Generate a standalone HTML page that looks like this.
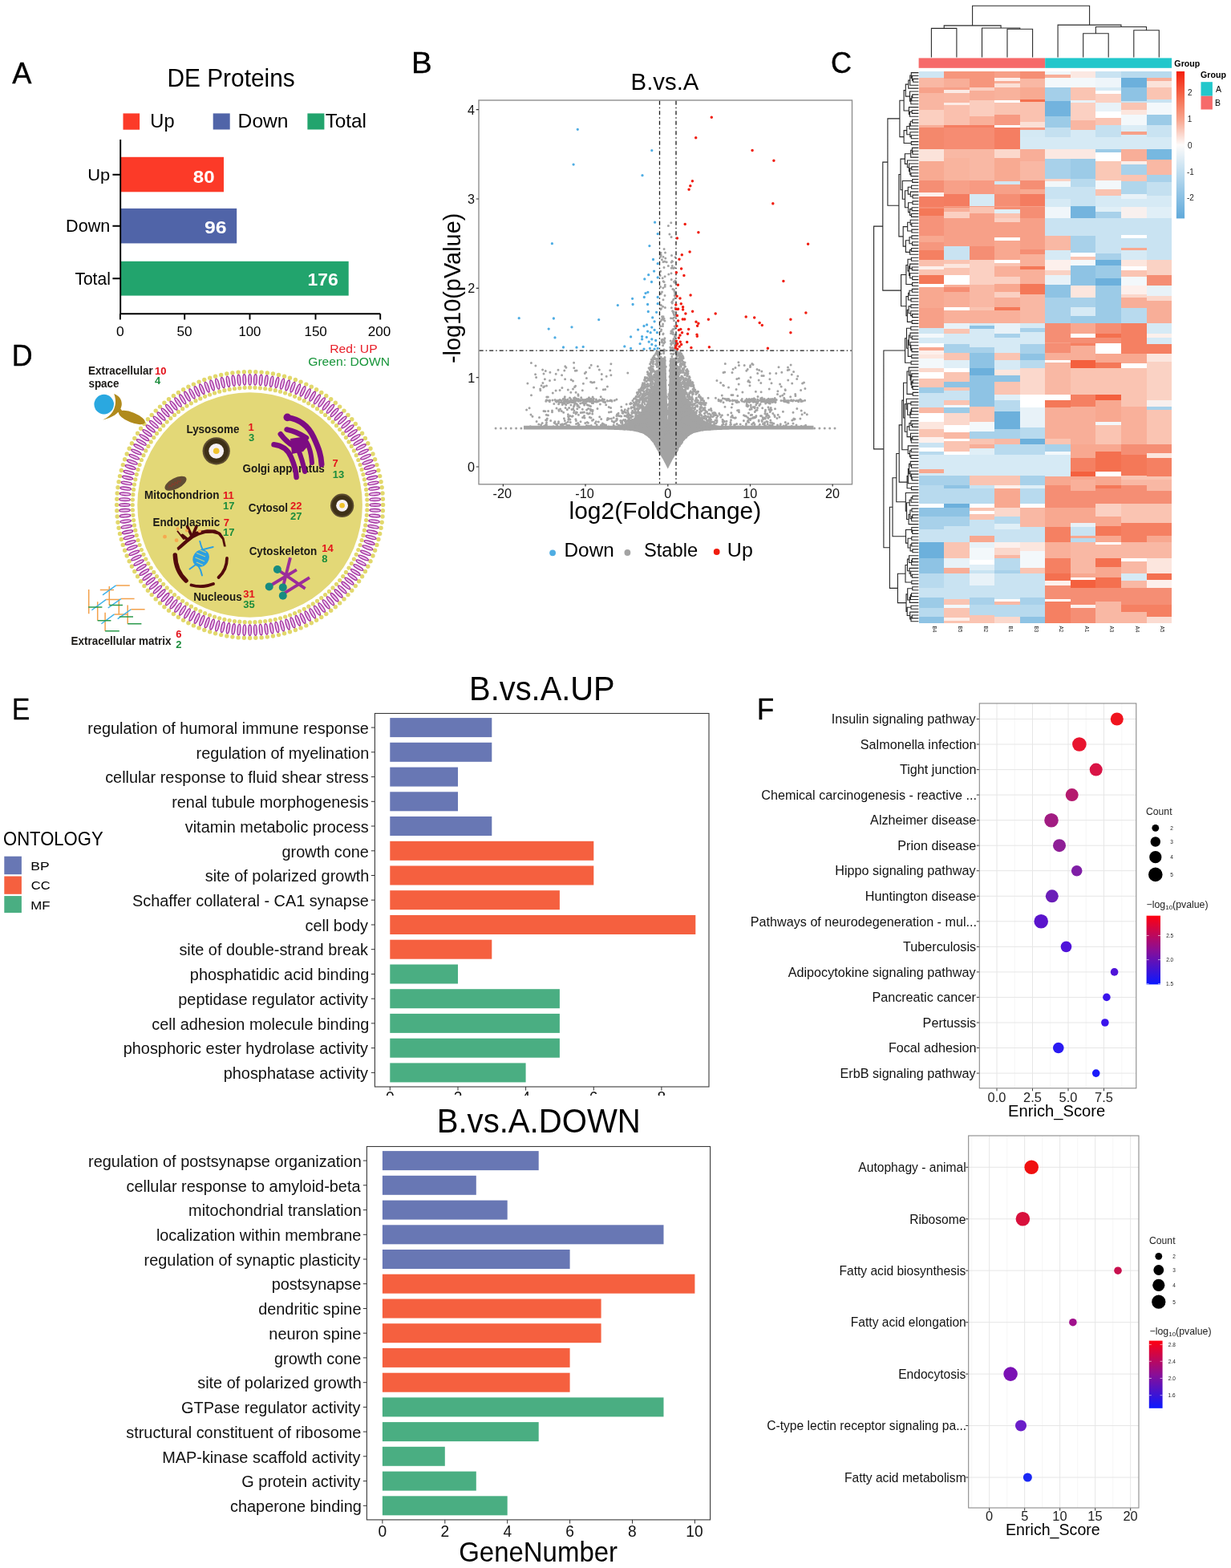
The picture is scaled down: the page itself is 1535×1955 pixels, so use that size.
<!DOCTYPE html>
<html><head><meta charset="utf-8"><title>Figure</title>
<style>html,body{margin:0;padding:0;background:#fff;}svg{display:block;}
text{font-family:"Liberation Sans",Arial,Helvetica,sans-serif;}</style></head>
<body><svg width="1535" height="1955" viewBox="0 0 1535 1955">
<rect width="1535" height="1955" fill="#fff"/>
<text x="15.20" y="103.8" font-size="37.2" textLength="24.17" lengthAdjust="spacingAndGlyphs" stroke="#000" stroke-width="0.4">A</text>
<text x="208.41" y="108.1" font-size="31.5" textLength="159.35" lengthAdjust="spacingAndGlyphs">DE Proteins</text>
<rect x="153.5" y="141.4" width="20.6" height="20.3" fill="#FC3A28"/>
<text x="187.33" y="158.7" font-size="24.4" textLength="30.20" lengthAdjust="spacingAndGlyphs">Up</text>
<rect x="265.7" y="141.4" width="21" height="20.1" fill="#5064A8"/>
<text x="296.63" y="158.7" font-size="24.4" textLength="62.91" lengthAdjust="spacingAndGlyphs">Down</text>
<rect x="383.4" y="141.4" width="21" height="20.1" fill="#22A46D"/>
<text x="405.71" y="158.7" font-size="24.4" textLength="51.32" lengthAdjust="spacingAndGlyphs">Total</text>
<rect x="150" y="195.8" width="129" height="43.5" fill="#FC3A28"/>
<rect x="150" y="259.9" width="145.2" height="43.5" fill="#5064A8"/>
<rect x="150" y="325.8" width="284.7" height="42.8" fill="#22A46D"/>
<text x="240.88" y="227.7" font-size="22.5" textLength="26.74" lengthAdjust="spacingAndGlyphs" font-weight="bold" fill="#fff">80</text>
<text x="254.93" y="290.6" font-size="22.5" textLength="27.59" lengthAdjust="spacingAndGlyphs" font-weight="bold" fill="#fff">96</text>
<text x="383.62" y="355.5" font-size="22.5" textLength="38.26" lengthAdjust="spacingAndGlyphs" font-weight="bold" fill="#fff">176</text>
<path d="M150.2 174V391.3H474.2" fill="none" stroke="#000" stroke-width="1.9"/>
<path d="M149.9 391.3V398.6M230.2 391.3V398.6M311.5 391.3V398.6M393.5 391.3V398.6M474.2 391.3V398.6M140.4 217.7H150M140.4 281.7H150M140.4 347.2H150" stroke="#000" stroke-width="1.9"/>
<text x="145.00" y="418.6" font-size="16.6" textLength="9.73" lengthAdjust="spacingAndGlyphs">0</text>
<text x="220.41" y="418.6" font-size="16.6" textLength="19.13" lengthAdjust="spacingAndGlyphs">50</text>
<text x="297.45" y="418.6" font-size="16.6" textLength="27.90" lengthAdjust="spacingAndGlyphs">100</text>
<text x="379.42" y="418.6" font-size="16.6" textLength="28.43" lengthAdjust="spacingAndGlyphs">150</text>
<text x="458.85" y="418.6" font-size="16.6" textLength="28.51" lengthAdjust="spacingAndGlyphs">200</text>
<text x="109.16" y="224.7" font-size="21.1" textLength="27.99" lengthAdjust="spacingAndGlyphs">Up</text>
<text x="82.07" y="289.2" font-size="21.8" textLength="55.27" lengthAdjust="spacingAndGlyphs">Down</text>
<text x="93.38" y="354.6" font-size="21.5" textLength="44.44" lengthAdjust="spacingAndGlyphs">Total</text>
<text x="411.24" y="440.3" font-size="15.0" textLength="59.41" lengthAdjust="spacingAndGlyphs" fill="#E8202A">Red: UP</text>
<text x="384.22" y="455.7" font-size="15.3" textLength="101.85" lengthAdjust="spacingAndGlyphs" fill="#17953A">Green: DOWN</text>
<text x="513.12" y="90.8" font-size="37.2" textLength="25.68" lengthAdjust="spacingAndGlyphs" stroke="#000" stroke-width="0.4">B</text>
<text x="786.55" y="111.8" font-size="30.2" textLength="84.84" lengthAdjust="spacingAndGlyphs">B.vs.A</text>
<rect x="597" y="125" width="465.5" height="478.8" fill="none" stroke="#8F8F8F" stroke-width="1.4"/>
<path d="M653.0 535.5 L655.2 535.5 L657.3 535.5 L659.5 535.5 L661.6 535.5 L663.8 535.5 L665.9 535.5 L668.0 535.5 L670.2 535.5 L672.3 535.5 L674.5 535.5 L676.6 535.5 L678.8 535.5 L680.9 535.5 L683.1 535.5 L685.2 535.5 L687.3 535.5 L689.5 535.5 L691.6 535.5 L693.8 535.5 L695.9 535.5 L698.1 535.5 L700.2 535.5 L702.4 535.5 L704.5 535.5 L706.6 535.5 L708.8 535.5 L710.9 535.5 L713.1 535.5 L715.2 535.5 L717.4 535.5 L719.5 535.5 L721.7 535.5 L723.8 535.5 L726.0 535.5 L728.1 535.5 L730.2 535.5 L732.4 535.5 L734.5 535.5 L736.7 535.5 L738.8 535.5 L741.0 535.5 L743.1 535.6 L745.3 535.6 L747.4 535.6 L749.5 535.6 L751.7 535.6 L753.8 535.6 L756.0 535.6 L758.1 535.7 L760.3 535.7 L762.4 535.7 L764.6 535.8 L766.7 535.9 L768.9 536.0 L771.0 536.1 L773.1 536.2 L775.3 536.3 L777.4 536.4 L779.6 536.5 L781.7 536.6 L783.9 536.8 L786.0 537.1 L788.2 537.3 L790.3 537.5 L792.5 537.9 L794.6 538.5 L796.7 539.1 L798.9 539.6 L801.0 540.2 L803.2 541.3 L805.3 542.7 L807.5 544.2 L809.6 546.3 L811.8 548.4 L813.9 551.2 L816.0 554.2 L818.2 557.6 L820.3 561.6 L822.5 565.5 L823.0 566.4 L823.5 567.3 L824.0 568.2 L824.5 569.1 L825.0 570.0 L825.6 570.9 L826.1 571.8 L826.6 572.6 L827.1 573.5 L827.6 574.4 L828.1 575.4 L828.6 576.4 L829.2 577.4 L829.7 578.4 L830.2 579.4 L830.7 580.4 L831.2 581.4 L831.7 582.4 L832.2 583.4 L832.8 584.4 L833.3 583.4 L833.8 582.4 L834.3 581.4 L834.8 580.4 L835.3 579.4 L835.8 578.4 L836.3 577.4 L836.9 576.4 L837.4 575.4 L837.9 574.4 L838.4 573.5 L838.9 572.6 L839.4 571.8 L839.9 570.9 L840.5 570.0 L841.0 569.1 L841.5 568.2 L842.0 567.3 L842.5 566.4 L843.0 565.5 L845.2 561.5 L847.4 557.5 L849.5 554.1 L851.7 551.1 L853.9 548.2 L856.0 546.1 L858.2 544.0 L860.4 542.5 L862.6 541.1 L864.7 540.1 L866.9 539.6 L869.1 539.0 L871.2 538.4 L873.4 537.8 L875.6 537.5 L877.8 537.3 L879.9 537.0 L882.1 536.8 L884.3 536.6 L886.4 536.5 L888.6 536.4 L890.8 536.3 L893.0 536.2 L895.1 536.1 L897.3 536.0 L899.5 535.9 L901.6 535.8 L903.8 535.7 L906.0 535.7 L908.1 535.7 L910.3 535.6 L912.5 535.6 L914.7 535.6 L916.8 535.6 L919.0 535.6 L921.2 535.6 L923.3 535.5 L925.5 535.5 L927.7 535.5 L929.9 535.5 L932.0 535.5 L934.2 535.5 L936.4 535.5 L938.5 535.5 L940.7 535.5 L942.9 535.5 L945.1 535.5 L947.2 535.5 L949.4 535.5 L951.6 535.5 L953.7 535.5 L955.9 535.5 L958.1 535.5 L960.3 535.5 L962.4 535.5 L964.6 535.5 L966.8 535.5 L968.9 535.5 L971.1 535.5 L973.3 535.5 L975.5 535.5 L977.6 535.5 L979.8 535.5 L982.0 535.5 L984.1 535.5 L986.3 535.5 L988.5 535.5 L990.6 535.5 L992.8 535.5 L995.0 535.5 L997.2 535.5 L999.3 535.5 L1001.5 535.5 L1003.7 535.5 L1005.8 535.5 L1008.0 535.5 L1010.2 535.5 L1012.4 535.5 L1014.5 535.5 L1014.5 530.8 L1012.4 530.8 L1010.2 530.8 L1008.0 530.8 L1005.8 530.8 L1003.7 530.8 L1001.5 530.8 L999.3 530.8 L997.2 530.8 L995.0 530.8 L992.8 530.8 L990.6 530.8 L988.5 530.8 L986.3 530.8 L984.1 530.8 L982.0 530.8 L979.8 530.8 L977.6 530.8 L975.5 530.8 L973.3 530.8 L971.1 530.8 L968.9 530.8 L966.8 530.8 L964.6 530.8 L962.4 530.8 L960.3 530.8 L958.1 530.8 L955.9 530.8 L953.7 530.8 L951.6 530.8 L949.4 530.8 L947.2 530.8 L945.1 530.8 L942.9 530.8 L940.7 530.8 L938.5 530.8 L936.4 530.8 L934.2 530.8 L932.0 530.8 L929.9 530.8 L927.7 530.8 L925.5 530.8 L923.3 530.8 L921.2 530.8 L919.0 530.8 L916.8 530.8 L914.7 530.8 L912.5 530.8 L910.3 530.8 L908.1 530.8 L906.0 530.8 L903.8 530.8 L901.6 530.8 L899.5 530.8 L897.3 530.8 L895.1 530.6 L893.0 530.1 L890.8 529.5 L888.6 528.9 L886.4 528.2 L884.3 527.3 L882.1 526.4 L879.9 525.3 L877.8 524.0 L875.6 522.6 L873.4 521.0 L871.2 519.1 L869.1 517.0 L866.9 514.6 L864.7 511.8 L862.6 508.6 L860.4 505.0 L858.2 500.9 L856.0 496.2 L853.9 490.9 L851.7 484.8 L849.5 477.8 L847.4 469.9 L845.2 460.8 L843.0 450.4 L842.5 446.2 L842.0 446.2 L841.5 446.2 L841.0 446.2 L840.5 446.2 L839.9 446.2 L839.4 446.2 L838.9 446.2 L838.4 446.2 L837.9 446.2 L837.4 446.2 L836.9 446.2 L836.3 446.2 L835.8 446.2 L835.3 446.2 L834.8 461.7 L834.3 477.9 L833.8 494.0 L833.3 510.2 L832.8 526.3 L832.2 510.2 L831.7 494.0 L831.2 477.9 L830.7 461.7 L830.2 446.2 L829.7 446.2 L829.2 446.2 L828.6 446.2 L828.1 446.2 L827.6 446.2 L827.1 446.2 L826.6 446.2 L826.1 446.2 L825.6 446.2 L825.0 446.2 L824.5 446.2 L824.0 446.2 L823.5 446.2 L823.0 446.2 L822.5 450.4 L820.3 460.7 L818.2 469.7 L816.0 477.6 L813.9 484.5 L811.8 490.6 L809.6 495.9 L807.5 500.6 L805.3 504.7 L803.2 508.3 L801.0 511.4 L798.9 514.2 L796.7 516.6 L794.6 518.8 L792.5 520.7 L790.3 522.3 L788.2 523.8 L786.0 525.0 L783.9 526.1 L781.7 527.1 L779.6 528.0 L777.4 528.7 L775.3 529.4 L773.1 530.0 L771.0 530.5 L768.9 530.8 L766.7 530.8 L764.6 530.8 L762.4 530.8 L760.3 530.8 L758.1 530.8 L756.0 530.8 L753.8 530.8 L751.7 530.8 L749.5 530.8 L747.4 530.8 L745.3 530.8 L743.1 530.8 L741.0 530.8 L738.8 530.8 L736.7 530.8 L734.5 530.8 L732.4 530.8 L730.2 530.8 L728.1 530.8 L726.0 530.8 L723.8 530.8 L721.7 530.8 L719.5 530.8 L717.4 530.8 L715.2 530.8 L713.1 530.8 L710.9 530.8 L708.8 530.8 L706.6 530.8 L704.5 530.8 L702.4 530.8 L700.2 530.8 L698.1 530.8 L695.9 530.8 L693.8 530.8 L691.6 530.8 L689.5 530.8 L687.3 530.8 L685.2 530.8 L683.1 530.8 L680.9 530.8 L678.8 530.8 L676.6 530.8 L674.5 530.8 L672.3 530.8 L670.2 530.8 L668.0 530.8 L665.9 530.8 L663.8 530.8 L661.6 530.8 L659.5 530.8 L657.3 530.8 L655.2 530.8 L653.0 530.8Z" fill="#A3A3A3"/>
<path d="M806.3 481.9h0M818.7 533.2h0M857.6 504.0h0M843.1 440.1h0M827.8 479.2h0M798.2 537.9h0M811.2 519.2h0M809.1 527.8h0M867.7 514.6h0M877.9 534.8h0M817.4 464.4h0M850.6 491.7h0M822.3 518.8h0M827.5 524.9h0M847.4 485.8h0M866.3 487.5h0M827.1 487.7h0M820.9 559.2h0M847.9 526.9h0M819.6 557.3h0M887.1 525.8h0M782.0 519.6h0M843.9 473.7h0M844.5 561.3h0M808.9 515.3h0M837.1 492.0h0M807.2 520.1h0M879.4 518.2h0M834.2 497.3h0M845.0 520.2h0M803.9 509.7h0M811.2 461.5h0M847.0 511.2h0M836.6 536.1h0M818.5 556.0h0M801.3 508.2h0M795.8 506.3h0M847.2 502.0h0M843.0 548.2h0M843.9 444.5h0M806.9 523.5h0M826.9 451.3h0M873.2 512.7h0M846.3 464.1h0M847.6 457.5h0M815.1 485.8h0M869.9 522.5h0M871.5 534.3h0M834.9 514.6h0M814.3 531.4h0M818.6 473.8h0M811.5 478.3h0M827.9 480.3h0M866.7 521.6h0M871.7 502.7h0M859.6 536.0h0M847.6 477.8h0M854.5 477.7h0M827.0 465.1h0M820.2 518.9h0M875.5 523.8h0M807.7 478.4h0M827.6 439.1h0M855.6 464.2h0M869.4 534.0h0M816.7 473.2h0M820.4 472.5h0M804.8 524.0h0M798.6 536.7h0M816.9 552.5h0M799.3 490.4h0M846.2 535.4h0M834.6 533.9h0M877.8 501.3h0M809.9 506.8h0M822.8 534.9h0M836.7 470.6h0M856.8 525.0h0M829.2 482.8h0M811.5 504.9h0M879.0 508.6h0M842.8 491.8h0M811.7 485.8h0M863.2 530.2h0M826.1 546.9h0M818.1 478.0h0M810.5 500.9h0M809.2 512.2h0M820.6 497.0h0M867.2 530.8h0M844.5 465.6h0M816.6 509.2h0M831.6 526.0h0M818.0 478.9h0M849.5 494.4h0M813.5 526.7h0M806.8 519.5h0M805.7 516.2h0M811.0 478.6h0M908.0 532.5h0M861.5 538.5h0M801.4 537.0h0M875.5 524.2h0M861.9 525.6h0M809.2 537.3h0M827.9 476.2h0M796.9 533.2h0M842.7 563.4h0M821.3 469.6h0M788.3 523.2h0M841.4 474.9h0M838.3 525.0h0M900.4 517.8h0M847.1 498.1h0M793.3 516.9h0M866.4 518.9h0M813.2 511.0h0M819.6 469.6h0M845.0 461.3h0M831.7 532.2h0M810.9 545.2h0M809.1 485.8h0M850.3 510.3h0M819.6 540.7h0M803.5 513.8h0M851.5 528.8h0M853.4 544.0h0M883.3 535.3h0M867.4 536.0h0M820.7 515.3h0M817.7 519.1h0M849.3 445.0h0M849.5 498.6h0M790.1 531.9h0M811.2 502.1h0M847.9 548.0h0M820.0 538.2h0M849.8 550.1h0M823.6 540.9h0M848.9 473.8h0M826.0 465.8h0M808.9 481.1h0M779.3 524.8h0M816.4 544.4h0M885.6 529.4h0M871.3 528.4h0M830.3 457.3h0M771.9 533.0h0M851.7 540.2h0M826.7 471.9h0M818.9 551.4h0M818.6 450.4h0M868.3 517.7h0M844.9 438.8h0M792.8 503.5h0M796.9 518.1h0M812.0 456.5h0M780.0 526.6h0M829.9 486.4h0M847.5 534.8h0M901.4 532.9h0M850.5 536.2h0M858.9 525.8h0M865.4 537.5h0M872.8 525.2h0M801.5 536.7h0M801.8 530.3h0M829.2 449.6h0M888.7 519.5h0M792.4 528.3h0M849.6 487.2h0M856.2 479.8h0M804.2 483.0h0M885.0 526.0h0M860.9 480.8h0M817.6 447.2h0M821.7 439.8h0M848.5 505.0h0M845.0 551.5h0M818.3 464.6h0M798.0 516.5h0M857.9 465.8h0M848.5 529.6h0M810.9 474.6h0M805.3 496.6h0M854.4 474.2h0M808.4 473.1h0M821.5 507.7h0M832.3 514.1h0M805.3 515.7h0M822.8 481.1h0M822.5 510.7h0M824.3 546.9h0M794.5 518.3h0M810.9 474.1h0M801.8 509.5h0M845.6 522.1h0M854.7 479.3h0M833.7 526.0h0M856.1 523.9h0M848.3 445.9h0M862.6 537.2h0M852.8 535.9h0M864.1 489.8h0M849.6 552.5h0M793.5 498.0h0M807.1 487.1h0M850.7 548.0h0M780.6 514.4h0M853.7 474.9h0M844.5 492.6h0M840.8 476.4h0M803.8 481.3h0M821.7 525.1h0M858.6 522.0h0M886.4 517.4h0M797.0 487.1h0M832.6 532.9h0M779.9 523.4h0M836.0 460.3h0M810.8 454.0h0M819.3 449.2h0M802.0 497.2h0M838.6 520.4h0M834.9 543.2h0M837.9 453.5h0M806.2 490.4h0M820.8 438.4h0M793.4 533.3h0M810.4 466.5h0M879.5 511.8h0M799.8 528.8h0M867.1 536.8h0M817.5 500.1h0M859.5 521.5h0M850.4 550.8h0M865.4 520.1h0M808.7 519.8h0M820.6 549.4h0M845.7 460.9h0M865.7 522.1h0M850.6 445.3h0M853.3 473.2h0M768.9 522.2h0M817.2 485.1h0M798.5 529.5h0M865.2 521.7h0M848.4 449.6h0M853.2 486.5h0M812.1 494.5h0M816.1 504.9h0M800.8 505.0h0M813.6 528.4h0M802.5 490.5h0M809.2 526.1h0M803.6 525.4h0M861.4 481.3h0M869.7 529.8h0M872.7 526.6h0M862.5 499.0h0M806.4 488.5h0M816.1 534.3h0M842.1 477.2h0M874.9 507.5h0M811.1 488.8h0M806.5 534.5h0M757.2 523.6h0M865.9 529.8h0M805.6 471.4h0M789.1 519.3h0M811.9 450.8h0M849.7 513.0h0M799.8 522.7h0M851.9 445.2h0M816.5 539.2h0M821.0 560.9h0M854.1 452.1h0M815.2 444.2h0M856.1 523.9h0M793.1 521.2h0M805.7 511.7h0M807.6 485.8h0M847.5 524.4h0M831.8 516.5h0M812.3 473.0h0M815.9 487.6h0M795.6 489.3h0M872.5 534.7h0M800.1 530.6h0M812.3 470.4h0M856.5 504.9h0M806.0 541.0h0M845.4 459.5h0M765.2 520.8h0M798.8 532.3h0M844.9 447.2h0M861.8 526.8h0M802.1 496.2h0M875.1 502.3h0M804.2 481.0h0M782.6 525.3h0M815.1 523.2h0M786.8 531.1h0M824.0 465.7h0M848.3 477.3h0M809.3 528.5h0M818.1 533.4h0M851.8 521.7h0M852.0 545.6h0M813.3 512.4h0M807.7 463.8h0M809.1 515.3h0M843.7 471.3h0M817.9 537.1h0M800.0 516.7h0M812.9 514.3h0M813.9 544.4h0M798.3 497.1h0M793.6 519.5h0M819.5 542.1h0M806.6 519.4h0M846.1 460.1h0M808.2 529.6h0M821.8 488.5h0M860.9 536.7h0M835.1 469.8h0M815.4 548.4h0M769.3 517.6h0M874.4 504.5h0M857.5 497.9h0M851.6 521.4h0M878.8 530.0h0M857.8 521.7h0M828.3 524.5h0M771.9 530.2h0M873.4 501.6h0M869.5 505.2h0M797.4 523.4h0M856.0 462.6h0M804.3 492.6h0M839.7 440.9h0M822.9 559.2h0M861.2 540.2h0M791.1 502.8h0M800.9 515.4h0M858.1 483.6h0M824.3 478.1h0M862.9 538.5h0M828.8 500.9h0M842.5 562.1h0M860.5 526.9h0M801.9 518.2h0M862.8 513.9h0M848.9 453.0h0M878.7 510.9h0M855.4 473.9h0M817.0 470.7h0M820.5 510.7h0M854.4 465.9h0M831.6 530.4h0M802.7 493.1h0M825.5 448.0h0M806.0 534.0h0M808.1 490.7h0M864.3 503.7h0M848.2 530.5h0M867.0 514.2h0M843.9 561.8h0M814.1 449.5h0M839.3 463.3h0M859.0 536.5h0M791.4 496.7h0M847.2 481.8h0M803.8 531.0h0M857.7 493.0h0M783.9 534.2h0M798.5 497.9h0M804.4 518.0h0M836.5 487.0h0M795.9 525.1h0M862.6 499.1h0M785.9 523.7h0M832.8 534.6h0M802.1 526.7h0M769.4 523.2h0M785.0 530.9h0M856.2 543.0h0M822.6 479.9h0M820.8 493.2h0M790.8 535.9h0M825.0 472.4h0M871.9 517.2h0M859.7 489.8h0M867.9 513.4h0M809.2 510.7h0M809.0 540.2h0M847.2 474.0h0M776.8 514.0h0M819.3 536.3h0M844.5 538.7h0M853.4 480.3h0M807.3 463.8h0M843.4 505.0h0M820.2 539.2h0M829.3 510.5h0M846.6 471.1h0M847.3 530.4h0M811.7 466.6h0M854.0 502.6h0M858.7 473.3h0M817.8 541.5h0M809.9 530.0h0M867.0 537.7h0M782.9 528.6h0M866.0 532.1h0M816.7 507.6h0M852.9 532.4h0M813.4 530.2h0M834.8 513.4h0M852.5 482.0h0M864.6 487.4h0M811.3 458.1h0M827.5 537.0h0M825.3 541.3h0M843.9 557.1h0M893.6 521.1h0M835.4 469.0h0M810.9 478.3h0M782.4 511.8h0M800.7 493.9h0M794.9 491.7h0M791.2 507.4h0M853.3 545.4h0M875.4 530.0h0M815.4 447.5h0M839.1 519.6h0M804.4 540.2h0M817.7 440.9h0M861.8 509.0h0M845.7 493.3h0M837.7 543.8h0M821.8 474.5h0M839.3 499.1h0M836.3 540.9h0M828.2 450.3h0M815.1 520.8h0M799.6 495.8h0M779.6 518.8h0M795.0 527.3h0M839.2 531.7h0M856.8 510.7h0M848.6 457.1h0M819.3 457.4h0M819.5 533.4h0M861.2 520.4h0M844.5 547.5h0M838.9 535.3h0M856.7 535.5h0M858.0 481.1h0M852.5 486.6h0M839.6 459.6h0M820.5 474.0h0M818.3 533.5h0M822.7 509.7h0M795.8 498.8h0M829.0 445.5h0M850.3 491.2h0M801.1 529.4h0M787.0 525.1h0M817.2 554.1h0M875.0 504.2h0M851.4 529.9h0M809.1 458.7h0M845.3 451.5h0M820.2 486.5h0M822.4 563.9h0M805.6 538.6h0M835.9 454.4h0M880.2 529.2h0M820.4 542.0h0M883.5 528.2h0M889.9 518.5h0M806.3 500.6h0M816.7 464.1h0M840.6 494.4h0M846.1 522.8h0M820.1 553.5h0M833.1 516.2h0M819.3 453.8h0M869.1 536.4h0M840.5 495.7h0M851.2 505.6h0M861.0 512.7h0M868.2 524.3h0M863.8 505.6h0M816.5 552.8h0M804.5 479.5h0M864.8 480.2h0M857.1 537.6h0M822.5 555.1h0M854.3 542.7h0M841.5 469.2h0M860.3 538.1h0M793.4 515.9h0M851.1 485.6h0M842.8 489.9h0M864.0 477.5h0M835.7 455.7h0M846.1 555.0h0M812.0 469.0h0M804.3 530.4h0M838.3 537.9h0M817.6 534.9h0M853.6 492.4h0M807.4 471.2h0M851.9 498.1h0M817.1 476.6h0M864.8 519.6h0M861.5 536.4h0M824.2 495.4h0M821.4 495.4h0M820.4 492.9h0M874.5 498.4h0M822.3 552.1h0M806.3 508.4h0M818.0 533.0h0M890.3 526.2h0M835.4 507.1h0M869.5 488.3h0M834.1 512.0h0M850.7 449.9h0M857.2 538.7h0M802.7 537.2h0M859.2 523.5h0M860.3 539.5h0M791.0 528.9h0M809.9 501.8h0M816.9 527.6h0M818.3 541.1h0M810.2 469.8h0M849.4 528.2h0M802.5 511.6h0M858.4 540.6h0M870.1 534.7h0M824.4 504.7h0M786.9 520.5h0M855.9 490.7h0M847.2 511.1h0M814.6 519.2h0M826.7 544.0h0M846.3 518.6h0M846.3 555.7h0M818.8 475.9h0M848.3 439.6h0M794.4 530.6h0M911.5 529.0h0M811.1 473.2h0M862.5 539.7h0M863.8 536.0h0M850.3 485.2h0M858.5 541.0h0M855.6 519.4h0M848.2 479.6h0M865.8 530.5h0M863.6 481.3h0M822.4 486.6h0M852.3 545.1h0M816.3 519.2h0M832.3 532.8h0M804.6 533.2h0M799.5 514.3h0M800.7 493.9h0M893.9 534.4h0M839.6 501.2h0M839.9 481.7h0M787.7 530.0h0M807.5 490.0h0M819.0 451.6h0M870.2 532.1h0M795.6 503.7h0M833.4 528.2h0M850.4 551.4h0M850.5 517.6h0M797.3 501.5h0M812.8 548.2h0M828.9 508.7h0M775.1 511.5h0M844.4 548.2h0M851.2 548.1h0M816.1 547.8h0M823.2 508.0h0M904.9 529.4h0M768.9 518.4h0M825.0 513.2h0M848.4 536.3h0M813.8 513.6h0M826.6 507.4h0M852.1 470.9h0M824.3 476.7h0M840.5 459.9h0M831.4 494.8h0M812.3 493.1h0M813.2 499.3h0M860.1 470.8h0M838.7 516.3h0M813.8 508.0h0M825.9 453.8h0M808.9 468.2h0M799.4 486.9h0M793.0 510.0h0M786.5 529.5h0M865.5 533.9h0M859.1 523.4h0M815.3 462.3h0M829.7 487.7h0M793.9 534.4h0M820.6 547.6h0M845.7 552.8h0M853.9 477.1h0M816.4 473.9h0M793.4 524.3h0M867.9 497.4h0M862.6 477.2h0M795.1 500.2h0M800.7 503.0h0M821.7 481.1h0M858.0 497.5h0M824.0 507.9h0M848.5 461.9h0M873.0 523.4h0M847.4 554.9h0M859.6 476.5h0M837.4 528.6h0M837.1 532.6h0M872.5 536.7h0M856.9 532.5h0M804.1 538.2h0M835.5 461.5h0M850.3 448.1h0M830.3 507.1h0M859.8 494.1h0M854.8 484.6h0M843.4 447.2h0M848.0 450.9h0M803.5 532.4h0M849.0 471.1h0M857.8 503.8h0M860.0 505.7h0M795.7 533.2h0M792.1 526.6h0M857.9 536.9h0M849.3 547.5h0M808.4 543.2h0M779.3 510.7h0M818.2 474.8h0M868.4 534.8h0M782.7 532.8h0M871.1 534.6h0M841.0 519.5h0M821.9 561.8h0M814.4 550.1h0M808.2 481.9h0M784.8 528.9h0M793.3 521.2h0M811.3 471.3h0M824.0 514.1h0M857.2 466.5h0M812.1 451.8h0M871.5 532.4h0M808.6 532.9h0M858.6 500.3h0M780.7 528.7h0M859.3 533.6h0M854.8 534.9h0M848.6 464.7h0M838.8 485.8h0M837.1 531.8h0M802.2 527.4h0M843.1 453.7h0M844.9 466.3h0M850.2 545.1h0M825.8 476.4h0M858.1 462.9h0M765.2 530.0h0M855.4 505.7h0M788.9 499.4h0M803.3 501.2h0M820.0 531.2h0M807.3 510.2h0M847.1 515.4h0M847.6 481.3h0M794.0 519.4h0M852.7 508.1h0M791.1 508.6h0M790.6 530.6h0M793.8 502.8h0M843.6 446.1h0M882.6 525.1h0M834.4 479.9h0M847.1 479.5h0M802.8 498.5h0M838.2 542.0h0M857.3 515.0h0M869.9 521.3h0M855.5 481.4h0M806.3 525.5h0M803.5 513.3h0M821.0 530.9h0M820.0 545.0h0M803.2 498.9h0M813.0 533.1h0M847.8 498.1h0M842.7 543.2h0M811.8 538.4h0M793.8 515.0h0M842.6 563.6h0M861.9 521.0h0M815.1 499.0h0M812.9 501.2h0M870.6 536.4h0M842.7 560.5h0M801.2 506.5h0M820.7 555.1h0M822.2 499.8h0M874.7 526.5h0M860.9 512.4h0M814.2 469.7h0M820.2 559.7h0M787.0 518.5h0M800.8 538.8h0M859.0 531.9h0M801.7 538.8h0M806.6 496.3h0M853.7 456.9h0M804.1 493.4h0M839.6 477.4h0M819.7 453.9h0M842.6 546.5h0M791.3 523.9h0M788.7 525.8h0M838.4 531.0h0M810.6 503.9h0M819.4 465.5h0M843.6 531.9h0M814.3 481.8h0M797.4 532.9h0M797.4 534.5h0M880.3 502.5h0M807.1 485.0h0M826.2 484.2h0M886.1 519.8h0M820.5 463.5h0M795.9 532.3h0M811.6 486.4h0M852.1 446.8h0M820.1 507.6h0M802.9 497.1h0M850.8 529.7h0M861.3 536.2h0M805.4 519.7h0M855.5 544.3h0M788.8 519.2h0M832.2 541.8h0M837.7 543.5h0M845.9 492.0h0M837.7 475.3h0M857.7 498.8h0M807.2 470.9h0M856.9 533.9h0M805.8 539.3h0M810.1 543.5h0M844.6 483.7h0M778.9 518.6h0M801.4 530.5h0M890.8 532.3h0M796.8 514.1h0M814.2 462.9h0M812.2 468.1h0M861.2 487.7h0M790.8 514.7h0M855.1 483.4h0M822.4 525.6h0M785.6 503.4h0M814.8 527.8h0M866.3 520.6h0M822.4 559.9h0M822.1 514.2h0M852.1 506.4h0M783.3 524.1h0M866.5 514.9h0M812.4 448.3h0M851.1 531.5h0M812.3 540.0h0M867.0 537.6h0M821.7 486.8h0M818.6 508.4h0M837.3 511.5h0M856.2 490.3h0M829.0 523.3h0M885.3 524.1h0M876.1 496.7h0M852.4 464.3h0M857.9 539.2h0M807.3 515.4h0M813.8 471.7h0M857.7 462.5h0M862.3 479.8h0M833.4 535.3h0M830.5 541.5h0M880.9 532.4h0M856.6 476.9h0M817.7 531.9h0M831.1 545.1h0M836.5 506.3h0M813.4 473.4h0M845.0 484.5h0M804.5 527.0h0M820.9 512.2h0M817.2 549.6h0M871.2 518.7h0M819.1 488.6h0M854.2 521.1h0M869.3 512.1h0M849.0 480.9h0M801.7 527.0h0M776.8 515.3h0M885.8 534.5h0M807.2 505.7h0M818.3 537.4h0M836.5 512.4h0M804.9 538.5h0M845.1 491.7h0M832.4 525.2h0M820.7 531.9h0M845.2 537.7h0M847.0 488.2h0M793.6 528.1h0M853.2 531.0h0M852.5 460.7h0M870.6 531.7h0M886.0 524.8h0M810.1 460.8h0M861.2 496.6h0M856.2 518.8h0M890.6 528.6h0M821.2 443.1h0M885.6 521.9h0M834.6 516.2h0M828.8 490.0h0M860.8 476.5h0M811.3 546.0h0M850.8 516.7h0M861.9 480.0h0M809.2 504.6h0M854.3 465.7h0M864.4 521.5h0M797.5 507.4h0M848.3 474.0h0M823.0 466.6h0M783.0 512.6h0M893.2 517.4h0M870.4 499.4h0M902.0 524.4h0M809.4 529.3h0M820.2 546.7h0M784.3 523.8h0M787.2 533.1h0M815.8 495.9h0M849.6 490.5h0M820.4 547.2h0M807.5 536.0h0M818.9 532.7h0M817.3 530.6h0M887.9 530.8h0M849.2 462.5h0M820.4 495.1h0M823.6 519.1h0M847.9 503.4h0M820.2 442.8h0M783.8 516.7h0M822.1 529.9h0M799.5 524.2h0M804.6 535.0h0M821.4 447.1h0M792.9 514.5h0M865.1 485.1h0M817.3 529.0h0M836.0 463.2h0M815.2 511.2h0M871.3 494.4h0M866.6 529.1h0M846.7 539.2h0M841.7 531.8h0M798.5 505.5h0M793.3 525.0h0M806.2 516.6h0M770.3 517.2h0M855.7 519.4h0M864.1 515.4h0M816.2 443.1h0M840.4 481.3h0M817.3 463.3h0M803.1 500.4h0M812.7 479.2h0M821.8 549.0h0M821.3 471.2h0M797.8 492.7h0M810.8 461.4h0M845.5 501.6h0M818.7 556.9h0M855.8 508.0h0M806.3 486.5h0M783.4 515.0h0M812.7 528.7h0M782.7 535.1h0M797.4 532.5h0M822.7 535.0h0M879.5 534.4h0M861.9 529.5h0M857.2 521.9h0M814.0 546.2h0M777.7 523.5h0M848.2 443.1h0M890.1 529.5h0M852.1 473.5h0M849.5 471.9h0M850.5 453.7h0M813.2 496.1h0M792.4 535.2h0M858.1 493.5h0M826.4 494.8h0M803.9 472.8h0M843.1 495.9h0M842.9 544.8h0M853.5 501.5h0M838.2 536.2h0M838.9 482.5h0M821.2 502.7h0M809.0 494.4h0M853.6 539.3h0M872.5 522.3h0M842.0 497.8h0M856.5 468.6h0M822.9 523.7h0M840.4 460.3h0M867.5 499.2h0M853.8 507.9h0M808.8 494.9h0M820.7 444.1h0M809.9 488.6h0M886.5 533.0h0M849.6 492.8h0M880.6 521.9h0M842.6 459.4h0M801.7 509.9h0M858.9 533.9h0M811.1 525.3h0M854.2 490.7h0M813.6 522.5h0M796.4 523.5h0M803.0 533.0h0M821.3 456.7h0M821.3 539.6h0M789.7 530.3h0M840.5 457.0h0M844.5 491.7h0M806.9 479.6h0M858.8 480.9h0M818.9 555.4h0M827.1 543.9h0M793.0 495.5h0M830.1 513.1h0M804.8 540.9h0M873.5 521.4h0M807.2 539.1h0M848.5 534.3h0M854.2 530.7h0M818.8 455.2h0M858.3 498.6h0M894.8 518.7h0M818.6 553.5h0M857.4 536.9h0M795.7 511.7h0M801.2 499.9h0M802.2 538.2h0M835.2 485.7h0M801.5 477.7h0M851.2 478.3h0M857.9 465.4h0M810.2 523.7h0M814.2 462.3h0M793.0 500.5h0M833.3 524.1h0M851.2 491.2h0M859.9 475.7h0M848.4 547.7h0M885.8 528.0h0M811.8 503.9h0M806.2 516.2h0M802.0 487.3h0M822.4 549.6h0M803.3 482.7h0M859.0 494.7h0M849.2 480.5h0M852.9 459.1h0M823.8 474.5h0M833.9 496.8h0M860.8 473.9h0M851.5 464.6h0M819.2 508.3h0M873.4 494.8h0M796.4 513.7h0M819.8 559.0h0M887.2 534.2h0M811.2 516.1h0M847.9 535.6h0M852.9 486.9h0M812.6 504.0h0M834.2 541.9h0M794.3 489.6h0M867.1 521.3h0M808.5 536.4h0M852.5 539.2h0M860.4 536.3h0M801.2 494.8h0M788.6 512.2h0M857.4 533.0h0M863.3 508.2h0M844.8 458.8h0M860.5 534.9h0M843.9 469.8h0M844.4 548.7h0M826.0 514.8h0M797.1 488.7h0M855.5 461.8h0M858.5 525.4h0M793.7 536.1h0M820.5 471.3h0M838.6 453.3h0M808.9 540.6h0M816.9 551.2h0M812.9 539.1h0M879.4 514.8h0M791.5 535.4h0M865.0 508.7h0M856.8 494.4h0M822.1 504.6h0M821.6 553.8h0M817.9 476.3h0M796.8 486.1h0M809.0 524.6h0M842.8 546.9h0M814.2 533.1h0M848.6 520.9h0M815.9 533.5h0M844.9 560.4h0M823.0 458.9h0M845.9 443.2h0M814.2 494.7h0M810.8 453.7h0M804.5 519.9h0M900.6 531.6h0M818.4 464.4h0M879.8 518.8h0M773.7 524.5h0M839.2 520.5h0M820.3 447.2h0M824.2 534.4h0M850.7 510.8h0M819.0 500.9h0M870.6 488.3h0M851.1 447.2h0M792.9 536.6h0M823.0 474.7h0M822.8 488.5h0M872.5 535.0h0M858.8 512.0h0M834.2 528.7h0M854.6 456.9h0M802.7 537.7h0M811.6 486.6h0M777.8 513.2h0M841.8 448.4h0M846.9 486.5h0M819.5 551.0h0M836.0 503.5h0M845.8 441.8h0M873.0 516.2h0M844.8 558.9h0M812.5 474.8h0M809.3 538.0h0M887.1 512.0h0M863.5 505.4h0M806.2 475.5h0M810.6 542.0h0M828.7 461.0h0M823.6 484.1h0M846.0 499.3h0M892.9 527.8h0M813.3 524.7h0M800.9 480.0h0M856.0 544.4h0M812.4 538.4h0M818.0 547.7h0M811.5 483.1h0M815.2 470.4h0M786.4 535.5h0M876.8 510.9h0M847.5 501.7h0M816.4 467.9h0M805.5 531.6h0M814.2 472.9h0M844.2 514.1h0M833.3 515.4h0M798.0 519.2h0M845.0 477.1h0M769.4 516.8h0M842.7 481.2h0M818.4 480.0h0M816.2 506.8h0M881.8 525.6h0M833.2 546.0h0M802.1 535.1h0M842.8 481.4h0M835.1 489.0h0M844.0 496.9h0M872.5 510.0h0M818.5 544.6h0M859.8 505.5h0M822.4 529.1h0M854.5 500.0h0M842.1 500.2h0M801.0 510.6h0M819.9 528.7h0M819.1 439.7h0M861.9 479.0h0M877.7 502.9h0M845.9 544.6h0M805.7 511.3h0M800.9 511.3h0M856.1 464.9h0M825.1 464.8h0M865.8 487.1h0M816.9 473.2h0M877.7 499.7h0M834.1 509.1h0M839.0 468.0h0M874.5 512.7h0M805.7 487.2h0M822.0 514.4h0M818.4 498.6h0M823.7 541.5h0M759.5 522.1h0M791.1 510.3h0M838.7 537.7h0M868.8 537.6h0M862.6 530.7h0M856.2 529.5h0M862.9 494.9h0M849.3 502.8h0M826.0 500.1h0M865.6 504.7h0M821.4 561.6h0M818.4 553.7h0M864.4 490.9h0M798.6 505.2h0M821.6 559.9h0M807.3 490.5h0M836.1 538.2h0M852.7 475.5h0M843.0 481.0h0M846.4 488.5h0M827.3 539.5h0M768.4 524.4h0M809.8 532.7h0M874.1 509.2h0M850.2 551.5h0M821.3 490.1h0M886.5 509.6h0M792.0 512.7h0M824.8 490.6h0M826.2 494.6h0M813.5 450.8h0M850.6 540.0h0M827.4 517.8h0M822.3 535.3h0M810.0 488.9h0M823.5 544.0h0M804.6 530.6h0M795.8 490.2h0M856.2 502.4h0M804.3 470.4h0M838.3 521.7h0M849.3 479.5h0M803.0 484.5h0M802.8 483.4h0M853.2 534.0h0M824.4 525.5h0M813.0 532.7h0M845.0 531.7h0M842.9 475.9h0M847.3 442.6h0M848.9 544.6h0M810.6 453.8h0M812.9 483.6h0M796.1 526.8h0M868.0 489.5h0M787.7 514.6h0M850.4 493.1h0M802.9 480.2h0M869.4 536.6h0M858.7 477.9h0M819.5 538.6h0M874.9 503.8h0M870.1 501.6h0M859.4 541.0h0M849.6 496.6h0M821.5 533.8h0M805.9 470.7h0M790.3 504.9h0M848.2 521.4h0M844.0 552.2h0M840.0 507.1h0M868.4 523.2h0M798.5 517.4h0M840.1 512.1h0M848.1 491.6h0M814.3 453.6h0M864.2 538.7h0M873.5 517.3h0M882.6 530.7h0M848.1 550.0h0M848.3 531.2h0M832.6 532.2h0M812.8 499.3h0M878.4 528.9h0M842.2 447.0h0M856.6 506.2h0M820.0 501.2h0M813.9 482.5h0M765.3 526.2h0M843.9 510.0h0M840.7 449.3h0M843.0 450.4h0M817.0 521.4h0M849.1 448.1h0M799.4 508.3h0M813.5 448.3h0M804.8 537.2h0M843.6 501.6h0M858.9 527.4h0M794.6 506.1h0M843.2 477.6h0M847.5 525.6h0M811.1 526.6h0M862.3 530.8h0M857.2 468.9h0M862.2 537.1h0M841.5 541.5h0M856.2 472.6h0M809.3 508.4h0M801.2 492.1h0M823.5 503.7h0M811.7 490.7h0M818.5 469.5h0M852.2 463.3h0M821.8 499.0h0M859.0 472.0h0M882.7 524.6h0M822.3 449.6h0M827.7 457.3h0M842.7 490.9h0M827.5 476.9h0M863.3 496.7h0M844.0 536.5h0M808.4 465.4h0M803.7 494.0h0M818.2 513.6h0M838.2 464.9h0M832.5 545.1h0M765.6 526.7h0M805.3 499.2h0M858.0 494.6h0M849.3 535.5h0M833.0 524.6h0M818.7 549.1h0M838.5 516.0h0M793.6 529.0h0M843.1 500.7h0M868.4 496.1h0M872.7 510.4h0M822.4 530.0h0M813.2 460.7h0M881.6 513.6h0M841.6 502.9h0M788.9 532.7h0M798.8 532.5h0M811.9 463.0h0M850.8 469.8h0M808.9 540.5h0M817.6 543.0h0M814.4 521.0h0M894.0 525.9h0M857.5 476.6h0M862.2 520.1h0M803.2 531.1h0M816.3 550.8h0M837.1 480.8h0M852.1 453.2h0M878.2 533.9h0M782.7 520.2h0M803.4 525.0h0M776.0 527.9h0M814.0 538.7h0M848.9 528.0h0M826.4 542.9h0M796.7 536.6h0M790.0 514.0h0M863.1 534.6h0M842.8 508.4h0M791.7 505.3h0M833.6 504.0h0M794.3 514.1h0M821.8 536.6h0M820.8 538.5h0M808.9 492.3h0M859.5 512.1h0M810.5 474.8h0M866.2 535.9h0M851.1 524.6h0M855.1 488.8h0M850.9 476.4h0M856.5 537.9h0M816.5 496.8h0M851.1 498.3h0M856.1 491.0h0M795.1 509.7h0M856.6 538.4h0M823.1 512.3h0M868.0 526.8h0M865.3 483.6h0M851.5 516.7h0M797.6 537.5h0M848.9 480.5h0M819.0 449.3h0M822.0 495.4h0M805.3 498.5h0M853.7 482.7h0M894.0 524.1h0M792.8 517.2h0M844.4 495.0h0M853.1 528.9h0M865.2 508.9h0M852.8 537.8h0M818.8 474.0h0M844.8 441.3h0M807.9 510.7h0M871.8 492.6h0M862.8 517.2h0M791.1 522.6h0M791.6 524.8h0M854.1 535.0h0M812.4 464.6h0M795.1 505.0h0M790.5 497.3h0M863.4 535.3h0M814.0 445.9h0M801.9 528.4h0M819.2 462.6h0M815.7 485.1h0M822.9 449.8h0M804.6 514.7h0M828.9 523.7h0M852.2 451.7h0M832.1 527.9h0M807.6 520.2h0M855.7 463.7h0M809.1 534.9h0M819.0 489.1h0M874.8 517.7h0M848.9 449.8h0M856.1 520.2h0M817.5 511.2h0M858.5 473.4h0M848.6 482.8h0M845.2 472.3h0M838.3 472.3h0M803.8 477.6h0M845.8 471.4h0M789.2 507.7h0M783.9 519.3h0M787.9 527.0h0M867.7 500.0h0M804.1 503.8h0M850.7 482.4h0M864.8 481.7h0M823.7 472.5h0M807.5 517.6h0M853.4 499.6h0M874.3 520.7h0M860.2 532.4h0M811.2 464.6h0M805.5 534.4h0M813.5 484.6h0M819.7 535.5h0M843.8 562.5h0M800.0 538.5h0M881.2 534.6h0M856.8 523.4h0M792.9 527.6h0M829.6 466.1h0M822.8 483.0h0M869.6 536.1h0M872.4 513.9h0M847.2 505.8h0M813.3 537.0h0M847.2 514.4h0M845.7 517.5h0M803.7 474.2h0M863.6 517.6h0M832.4 530.3h0M824.3 475.2h0M850.0 479.2h0M890.4 514.4h0M832.2 527.9h0M803.9 537.8h0M896.8 515.6h0M821.4 529.5h0M855.2 484.2h0M818.6 528.8h0M794.1 534.1h0M835.3 518.3h0M800.2 528.7h0M810.4 522.1h0M825.5 463.9h0M809.1 490.5h0M837.2 490.1h0M851.1 501.1h0M879.5 504.0h0M859.5 509.4h0M783.6 515.2h0M799.2 520.1h0M799.1 533.1h0M814.6 547.5h0M804.0 474.3h0M865.6 533.4h0M816.4 485.8h0M844.5 503.7h0M908.1 533.3h0M862.0 521.7h0M839.0 489.0h0M791.3 528.1h0M848.8 503.3h0M811.5 486.8h0M838.3 457.2h0M880.0 529.0h0M833.4 539.8h0M822.8 494.4h0M819.9 496.2h0M836.8 441.0h0M843.4 557.9h0M856.1 483.4h0M818.3 534.4h0M819.3 447.6h0M798.1 492.5h0M818.3 472.2h0M817.0 467.3h0M855.4 543.9h0M790.4 502.1h0M820.9 538.5h0M814.1 549.5h0M814.4 470.2h0M820.2 527.9h0M847.1 503.8h0M851.3 509.7h0M882.4 528.0h0M849.3 504.8h0M818.7 479.2h0M807.1 480.1h0M864.1 485.3h0M793.9 526.2h0M838.7 460.4h0M888.9 515.7h0M851.7 540.5h0M849.8 441.3h0M847.7 440.6h0M809.6 518.2h0M870.2 527.2h0M797.5 499.8h0M823.6 506.9h0M851.6 461.5h0M847.6 463.6h0M879.0 511.2h0M863.5 492.0h0M849.6 441.0h0M809.1 472.3h0M786.1 535.7h0M852.1 451.3h0M847.2 528.7h0M784.5 528.3h0M851.0 452.9h0M843.6 467.5h0M844.0 514.7h0M841.7 508.7h0M816.5 479.5h0M844.8 486.8h0M842.0 493.0h0M814.1 494.7h0M810.1 459.3h0M857.4 479.5h0M817.9 525.9h0M868.3 514.7h0M821.2 538.4h0M859.3 497.4h0M776.2 530.6h0M809.3 543.2h0M861.6 497.9h0M855.3 530.4h0M852.1 493.5h0M862.3 524.2h0M822.9 465.9h0M874.1 498.7h0M792.0 521.5h0M815.3 537.4h0M813.8 538.1h0M822.5 465.8h0M819.6 526.8h0M850.7 542.1h0M844.9 543.3h0M881.5 524.5h0M803.9 512.6h0M865.1 518.4h0M842.8 559.4h0M820.1 441.9h0M868.3 537.5h0M811.9 512.8h0M855.6 545.2h0M849.9 550.0h0M816.1 540.5h0M856.9 500.8h0M859.6 478.6h0M859.6 469.6h0M846.4 477.8h0M808.2 492.3h0M802.9 488.1h0M810.5 520.7h0M796.7 487.1h0M857.6 525.5h0M816.1 549.4h0M807.7 466.6h0M846.0 555.2h0M851.1 544.7h0M862.9 498.0h0M819.1 549.1h0M817.1 447.7h0M878.6 521.9h0M883.7 530.1h0M836.3 478.1h0M877.6 519.3h0M819.3 504.5h0M876.0 536.0h0M821.8 557.5h0M842.8 466.3h0M781.9 525.4h0M795.5 523.1h0M782.0 517.6h0M833.5 512.0h0M852.6 545.7h0M815.8 483.3h0M817.3 447.1h0M794.7 509.1h0M855.2 526.5h0M883.0 534.6h0M818.0 517.4h0M845.8 534.5h0M863.9 485.3h0M818.0 555.6h0M807.8 518.2h0M820.8 548.2h0M847.2 440.4h0M856.4 524.1h0M807.4 528.5h0M837.9 482.1h0M869.9 535.0h0M846.7 477.8h0M820.4 489.2h0M812.4 533.9h0M868.4 506.3h0M801.6 538.0h0M846.1 449.9h0M808.8 499.2h0M849.6 482.6h0M775.9 525.9h0M776.0 514.7h0M792.2 496.2h0M794.9 526.9h0M848.0 443.6h0M878.7 534.3h0M809.5 466.7h0M859.3 535.9h0M807.1 480.6h0M850.7 494.5h0M869.8 506.9h0M799.8 534.7h0M822.1 511.9h0M852.2 491.1h0M854.8 521.5h0M877.6 525.5h0M798.4 531.1h0M870.9 521.7h0M822.6 526.4h0M812.6 499.0h0M886.5 522.9h0M840.2 510.2h0M845.0 539.5h0M832.4 530.1h0M806.4 514.4h0M879.4 505.0h0M836.5 529.4h0M815.6 467.3h0M885.5 535.2h0M842.8 506.5h0M793.2 536.7h0M859.6 523.8h0M852.6 535.4h0M763.5 533.8h0M810.5 466.8h0M807.8 496.3h0M775.8 512.4h0M873.2 504.1h0M813.3 452.0h0M804.5 471.7h0M850.4 536.8h0M805.6 540.5h0M839.0 512.6h0M812.0 544.0h0M876.9 521.5h0M848.1 441.4h0M836.8 525.4h0M803.2 539.6h0M817.0 506.3h0M848.2 542.1h0M809.6 544.6h0M849.6 538.9h0M835.2 462.2h0M817.6 454.1h0M836.8 461.7h0M771.1 530.7h0M816.5 541.7h0M842.3 517.4h0M785.8 529.0h0M820.9 513.2h0M855.3 523.0h0M844.7 500.4h0M798.4 487.9h0M868.3 506.0h0M850.1 548.1h0M763.2 524.9h0M857.8 476.1h0M829.8 509.0h0M822.7 484.6h0M859.8 514.2h0M867.6 489.1h0M858.3 499.8h0M755.6 530.0h0M831.7 543.3h0M863.0 479.0h0M823.7 528.8h0M874.8 512.4h0M802.9 532.3h0M803.5 473.9h0M853.5 477.3h0M831.9 505.3h0M799.0 484.6h0M862.3 505.0h0M840.3 537.5h0M847.4 449.7h0M829.2 462.1h0M820.7 447.3h0M853.1 547.0h0M783.1 534.3h0M809.2 513.1h0M824.3 445.3h0M854.7 473.4h0M784.9 521.6h0M848.8 552.2h0M810.7 529.4h0M830.1 542.9h0M857.0 520.7h0M850.1 514.0h0M760.3 532.7h0M900.7 529.8h0M849.5 538.4h0M782.2 525.1h0M817.5 552.1h0M844.6 458.2h0M793.0 494.7h0M766.2 532.7h0M827.4 532.3h0M860.9 503.3h0M846.2 552.7h0M843.0 438.7h0M807.1 542.2h0M822.6 539.8h0M840.8 465.7h0M793.3 521.6h0M824.3 469.8h0M847.8 505.4h0M836.7 458.6h0M792.2 522.8h0M856.3 489.9h0M858.5 500.7h0M819.1 451.5h0M795.2 534.5h0M866.8 486.0h0M867.0 535.4h0M866.4 503.2h0M800.2 484.7h0M843.6 555.2h0M838.9 527.3h0M839.7 441.6h0M826.3 514.0h0M815.9 509.9h0M845.1 450.4h0M865.4 518.0h0M846.7 543.2h0M842.5 461.9h0M814.3 504.6h0M850.5 547.1h0M806.7 516.9h0M827.0 496.0h0M865.2 520.1h0M811.1 539.8h0M868.5 499.8h0M823.9 521.6h0M851.6 489.1h0M796.3 531.4h0M853.7 500.0h0M819.6 471.9h0M863.2 489.2h0M837.1 458.2h0M843.8 456.0h0M825.2 530.3h0M871.5 524.6h0M849.8 469.5h0M835.9 513.9h0M772.9 531.7h0M797.4 525.7h0M795.8 514.0h0M853.5 489.1h0M827.3 457.0h0M787.5 503.1h0M796.2 526.1h0M813.0 548.4h0M854.4 512.4h0M910.9 526.5h0M803.3 489.5h0M799.5 507.7h0M822.7 519.4h0M821.9 446.4h0M862.1 531.6h0M836.4 456.2h0M826.0 528.2h0M808.7 536.8h0M830.2 536.5h0M845.4 542.7h0M807.1 516.0h0M853.8 467.5h0M846.3 473.7h0M822.3 563.2h0M808.3 530.3h0M887.5 526.2h0M810.0 480.5h0M856.6 533.3h0M856.8 460.6h0M812.9 516.3h0M822.2 471.8h0M841.0 547.8h0M853.5 454.4h0M807.5 518.1h0M827.2 533.7h0M869.0 498.5h0M780.1 528.8h0M859.4 478.4h0M820.9 559.0h0M808.8 508.9h0M829.9 502.0h0M803.2 519.0h0M854.3 498.2h0M812.6 482.6h0M812.7 521.1h0M855.4 530.6h0M864.0 520.9h0M828.8 484.6h0M800.1 483.0h0M884.3 522.3h0M818.6 542.1h0M810.7 527.6h0M814.6 478.2h0M847.6 450.8h0M849.3 446.1h0M910.3 532.8h0M898.9 519.9h0M829.8 531.9h0M844.3 494.4h0M831.6 534.6h0M850.9 547.9h0M784.4 525.4h0M839.1 441.4h0M788.4 530.5h0M872.4 535.5h0M862.6 527.7h0M802.3 525.6h0M840.6 448.0h0M822.7 530.6h0M863.4 476.4h0M778.6 513.7h0M905.5 528.6h0M871.9 520.0h0M875.6 534.1h0M848.1 525.4h0M807.7 474.3h0M811.1 497.4h0M883.3 519.4h0M858.1 542.5h0M865.0 535.3h0M814.0 460.0h0M869.6 534.8h0M870.8 531.5h0M844.0 493.1h0M787.9 532.6h0M857.6 484.4h0M867.2 528.9h0M792.6 519.1h0M817.1 533.0h0M818.6 439.3h0M856.5 530.6h0M811.8 509.6h0M820.8 477.9h0M774.7 519.0h0M848.0 456.7h0M838.9 524.5h0M842.7 559.3h0M861.8 527.9h0M813.9 540.7h0M884.8 516.1h0M883.0 530.1h0M848.9 496.2h0M817.4 547.2h0M821.1 554.7h0M800.9 537.2h0M880.5 534.7h0M828.4 479.2h0M841.8 501.7h0M812.9 450.6h0M793.3 494.2h0M838.2 472.0h0M837.5 473.3h0M829.8 495.0h0M849.5 449.9h0M807.2 507.7h0M847.1 520.8h0M858.1 494.2h0M867.9 491.4h0M766.2 525.7h0M817.7 520.1h0M800.5 506.4h0M794.8 534.1h0M801.1 502.1h0M844.0 442.3h0M809.7 539.1h0M805.8 491.6h0M820.1 529.7h0M859.6 539.4h0M843.4 500.3h0M801.9 508.3h0M847.8 515.9h0M814.2 451.0h0M868.6 488.9h0M815.0 546.0h0M855.3 543.5h0M871.9 525.3h0M856.0 497.8h0M881.0 523.6h0M786.2 531.0h0M816.5 552.6h0M849.4 457.3h0M796.9 494.6h0M786.1 503.8h0M810.4 534.0h0M804.3 537.1h0M821.4 483.6h0M837.9 444.5h0M863.8 498.0h0M844.9 459.6h0M859.2 491.9h0M806.7 538.9h0M848.5 518.4h0M854.3 490.1h0M848.2 494.2h0M805.8 492.3h0M806.8 524.4h0M803.2 539.7h0M865.2 511.8h0M817.5 541.2h0M828.4 456.4h0M809.3 491.6h0M770.1 533.5h0M836.4 485.1h0M849.7 489.8h0M846.3 550.4h0M886.8 511.5h0M843.8 546.0h0M858.9 521.1h0M876.2 499.0h0M863.2 533.2h0M846.0 482.8h0M795.9 526.6h0M851.3 545.7h0M855.0 485.9h0M826.3 462.5h0M840.5 448.9h0M809.2 512.8h0M809.4 497.6h0M799.6 520.0h0M819.1 522.2h0M851.1 460.1h0M822.5 563.6h0M878.3 504.7h0M856.5 527.3h0M817.1 549.4h0M833.1 543.5h0M809.2 519.7h0M811.0 526.0h0M792.1 503.2h0M783.6 509.4h0M865.7 504.1h0M859.9 526.8h0M856.9 474.1h0M875.1 504.3h0M851.3 523.7h0M827.3 539.2h0M859.0 517.9h0M832.6 529.1h0M806.9 533.4h0M804.0 521.0h0M845.1 545.4h0M818.0 490.7h0M836.8 524.2h0M826.3 486.6h0M892.2 515.6h0M817.3 466.0h0M863.0 501.1h0M776.4 514.9h0M839.0 467.3h0M826.6 497.6h0M824.1 463.4h0M846.8 449.7h0M849.7 455.1h0M859.9 524.3h0M802.1 522.6h0M831.0 511.2h0M804.5 483.3h0M802.2 479.7h0M769.4 528.6h0M867.8 514.4h0M858.6 539.8h0M849.4 531.7h0M814.3 457.0h0M882.1 531.6h0M847.9 552.7h0M811.9 480.0h0M789.3 532.4h0M824.4 526.1h0M869.1 522.4h0M864.4 517.3h0M820.4 524.0h0M892.2 533.4h0M826.3 447.3h0M821.3 481.3h0M862.9 530.4h0M816.6 553.2h0M778.3 533.2h0M846.1 466.8h0M857.9 466.6h0M832.9 537.0h0M819.6 507.7h0M846.4 498.1h0M824.1 440.9h0M851.6 539.4h0M822.5 532.9h0M820.6 554.9h0M864.4 480.4h0M848.5 509.6h0M814.1 545.1h0M786.5 535.7h0M876.9 529.4h0M878.4 515.5h0M796.0 521.9h0M825.9 540.3h0M849.1 553.2h0M820.5 487.8h0M866.7 499.7h0M815.5 487.4h0M820.5 451.9h0M842.6 440.1h0M831.3 510.3h0M847.3 544.8h0M786.9 508.9h0M864.8 485.9h0M869.6 489.8h0M780.7 524.7h0M827.4 472.8h0M779.1 513.4h0M891.7 514.7h0M797.1 493.9h0M859.9 537.9h0M795.5 495.1h0M844.8 478.3h0M804.1 539.7h0M873.3 527.7h0M849.2 486.6h0M866.4 514.4h0M809.9 492.9h0M819.7 549.2h0M819.2 551.5h0M869.4 529.9h0M844.8 524.9h0M813.8 476.2h0M828.9 508.9h0M816.9 538.1h0M868.0 489.1h0M834.1 493.3h0M822.7 525.7h0M855.2 481.6h0M872.2 535.5h0M791.4 505.3h0M796.9 498.8h0M818.8 481.8h0M834.8 504.9h0M850.8 486.8h0M853.8 530.9h0M848.1 495.5h0M804.0 533.7h0M901.1 525.8h0M813.4 540.1h0M827.9 447.0h0M785.9 534.9h0M762.3 522.0h0M822.5 557.0h0M800.2 525.6h0M805.8 524.9h0M827.6 440.6h0M783.9 522.5h0M865.1 519.5h0M864.0 530.1h0M786.6 502.6h0M860.4 501.4h0M804.4 479.4h0M806.4 496.9h0M835.9 450.3h0M856.9 514.4h0M824.4 544.0h0M790.4 534.5h0M846.3 538.4h0M859.5 478.3h0M815.7 532.2h0M847.6 523.1h0M873.1 515.0h0M866.6 515.9h0M901.5 526.5h0M882.8 516.1h0M814.7 461.5h0M861.8 479.8h0M866.6 509.9h0M803.3 520.3h0M860.3 495.6h0M842.9 474.7h0M793.4 535.8h0M862.0 504.0h0M859.5 491.2h0M774.4 527.0h0M852.3 454.8h0M797.0 509.5h0M860.9 475.5h0M837.2 502.8h0M821.1 471.5h0M873.2 496.1h0M863.1 530.7h0M847.4 477.7h0M807.6 496.1h0M880.3 535.4h0M838.9 527.8h0M821.8 538.9h0M843.2 464.8h0M790.5 525.8h0M815.6 539.0h0M847.9 448.6h0M854.1 538.9h0M885.1 520.5h0M804.9 509.8h0M849.9 548.0h0M792.6 524.0h0M847.8 486.6h0M888.6 515.1h0M787.2 507.7h0M844.8 504.9h0M812.0 528.2h0M815.7 510.5h0M805.9 532.5h0M804.6 474.2h0M839.1 489.3h0M818.8 516.3h0M867.4 533.9h0M843.3 482.7h0M844.8 505.8h0M836.8 474.7h0M810.9 523.3h0M816.2 519.9h0M789.3 531.1h0M815.0 527.7h0M800.4 482.2h0M828.3 539.1h0M852.4 534.7h0M849.7 469.3h0M815.1 503.5h0M802.8 482.7h0M805.9 514.9h0M814.4 487.0h0M832.0 546.2h0M881.7 519.8h0M858.7 520.4h0M864.2 538.2h0M890.0 517.8h0M873.7 504.3h0M845.3 457.4h0M855.1 471.8h0M845.8 543.3h0M873.2 507.4h0M862.1 509.9h0M838.6 535.6h0M824.7 514.6h0M805.0 540.9h0M795.7 518.3h0M849.2 508.5h0M884.0 510.9h0M805.4 492.4h0M836.5 486.6h0M808.9 521.4h0M809.1 491.3h0M819.3 479.2h0M866.7 519.5h0M839.7 514.5h0M801.5 511.1h0M844.7 553.5h0M822.8 558.7h0M851.1 509.1h0M820.7 442.3h0M866.2 537.1h0M847.0 447.4h0M859.9 532.0h0M815.1 450.9h0M802.3 506.7h0M820.5 495.6h0M841.7 524.1h0M859.6 470.1h0M787.1 518.6h0M870.7 524.1h0M845.5 491.3h0M813.9 488.1h0M852.5 516.1h0M792.0 511.9h0M775.6 524.7h0M860.7 517.4h0M817.2 506.9h0M822.2 444.4h0M812.5 522.9h0M858.5 519.8h0M799.7 498.0h0M820.9 485.0h0M858.1 474.3h0M866.7 507.9h0M814.4 454.1h0M852.9 521.4h0M846.0 554.5h0M846.2 536.2h0M817.1 505.8h0M843.9 468.5h0M877.2 509.1h0M857.0 491.8h0M821.9 534.2h0M859.0 528.0h0M865.3 521.5h0M812.3 459.4h0M871.8 530.0h0M822.8 471.7h0M859.2 523.1h0M846.1 555.8h0M818.9 515.8h0M823.4 531.1h0M773.5 518.7h0M803.1 508.6h0M864.5 518.6h0M833.4 514.6h0M833.9 491.6h0M814.8 544.3h0M878.6 520.6h0M818.8 536.6h0M822.0 545.1h0M802.0 523.1h0M820.3 485.5h0M845.6 525.5h0M827.0 508.2h0M864.0 488.4h0M795.8 514.9h0M856.2 542.3h0M783.1 532.2h0M806.7 495.4h0M839.8 533.3h0M881.2 531.4h0M853.4 479.1h0M808.9 533.5h0M852.2 547.9h0M805.1 526.1h0M848.7 494.1h0M868.0 502.0h0M807.8 525.1h0M857.0 479.2h0M844.2 561.1h0M826.8 465.1h0M872.4 528.4h0M845.8 471.4h0M830.9 512.7h0M866.5 510.1h0M807.7 540.3h0M825.7 541.2h0M863.7 532.3h0M862.8 515.8h0M838.7 501.3h0M821.9 551.6h0M851.9 536.1h0M844.5 484.0h0M819.3 470.4h0M863.5 535.9h0M830.2 474.0h0M848.0 454.3h0M822.6 563.3h0M872.4 513.8h0M824.0 491.2h0M859.0 474.5h0M826.9 540.3h0M810.9 537.9h0M793.1 532.3h0M823.1 509.4h0M820.7 490.9h0M788.0 515.4h0M843.6 543.6h0M816.3 542.1h0M844.6 531.7h0M816.0 532.0h0M836.3 518.5h0M846.7 467.0h0M859.4 503.8h0M806.7 542.1h0M829.5 505.8h0M811.7 475.7h0M850.1 468.9h0M812.0 509.3h0M868.0 501.5h0M860.0 526.0h0M816.4 535.6h0M822.9 534.2h0M845.8 523.6h0M814.2 498.3h0M851.1 443.4h0M876.0 520.5h0M798.8 520.3h0M841.1 533.0h0M820.1 557.0h0M810.4 465.6h0M868.2 489.5h0M796.7 504.4h0M820.7 504.2h0M844.3 474.3h0M820.3 555.0h0M817.8 542.2h0M860.8 508.6h0M837.8 531.2h0M842.5 553.9h0M822.1 561.8h0M856.6 506.6h0M814.8 532.7h0M864.2 513.4h0M799.8 532.7h0M854.6 497.3h0M845.0 490.4h0M893.5 532.2h0M850.0 544.3h0M771.1 515.2h0M858.0 541.8h0M857.1 478.7h0M892.0 524.1h0M806.2 471.0h0M821.0 472.9h0M844.0 462.6h0M847.6 460.1h0M875.2 521.4h0M827.7 470.4h0M870.2 520.3h0M851.0 504.8h0M852.4 503.8h0M855.0 471.7h0M827.5 475.9h0M854.8 532.9h0M866.1 536.8h0M840.0 539.7h0M836.9 544.7h0M856.4 538.7h0M891.3 516.6h0M801.4 486.7h0M853.8 474.9h0M820.8 559.6h0M811.4 452.5h0M808.7 512.2h0M818.8 466.7h0M805.1 490.4h0M795.2 513.4h0M816.2 545.3h0M802.3 495.3h0M819.6 494.9h0M809.9 506.3h0M797.0 516.5h0M821.5 451.2h0M891.4 517.4h0M874.5 496.5h0M785.4 517.4h0M806.9 487.5h0M833.7 526.6h0M848.4 491.7h0M818.9 491.2h0M796.7 536.9h0M867.0 520.4h0M778.8 534.9h0M815.8 446.0h0M847.1 446.1h0M822.3 489.8h0M833.7 508.2h0M862.1 489.4h0M802.9 538.7h0M796.5 522.0h0M864.4 505.1h0M806.8 479.2h0M807.9 489.2h0M831.8 512.8h0M833.9 504.5h0M821.4 551.2h0M800.8 521.1h0M847.3 556.1h0M819.3 508.0h0M829.5 315.1h0M836.8 356.8h0M829.2 357.3h0M825.9 426.2h0M841.6 371.7h0M827.8 428.1h0M836.6 428.6h0M841.2 368.5h0M838.8 413.8h0M824.7 410.9h0M841.4 430.9h0M825.3 424.7h0M837.0 340.7h0M838.3 376.0h0M839.0 397.0h0M836.6 396.7h0M841.8 418.6h0M836.9 413.1h0M835.9 436.9h0M842.5 394.7h0M826.6 430.8h0M840.3 427.8h0M837.2 334.3h0M827.0 373.7h0M825.6 423.6h0M828.9 421.8h0M825.6 394.7h0M824.0 437.1h0M842.4 419.0h0M829.3 355.3h0M824.9 398.7h0M823.8 400.4h0M837.5 318.5h0M837.2 348.4h0M839.0 416.4h0M836.4 356.5h0M823.8 338.3h0M828.3 424.0h0M840.9 436.7h0M841.3 352.2h0M823.7 320.0h0M837.2 327.0h0M839.8 434.9h0M842.3 365.4h0M838.0 325.4h0M828.1 351.5h0M840.5 351.3h0M829.0 426.4h0M838.5 433.6h0M823.6 357.5h0M837.1 429.8h0M839.8 334.4h0M842.0 421.3h0M840.5 399.7h0M825.1 423.7h0M837.6 412.4h0M841.6 417.2h0M829.4 383.5h0M839.5 424.6h0M841.9 384.0h0M838.9 360.5h0M840.3 396.0h0M841.1 333.7h0M829.1 437.1h0M823.8 385.8h0M827.0 320.2h0M826.8 416.8h0M839.4 389.5h0M841.7 424.5h0M841.5 436.0h0M838.6 436.1h0M827.4 437.1h0M825.2 426.4h0M839.3 414.8h0M837.8 428.1h0M841.0 363.2h0M836.3 436.8h0M842.0 320.8h0M826.4 406.6h0M827.8 436.0h0M842.2 409.0h0M828.3 436.1h0M841.4 427.0h0M840.9 437.1h0M840.1 435.5h0M826.6 404.0h0M824.2 366.3h0M824.4 380.5h0M840.5 392.5h0M825.5 363.9h0M823.6 406.7h0M827.6 398.5h0M840.5 435.5h0M837.7 377.1h0M826.1 396.8h0M835.8 433.1h0M828.1 397.3h0M840.4 389.1h0M840.1 422.4h0M839.7 373.4h0M842.3 385.5h0M823.2 343.4h0M829.1 344.7h0M828.0 333.5h0M824.5 384.7h0M838.8 334.1h0M829.0 368.4h0M838.0 433.9h0M841.6 365.6h0M827.1 350.8h0M838.1 435.2h0M840.4 427.3h0M837.4 383.7h0M836.2 424.9h0M841.5 367.9h0M837.8 414.0h0M842.1 431.8h0M841.1 434.8h0M836.6 415.5h0M838.3 378.1h0M824.3 318.0h0M824.9 437.1h0M824.3 412.8h0M826.2 346.7h0M826.2 423.2h0M836.4 434.8h0M838.5 326.1h0M828.9 400.1h0M823.4 315.9h0M840.2 391.3h0M826.8 358.9h0M841.4 429.5h0M837.9 434.3h0M838.6 387.7h0M827.1 394.7h0M839.2 437.1h0M841.1 406.8h0M840.2 427.7h0M826.6 382.3h0M840.3 410.2h0M842.1 349.9h0M827.1 415.9h0M840.9 425.1h0M841.3 419.8h0M828.9 326.1h0M838.3 331.6h0M838.3 426.9h0M825.8 426.9h0M840.4 361.2h0M838.9 410.7h0M828.1 310.6h0M833.3 331.5h0M833.8 342.1h0M831.2 326.7h0M833.4 281.6h0M824.1 315.2h0M825.4 323.8h0M837.1 295.6h0M836.8 277.7h0M829.8 321.9h0M827.0 326.5h0M834.9 292.1h0M712.2 473.4h0M748.2 499.2h0M745.4 456.8h0M732.0 530.7h0M747.3 460.9h0M714.1 518.7h0M700.9 483.4h0M715.8 458.8h0M693.1 487.0h0M718.1 489.2h0M706.9 530.3h0M744.1 529.8h0M681.6 523.9h0M753.1 528.9h0M680.6 523.7h0M679.4 472.8h0M708.6 530.5h0M721.2 530.4h0M673.6 484.9h0M679.8 512.8h0M751.7 528.5h0M681.3 517.3h0M703.8 462.1h0M711.3 526.6h0M750.3 466.4h0M757.7 521.5h0M731.4 471.6h0M745.0 509.5h0M676.6 461.1h0M682.3 522.1h0M735.2 458.5h0M678.6 481.7h0M685.5 474.4h0M717.6 481.3h0M737.2 530.5h0M676.9 477.4h0M720.7 527.4h0M676.2 527.6h0M740.4 500.8h0M730.6 463.9h0M721.1 493.2h0M740.9 476.5h0M671.8 529.1h0M769.3 522.0h0M738.5 524.2h0M672.5 520.4h0M691.8 473.6h0M766.0 531.8h0M704.6 472.7h0M738.5 476.9h0M734.8 505.8h0M761.9 467.7h0M665.6 483.1h0M678.2 531.6h0M729.3 465.6h0M680.8 529.5h0M740.4 497.3h0M730.3 502.6h0M705.8 527.5h0M692.0 525.7h0M675.1 480.7h0M674.6 529.8h0M722.4 507.8h0M743.3 525.8h0M693.2 466.3h0M715.6 452.3h0M686.7 524.5h0M774.0 530.8h0M761.6 508.6h0M669.1 525.6h0M732.8 531.5h0M696.6 503.7h0M662.4 452.5h0M720.9 491.8h0M748.4 504.1h0M681.8 495.1h0M751.6 531.6h0M668.6 470.6h0M751.5 529.7h0M667.6 466.8h0M678.0 512.4h0M718.4 524.6h0M739.7 502.5h0M746.3 526.0h0M733.6 509.4h0M683.3 495.1h0M781.2 504.0h0M699.2 529.4h0M689.3 489.9h0M734.4 531.1h0M747.7 519.7h0M685.9 464.3h0M715.9 512.1h0M782.8 465.0h0M660.1 508.7h0M743.4 498.1h0M719.1 461.9h0M673.8 486.8h0M696.4 527.4h0M749.4 529.9h0M729.0 521.1h0M692.1 498.6h0M662.0 517.1h0M742.2 527.4h0M708.3 486.1h0M704.8 456.7h0M758.5 522.5h0M691.1 526.9h0M698.6 510.0h0M708.5 519.3h0M705.7 504.7h0M696.5 525.8h0M733.6 515.9h0M749.7 522.5h0M726.5 520.5h0M759.4 513.9h0M716.5 482.4h0M705.9 458.3h0M714.5 484.9h0M754.5 501.8h0M688.5 513.8h0M677.7 482.7h0M757.4 481.9h0M731.5 530.4h0M760.8 461.8h0M751.8 529.3h0M737.2 455.3h0M736.6 476.3h0M702.0 529.8h0M709.2 521.5h0M781.0 529.5h0M681.5 527.1h0M731.6 510.9h0M683.6 512.5h0M664.0 519.2h0M714.5 475.1h0M700.6 467.7h0M667.9 456.1h0M675.0 531.9h0M656.6 511.1h0M729.8 527.5h0M710.9 523.1h0M771.6 518.4h0M753.6 531.8h0M761.9 453.8h0M717.3 462.2h0M750.3 472.9h0M755.7 504.8h0M713.0 510.4h0M756.2 469.2h0M726.3 486.7h0M754.7 485.6h0M768.2 531.9h0M661.3 531.8h0M698.1 486.4h0M683.4 517.8h0M680.2 530.1h0M681.5 529.8h0M690.0 531.7h0M681.5 480.9h0M724.0 525.7h0M727.4 478.3h0M749.2 494.7h0M694.3 529.4h0M722.1 529.5h0M752.3 485.7h0M743.8 483.9h0M697.1 512.3h0M690.8 503.4h0M693.5 528.7h0M696.8 510.9h0M704.3 494.7h0M758.9 531.9h0M774.7 507.2h0M696.0 461.3h0M657.9 478.0h0M694.7 530.4h0M691.5 527.6h0M762.0 513.4h0M711.8 489.3h0M694.0 509.1h0M759.2 507.4h0M680.3 462.6h0M678.0 466.1h0M688.5 512.1h0M734.8 496.5h0M700.7 530.5h0M715.5 506.8h0M662.5 492.8h0M751.3 528.0h0M743.2 500.9h0M732.6 499.4h0M681.2 499.0h0M726.6 498.2h0M715.7 498.2h0M702.1 497.5h0M751.2 497.4h0M712.9 501.6h0M737.3 499.2h0M762.9 499.6h0M742.5 500.6h0M752.4 498.3h0M735.3 499.3h0M704.1 498.2h0M704.7 499.2h0M729.3 499.4h0M754.6 501.2h0M737.2 497.2h0M722.1 498.4h0M716.4 499.6h0M697.1 499.0h0M763.0 500.3h0M753.5 498.2h0M702.2 498.3h0M685.4 500.7h0M715.5 496.5h0M680.8 500.3h0M711.1 499.6h0M737.0 500.6h0M744.4 500.9h0M689.0 499.1h0M745.0 500.1h0M693.0 500.3h0M760.3 499.8h0M695.3 500.3h0M757.6 499.9h0M723.7 498.6h0M726.1 498.6h0M762.4 499.4h0M757.2 499.6h0M717.1 499.3h0M718.0 499.2h0M707.6 499.0h0M724.7 499.2h0M733.4 499.9h0M694.8 499.6h0M707.8 499.8h0M698.2 498.4h0M766.3 499.2h0M705.3 498.6h0M746.5 500.3h0M750.1 499.3h0M685.7 499.2h0M694.0 500.9h0M684.5 499.5h0M747.3 498.7h0M735.3 498.0h0M718.0 499.7h0M720.8 499.9h0M752.4 500.9h0M712.8 501.6h0M697.4 501.7h0M761.3 499.1h0M699.8 499.8h0M708.0 499.9h0M681.9 499.0h0M730.4 498.6h0M768.9 498.1h0M730.4 498.4h0M722.9 499.3h0M701.3 504.4h0M733.6 499.6h0M716.6 503.2h0M699.7 501.2h0M740.3 501.1h0M723.6 499.4h0M720.3 499.1h0M718.8 496.9h0M739.3 499.6h0M712.2 499.6h0M717.7 500.0h0M711.9 505.1h0M715.1 501.6h0M710.5 495.9h0M712.0 497.7h0M739.8 498.5h0M731.0 499.3h0M704.0 496.6h0M720.6 498.8h0M739.1 495.1h0M704.2 499.5h0M729.1 498.5h0M731.2 500.5h0M724.7 495.8h0M726.6 498.5h0M729.5 499.8h0M721.2 500.3h0M739.5 500.2h0M706.7 499.3h0M735.1 500.5h0M714.5 499.2h0M738.3 500.6h0M719.3 498.0h0M717.2 499.0h0M703.9 499.4h0M732.1 497.6h0M731.6 499.4h0M708.2 500.0h0M736.1 499.3h0M737.0 500.5h0M721.3 497.4h0M702.9 501.3h0M718.1 502.9h0M733.0 499.9h0M704.7 497.9h0M740.1 500.4h0M719.9 498.0h0M734.4 495.8h0M705.7 500.7h0M734.6 500.2h0M716.7 495.7h0M710.0 501.8h0M738.2 502.5h0M715.4 499.4h0M734.4 496.9h0M714.6 499.8h0M737.3 499.9h0M721.8 499.3h0M708.0 498.1h0M710.4 501.3h0M721.1 499.7h0M716.7 500.5h0M723.8 499.8h0M710.1 500.2h0M701.5 502.3h0M739.4 498.9h0M704.1 502.9h0M707.8 501.2h0M700.0 499.7h0M735.4 498.1h0M702.7 514.2h0M719.5 504.1h0M716.3 505.1h0M715.5 514.6h0M719.9 506.0h0M735.3 520.2h0M736.3 510.2h0M723.7 502.9h0M726.3 502.2h0M727.5 501.4h0M703.4 521.8h0M718.5 528.5h0M714.8 509.6h0M721.4 517.3h0M720.0 506.2h0M732.1 504.7h0M710.9 518.4h0M700.3 512.6h0M719.4 514.3h0M726.3 514.3h0M736.5 511.9h0M726.3 510.2h0M715.5 499.8h0M710.0 530.5h0M735.4 515.3h0M718.1 515.9h0M710.2 501.7h0M737.8 511.2h0M728.5 518.6h0M701.1 528.7h0M731.9 515.1h0M709.6 501.1h0M700.4 501.8h0M708.4 516.7h0M728.6 503.9h0M709.6 508.6h0M708.6 502.2h0M717.9 522.8h0M739.8 523.3h0M713.4 519.3h0M732.2 526.6h0M738.9 513.0h0M713.3 501.0h0M708.2 525.9h0M731.9 500.6h0M728.4 513.9h0M707.3 510.8h0M738.7 516.1h0M718.4 514.0h0M735.7 500.7h0M719.8 509.8h0M708.8 522.9h0M739.2 511.6h0M702.9 503.1h0M704.3 524.4h0M704.0 528.4h0M728.6 505.0h0M736.5 506.4h0M707.6 502.5h0M705.1 508.4h0M733.4 527.2h0M737.0 521.1h0M727.5 499.9h0M705.2 527.9h0M721.0 505.8h0M724.2 514.5h0M704.3 502.2h0M733.3 505.2h0M721.8 530.1h0M727.9 503.0h0M649.9 534.1h0M643.6 534.1h0M637.2 534.1h0M630.8 534.1h0M624.5 534.1h0M618.1 534.1h0M902.0 464.5h0M944.0 460.6h0M948.8 477.4h0M914.1 460.2h0M915.6 529.7h0M921.4 455.6h0M982.5 458.1h0M936.5 507.4h0M906.0 525.2h0M932.2 460.5h0M952.2 468.6h0M882.6 519.5h0M999.2 511.9h0M932.2 525.4h0M974.8 464.3h0M984.0 461.0h0M991.7 491.4h0M910.7 529.6h0M945.9 531.7h0M901.4 496.8h0M970.1 517.2h0M921.5 513.8h0M979.3 486.6h0M920.9 451.8h0M928.9 518.4h0M902.4 480.7h0M920.7 531.9h0M939.0 454.6h0M993.8 509.5h0M949.8 462.9h0M949.1 488.7h0M986.3 499.5h0M918.8 472.5h0M986.8 531.7h0M918.8 501.8h0M979.3 526.5h0M958.3 518.3h0M935.0 480.8h0M1000.6 477.9h0M890.8 528.8h0M946.7 461.5h0M901.9 528.8h0M913.2 503.7h0M904.3 453.6h0M960.3 503.0h0M1000.1 516.8h0M918.6 528.4h0M930.3 529.4h0M939.4 507.4h0M974.2 482.0h0M957.2 528.7h0M951.8 522.6h0M941.7 520.5h0M963.9 531.8h0M917.3 520.8h0M913.1 518.0h0M989.0 528.1h0M950.3 525.5h0M916.4 521.3h0M958.6 497.6h0M972.9 494.0h0M917.0 458.6h0M993.0 530.0h0M1003.4 514.8h0M987.7 478.1h0M969.9 487.8h0M927.4 524.6h0M904.0 507.2h0M916.3 529.8h0M936.0 470.5h0M935.7 523.6h0M975.7 493.0h0M950.7 508.7h0M933.4 474.6h0M1001.0 500.0h0M960.1 465.5h0M907.7 517.2h0M911.7 520.0h0M976.4 513.2h0M939.9 527.0h0M1004.6 530.3h0M980.3 529.8h0M937.5 529.1h0M1003.9 484.5h0M934.9 476.5h0M968.9 521.6h0M946.2 474.1h0M944.7 465.4h0M921.3 471.8h0M955.9 525.5h0M892.4 496.2h0M958.9 510.6h0M991.1 522.5h0M962.5 531.4h0M942.8 504.7h0M967.8 465.5h0M932.8 475.6h0M948.5 518.6h0M959.9 472.7h0M990.2 523.0h0M964.8 527.9h0M989.0 514.2h0M962.0 511.0h0M918.1 485.6h0M982.2 461.4h0M977.4 531.1h0M903.4 525.4h0M911.5 523.7h0M912.0 492.5h0M971.9 519.9h0M977.9 491.0h0M913.0 464.4h0M998.6 486.6h0M911.8 514.7h0M960.0 530.2h0M917.8 501.1h0M994.8 469.0h0M979.1 485.8h0M913.9 492.6h0M900.5 530.3h0M1002.5 477.0h0M949.9 468.4h0M989.8 521.9h0M971.0 457.7h0M987.3 466.9h0M977.7 496.3h0M940.4 520.2h0M908.5 483.0h0M991.9 493.4h0M912.3 507.9h0M901.0 523.2h0M921.3 511.5h0M935.6 455.7h0M919.6 511.7h0M928.0 501.1h0M987.3 531.3h0M987.8 524.1h0M946.2 525.3h0M953.5 528.3h0M942.4 488.3h0M955.0 531.2h0M937.8 453.4h0M986.1 455.0h0M900.3 492.9h0M883.1 496.2h0M953.5 530.7h0M893.9 474.6h0M888.5 526.0h0M897.5 517.0h0M903.7 464.1h0M930.8 462.3h0M983.3 502.0h0M923.2 529.0h0M958.2 531.8h0M898.6 477.3h0M972.6 479.1h0M982.7 528.1h0M954.3 501.0h0M973.3 528.8h0M972.9 530.5h0M1002.4 531.7h0M1006.3 516.8h0M932.6 520.8h0M976.4 531.9h0M985.7 494.8h0M999.2 531.3h0M928.2 455.5h0M919.8 493.5h0M942.9 518.4h0M940.9 531.4h0M925.9 489.0h0M901.7 480.2h0M962.0 477.8h0M939.0 531.8h0M926.0 531.6h0M959.2 485.0h0M953.9 515.8h0M927.5 517.7h0M921.2 478.9h0M989.6 463.6h0M997.9 522.0h0M941.3 513.4h0M960.8 523.9h0M993.7 472.6h0M914.2 520.6h0M969.5 530.0h0M933.6 526.6h0M935.5 457.6h0M982.7 473.9h0M969.5 491.5h0M925.3 497.6h0M979.6 500.8h0M956.7 499.9h0M964.4 498.6h0M899.4 499.2h0M977.8 500.6h0M919.1 499.4h0M981.6 499.6h0M959.1 500.8h0M925.5 500.2h0M957.0 500.6h0M989.5 498.9h0M988.5 500.0h0M896.1 499.7h0M909.8 499.7h0M982.0 501.6h0M968.2 498.6h0M992.3 499.8h0M941.6 498.0h0M924.4 498.9h0M905.5 497.9h0M945.9 500.0h0M948.0 499.1h0M974.0 499.6h0M898.3 499.6h0M910.5 499.6h0M908.7 497.5h0M965.6 497.7h0M995.9 499.2h0M998.5 498.5h0M948.4 499.0h0M934.6 499.5h0M906.8 497.5h0M929.2 499.4h0M993.8 499.5h0M934.3 499.6h0M940.9 499.3h0M955.4 499.5h0M896.0 498.3h0M933.5 498.3h0M995.6 500.8h0M921.3 501.2h0M906.1 498.9h0M898.7 500.5h0M983.6 499.5h0M1000.1 500.3h0M978.2 497.6h0M976.8 499.4h0M934.4 501.4h0M1003.6 499.3h0M998.6 499.1h0M902.0 501.8h0M936.3 499.7h0M944.9 498.2h0M913.6 498.9h0M931.0 497.6h0M997.9 498.0h0M913.6 499.8h0M952.7 498.9h0M903.9 497.2h0M963.7 499.3h0M906.8 499.0h0M986.6 498.8h0M998.8 500.6h0M910.3 499.7h0M916.4 499.2h0M925.2 500.0h0M965.4 499.6h0M907.8 498.4h0M979.3 499.4h0M961.1 500.7h0M959.9 498.3h0M962.0 499.3h0M950.2 496.0h0M936.6 498.5h0M950.7 500.5h0M939.3 501.2h0M966.1 498.3h0M945.0 494.5h0M955.6 501.8h0M936.1 499.5h0M967.1 501.2h0M941.0 497.4h0M960.5 499.2h0M938.9 499.2h0M961.5 500.1h0M966.0 498.6h0M949.0 499.1h0M933.9 498.3h0M936.5 500.2h0M931.4 501.4h0M949.4 500.8h0M960.7 498.1h0M930.5 500.4h0M943.4 500.5h0M944.7 498.1h0M948.0 504.1h0M944.7 501.4h0M931.5 500.3h0M954.7 503.0h0M934.1 497.5h0M949.4 501.0h0M949.7 498.8h0M960.3 498.0h0M966.8 499.6h0M943.1 501.7h0M937.2 499.7h0M950.6 500.5h0M932.1 500.5h0M964.5 500.7h0M938.1 497.5h0M948.6 496.7h0M936.7 497.9h0M963.8 500.3h0M966.2 496.5h0M940.3 500.8h0M950.9 499.0h0M964.6 499.3h0M940.3 496.7h0M964.9 498.8h0M950.0 500.2h0M957.9 498.1h0M958.9 498.4h0M958.1 497.2h0M956.3 498.4h0M932.0 499.3h0M958.5 500.6h0M963.2 497.4h0M954.9 500.1h0M940.6 500.9h0M951.4 498.0h0M952.5 500.7h0M936.9 497.7h0M955.4 501.7h0M931.2 499.5h0M950.0 497.9h0M938.3 498.2h0M953.2 497.5h0M953.6 500.2h0M961.6 497.7h0M960.7 512.6h0M936.2 517.4h0M940.2 521.0h0M932.4 506.7h0M951.2 520.8h0M956.7 516.1h0M933.0 505.7h0M960.2 513.5h0M954.2 513.3h0M941.0 529.0h0M954.3 522.0h0M957.8 521.2h0M944.6 502.6h0M934.4 522.5h0M955.9 517.5h0M962.4 526.9h0M931.0 505.9h0M936.1 521.9h0M937.6 517.2h0M963.8 515.6h0M957.1 525.9h0M950.1 523.9h0M938.4 521.2h0M944.6 508.4h0M934.1 522.6h0M966.2 519.5h0M931.1 503.7h0M930.5 519.0h0M956.7 501.4h0M963.3 501.6h0M952.2 500.6h0M938.9 520.8h0M954.5 511.2h0M960.7 526.9h0M944.1 511.3h0M933.5 515.0h0M962.8 530.0h0M961.2 508.4h0M946.2 524.0h0M959.3 519.7h0M953.5 526.8h0M958.5 502.2h0M964.3 500.2h0M932.6 505.5h0M939.3 527.4h0M959.7 502.9h0M932.8 524.3h0M947.9 503.8h0M947.4 529.3h0M957.4 501.0h0M936.2 505.1h0M965.7 517.8h0M961.1 511.0h0M966.5 509.8h0M941.1 508.7h0M942.6 519.8h0M930.5 528.3h0M937.2 509.9h0M949.5 518.4h0M952.9 520.9h0M942.5 511.8h0M958.0 507.7h0M950.8 500.3h0M966.9 501.8h0M941.2 507.6h0M934.3 499.9h0M951.4 528.6h0M935.0 510.6h0M955.5 519.2h0M946.8 505.5h0M1015.6 534.1h0M1021.9 534.1h0M1028.3 534.1h0M1034.7 534.1h0M1041.0 534.1h0" stroke="#A3A3A3" stroke-width="3.0" stroke-linecap="round" fill="none"/>
<path d="M597.7 437.1H1061.8M822.5 125.7V603.1M843.0 125.7V603.1" stroke="#1a1a1a" stroke-width="1.3" stroke-dasharray="5 3 1.5 3" fill="none"/>
<path d="M720.3 161.3h0M812.8 187.6h0M715.1 205.1h0M801.0 218.7h0M816.6 277.2h0M820.2 291.6h0M688.4 303.7h0M809.9 306.6h0M814.5 323.5h0M820.2 328.7h0M815.6 338.1h0M808.7 342.7h0M803.8 347.9h0M812.5 351.5h0M820.2 345.9h0M807.9 364.3h0M805.0 365.6h0M803.3 370.5h0M788.6 372.3h0M820.2 370.5h0M770.3 380.6h0M789.1 379.5h0M807.6 379.5h0M820.2 378.7h0M808.3 388.5h0M818.6 389.3h0M647.2 396.7h0M690.4 397.0h0M746.7 398.6h0M813.7 395.9h0M816.1 400.8h0M803.0 406.5h0M806.6 404.9h0M812.8 408.1h0M684.2 410.1h0M713.0 407.8h0M795.6 411.1h0M807.6 413.1h0M816.1 411.4h0M811.2 414.7h0M819.4 414.7h0M692.0 420.9h0M786.6 419.9h0M800.6 419.6h0M806.3 420.4h0M812.8 422.9h0M800.6 422.9h0M809.2 426.2h0M817.7 424.5h0M798.1 428.6h0M812.8 429.4h0M817.7 431.1h0M778.8 431.9h0M702.5 433.0h0M719.0 433.2h0M727.2 432.4h0M786.6 434.3h0M803.0 435.2h0M810.4 434.3h0M816.1 435.2h0M820.2 434.3h0" stroke="#4FADE3" stroke-width="3.3" stroke-linecap="round" fill="none"/>
<path d="M887.3 146.2h0M867.7 171.7h0M938.1 187.6h0M964.9 200.2h0M863.4 225.8h0M860.8 231.8h0M859.1 236.2h0M963.8 253.8h0M854.2 279.6h0M870.9 289.8h0M844.4 297.1h0M1007.6 304.2h0M860.1 314.0h0M850.3 317.8h0M847.0 323.2h0M849.6 335.1h0M843.4 339.7h0M852.9 343.5h0M845.4 355.3h0M976.9 350.4h0M861.1 368.0h0M844.1 369.2h0M848.0 372.1h0M849.3 378.7h0M842.8 380.0h0M851.6 382.8h0M843.1 385.2h0M845.6 385.2h0M851.6 386.0h0M863.6 388.2h0M854.9 391.0h0M892.2 391.0h0M1004.9 390.1h0M930.2 395.0h0M940.7 395.9h0M844.4 393.4h0M851.3 398.0h0M853.7 398.0h0M883.4 398.3h0M985.9 398.3h0M845.6 400.0h0M868.0 401.3h0M870.9 403.2h0M947.2 402.4h0M950.3 405.4h0M869.6 406.2h0M843.9 406.5h0M846.4 411.4h0M848.8 410.6h0M858.7 410.6h0M850.5 414.7h0M857.5 416.3h0M869.0 417.2h0M848.0 418.0h0M869.3 419.3h0M985.9 414.7h0M846.4 421.2h0M843.4 425.3h0M848.3 426.2h0M856.7 426.5h0M844.7 428.6h0M849.6 429.4h0M843.1 431.1h0M847.2 431.9h0M861.9 433.5h0M884.4 432.7h0M957.4 434.3h0M844.7 435.2h0M842.3 433.5h0" stroke="#F01C0E" stroke-width="3.5" stroke-linecap="round" fill="none"/>
<path d="M593.7 582.0H597M593.7 470.6H597M593.7 359.3H597M593.7 248.0H597M593.7 136.6H597M627.4 603.8V606.6M730.0 603.8V606.6M832.8 603.8V606.6M935.5 603.8V606.6M1038.2 603.8V606.6" stroke="#333" stroke-width="1.2"/>
<text x="582.98" y="587.9" font-size="16.86" textLength="9.01" lengthAdjust="spacingAndGlyphs" fill="#111">0</text>
<text x="583.14" y="476.5" font-size="16.86" textLength="9.01" lengthAdjust="spacingAndGlyphs" fill="#111">1</text>
<text x="583.22" y="365.2" font-size="16.86" textLength="9.01" lengthAdjust="spacingAndGlyphs" fill="#111">2</text>
<text x="583.06" y="253.9" font-size="16.86" textLength="9.01" lengthAdjust="spacingAndGlyphs" fill="#111">3</text>
<text x="582.89" y="142.5" font-size="16.86" textLength="9.01" lengthAdjust="spacingAndGlyphs" fill="#111">4</text>
<text x="614.56" y="620.7" font-size="16.86" textLength="23.42" lengthAdjust="spacingAndGlyphs" fill="#111">-20</text>
<text x="717.26" y="620.7" font-size="16.86" textLength="23.42" lengthAdjust="spacingAndGlyphs" fill="#111">-10</text>
<text x="828.21" y="620.7" font-size="16.86" textLength="9.01" lengthAdjust="spacingAndGlyphs" fill="#111">0</text>
<text x="926.13" y="620.7" font-size="16.86" textLength="18.02" lengthAdjust="spacingAndGlyphs" fill="#111">10</text>
<text x="1029.04" y="620.7" font-size="16.86" textLength="18.02" lengthAdjust="spacingAndGlyphs" fill="#111">20</text>
<text transform="translate(574.1 451.8) rotate(-90)" x="-1.30" y="0" font-size="29.5" textLength="187.46" lengthAdjust="spacingAndGlyphs">-log10(pValue)</text>
<text x="709.55" y="647.2" font-size="29.5" textLength="239.70" lengthAdjust="spacingAndGlyphs">log2(FoldChange)</text>
<circle cx="689.1" cy="689.3" r="3.9" fill="#4FADE3"/>
<text x="703.55" y="693.7" font-size="23.7" textLength="62.17" lengthAdjust="spacingAndGlyphs">Down</text>
<circle cx="782.4" cy="689" r="3.9" fill="#A3A3A3"/>
<text x="802.93" y="693.7" font-size="23.7" textLength="67.25" lengthAdjust="spacingAndGlyphs">Stable</text>
<circle cx="893.7" cy="688" r="3.9" fill="#F01C0E"/>
<text x="906.83" y="693.7" font-size="23.7" textLength="31.96" lengthAdjust="spacingAndGlyphs">Up</text>
<text x="1036.10" y="91.1" font-size="36.7" textLength="26.04" lengthAdjust="spacingAndGlyphs" stroke="#000" stroke-width="0.4">C</text>
<path d="M1161.4 71.4V35.4H1192.9V71.4M1256.0 71.4V36.2H1287.6V71.4M1224.5 71.4V35.0H1271.8V36.2M1177.2 35.4V31.9H1248.1V35.0M1350.7 71.4V41.8H1382.2V71.4M1413.8 71.4V37.8H1445.3V71.4M1366.4 41.8V33.5H1429.5V37.8M1319.1 71.4V31.1H1398.0V33.5M1212.6 31.9V7.2H1358.6V31.1" fill="none" stroke="#2b2b2b" stroke-width="1.1"/>
<rect x="1145.6" y="72.4" width="157.6" height="12.4" fill="#F66A6A"/>
<rect x="1303.2" y="72.4" width="157.9" height="12.4" fill="#22C7CB"/>
<g shape-rendering="crispEdges"><rect x="1145.6" y="88.6" width="31.9" height="8.5" fill="#CFE6F3"/><rect x="1145.6" y="96.8" width="31.9" height="12.1" fill="#F9B8A4"/><rect x="1145.6" y="108.6" width="31.9" height="7.8" fill="#F7A28A"/><rect x="1145.6" y="116.2" width="31.9" height="20.7" fill="#F9B6A2"/><rect x="1145.6" y="136.6" width="31.9" height="19.6" fill="#FBCFC0"/><rect x="1145.6" y="155.9" width="31.9" height="3.5" fill="#F8AE98"/><rect x="1145.6" y="159.2" width="31.9" height="27.2" fill="#F4886C"/><rect x="1145.6" y="186.0" width="31.9" height="15.3" fill="#FBE3DA"/><rect x="1145.6" y="201.1" width="31.9" height="23.9" fill="#F8AA92"/><rect x="1145.6" y="224.7" width="31.9" height="15.3" fill="#F58E74"/><rect x="1145.6" y="239.8" width="31.9" height="5.7" fill="#FDF0EC"/><rect x="1145.6" y="245.2" width="31.9" height="12.6" fill="#F47E62"/><rect x="1145.6" y="257.5" width="31.9" height="3.2" fill="#F58E74"/><rect x="1145.6" y="260.4" width="31.9" height="8.9" fill="#F47858"/><rect x="1145.6" y="269.0" width="31.9" height="25.0" fill="#F6937A"/><rect x="1145.6" y="293.7" width="31.9" height="8.9" fill="#F8A890"/><rect x="1145.6" y="302.3" width="31.9" height="10.0" fill="#F6977E"/><rect x="1145.6" y="312.0" width="31.9" height="12.1" fill="#F58062"/><rect x="1145.6" y="323.8" width="31.9" height="8.9" fill="#FAC0AE"/><rect x="1145.6" y="332.4" width="31.9" height="3.5" fill="#FDF0EC"/><rect x="1145.6" y="335.6" width="31.9" height="7.8" fill="#FAC4B2"/><rect x="1145.6" y="343.1" width="31.9" height="11.0" fill="#F47858"/><rect x="1145.6" y="353.9" width="31.9" height="4.6" fill="#FFFFFF"/><rect x="1145.6" y="358.2" width="31.9" height="26.1" fill="#F8A890"/><rect x="1145.6" y="384.0" width="31.9" height="25.0" fill="#F7A088"/><rect x="1145.6" y="408.7" width="31.9" height="7.8" fill="#CFE6F3"/><rect x="1145.6" y="416.2" width="31.9" height="4.6" fill="#F3F8FB"/><rect x="1145.6" y="420.5" width="31.9" height="7.3" fill="#D6EAF5"/><rect x="1145.6" y="427.5" width="31.9" height="1.0" fill="#D6EAF5"/><rect x="1145.6" y="428.2" width="31.9" height="4.6" fill="#FFFFFF"/><rect x="1145.6" y="432.5" width="31.9" height="4.6" fill="#F8A890"/><rect x="1145.6" y="436.8" width="31.9" height="5.7" fill="#FDF0EC"/><rect x="1145.6" y="442.2" width="31.9" height="4.6" fill="#FCE6DE"/><rect x="1145.6" y="446.5" width="31.9" height="13.2" fill="#F3F8FB"/><rect x="1145.6" y="459.4" width="31.9" height="4.6" fill="#FBD8CC"/><rect x="1145.6" y="463.7" width="31.9" height="8.9" fill="#FFFFFF"/><rect x="1145.6" y="472.3" width="31.9" height="11.0" fill="#FAC4B2"/><rect x="1145.6" y="483.0" width="31.9" height="6.7" fill="#9CCBE7"/><rect x="1145.6" y="489.5" width="31.9" height="18.6" fill="#C9E3F2"/><rect x="1145.6" y="507.8" width="31.9" height="7.8" fill="#F9B8A4"/><rect x="1145.6" y="515.3" width="31.9" height="11.0" fill="#FFFFFF"/><rect x="1145.6" y="526.0" width="31.9" height="8.9" fill="#FCE6DE"/><rect x="1145.6" y="534.6" width="31.9" height="11.0" fill="#FAC4B2"/><rect x="1145.6" y="545.4" width="31.9" height="6.7" fill="#FDF0EC"/><rect x="1145.6" y="551.8" width="31.9" height="6.7" fill="#C9E3F2"/><rect x="1145.6" y="558.3" width="31.9" height="4.6" fill="#FFFFFF"/><rect x="1145.6" y="562.6" width="31.9" height="4.6" fill="#B8DAEE"/><rect x="1145.6" y="566.9" width="31.9" height="18.6" fill="#D6EAF5"/><rect x="1145.6" y="585.2" width="31.9" height="4.6" fill="#F8A890"/><rect x="1145.6" y="589.5" width="31.9" height="3.5" fill="#D6EAF5"/><rect x="1145.6" y="592.7" width="31.9" height="5.1" fill="#A8D1EA"/><rect x="1145.6" y="597.5" width="31.9" height="7.5" fill="#A8D1EA"/><rect x="1145.6" y="604.7" width="31.9" height="23.9" fill="#B8DAEE"/><rect x="1145.6" y="628.3" width="31.9" height="4.6" fill="#FFFFFF"/><rect x="1145.6" y="632.6" width="31.9" height="12.1" fill="#8EC3E4"/><rect x="1145.6" y="644.4" width="31.9" height="15.3" fill="#A8D1EA"/><rect x="1145.6" y="659.5" width="31.9" height="16.4" fill="#C9E3F2"/><rect x="1145.6" y="675.6" width="31.9" height="20.7" fill="#6CB0DC"/><rect x="1145.6" y="696.0" width="31.9" height="19.6" fill="#8EC3E4"/><rect x="1145.6" y="715.3" width="31.9" height="17.5" fill="#B8DAEE"/><rect x="1145.6" y="732.5" width="31.9" height="13.2" fill="#C9E3F2"/><rect x="1145.6" y="745.4" width="31.9" height="13.2" fill="#9CCBE7"/><rect x="1145.6" y="758.3" width="31.9" height="11.0" fill="#B8DAEE"/><rect x="1145.6" y="769.0" width="31.9" height="8.1" fill="#8EC3E4"/><rect x="1177.1" y="88.6" width="31.9" height="9.6" fill="#F6967C"/><rect x="1177.1" y="97.9" width="31.9" height="11.0" fill="#F8AE98"/><rect x="1177.1" y="108.6" width="31.9" height="3.5" fill="#F7A088"/><rect x="1177.1" y="111.9" width="31.9" height="4.6" fill="#FBEAE4"/><rect x="1177.1" y="116.2" width="31.9" height="12.1" fill="#F9B8A4"/><rect x="1177.1" y="128.0" width="31.9" height="3.5" fill="#FDEBE5"/><rect x="1177.1" y="131.2" width="31.9" height="25.0" fill="#FAC0AE"/><rect x="1177.1" y="155.9" width="31.9" height="3.5" fill="#F57E62"/><rect x="1177.1" y="159.2" width="31.9" height="27.2" fill="#F68C72"/><rect x="1177.1" y="186.0" width="31.9" height="11.0" fill="#F9B8A4"/><rect x="1177.1" y="196.8" width="31.9" height="28.2" fill="#F9B49E"/><rect x="1177.1" y="224.7" width="31.9" height="17.5" fill="#F7A088"/><rect x="1177.1" y="241.9" width="31.9" height="15.3" fill="#F47C60"/><rect x="1177.1" y="257.0" width="31.9" height="0.8" fill="#F7A088"/><rect x="1177.1" y="257.5" width="31.9" height="2.1" fill="#F58E74"/><rect x="1177.1" y="259.3" width="31.9" height="4.6" fill="#F8AE98"/><rect x="1177.1" y="263.6" width="31.9" height="8.9" fill="#FBD0C2"/><rect x="1177.1" y="272.2" width="31.9" height="34.7" fill="#F7A088"/><rect x="1177.1" y="306.6" width="31.9" height="17.5" fill="#C9E3F2"/><rect x="1177.1" y="323.8" width="31.9" height="5.7" fill="#FAC4B2"/><rect x="1177.1" y="329.2" width="31.9" height="4.6" fill="#FCE6DE"/><rect x="1177.1" y="333.5" width="31.9" height="10.0" fill="#FAC4B2"/><rect x="1177.1" y="343.1" width="31.9" height="12.1" fill="#FFFFFF"/><rect x="1177.1" y="355.0" width="31.9" height="3.5" fill="#F9B09A"/><rect x="1177.1" y="358.2" width="31.9" height="5.7" fill="#F58E74"/><rect x="1177.1" y="363.6" width="31.9" height="19.6" fill="#F8AE98"/><rect x="1177.1" y="382.9" width="31.9" height="4.6" fill="#FFFFFF"/><rect x="1177.1" y="387.2" width="31.9" height="16.4" fill="#F9B09A"/><rect x="1177.1" y="403.3" width="31.9" height="6.7" fill="#E8F2F8"/><rect x="1177.1" y="409.8" width="31.9" height="6.7" fill="#FAC4B2"/><rect x="1177.1" y="416.2" width="31.9" height="11.6" fill="#D6EAF5"/><rect x="1177.1" y="427.5" width="31.9" height="2.1" fill="#D6EAF5"/><rect x="1177.1" y="429.3" width="31.9" height="11.0" fill="#A8D1EA"/><rect x="1177.1" y="440.0" width="31.9" height="8.9" fill="#FAC4B2"/><rect x="1177.1" y="448.6" width="31.9" height="11.0" fill="#E0EFF7"/><rect x="1177.1" y="459.4" width="31.9" height="4.6" fill="#FFFFFF"/><rect x="1177.1" y="463.7" width="31.9" height="12.1" fill="#FAC4B2"/><rect x="1177.1" y="475.5" width="31.9" height="7.8" fill="#8EC3E4"/><rect x="1177.1" y="483.0" width="31.9" height="4.6" fill="#FAC4B2"/><rect x="1177.1" y="487.3" width="31.9" height="12.1" fill="#C9E3F2"/><rect x="1177.1" y="499.2" width="31.9" height="5.7" fill="#FAC4B2"/><rect x="1177.1" y="504.5" width="31.9" height="3.5" fill="#F3F8FB"/><rect x="1177.1" y="507.8" width="31.9" height="7.8" fill="#9CCBE7"/><rect x="1177.1" y="515.3" width="31.9" height="15.3" fill="#FBD8CC"/><rect x="1177.1" y="530.3" width="31.9" height="8.9" fill="#FFFFFF"/><rect x="1177.1" y="538.9" width="31.9" height="7.8" fill="#F9B8A4"/><rect x="1177.1" y="546.5" width="31.9" height="3.5" fill="#FFFFFF"/><rect x="1177.1" y="549.7" width="31.9" height="13.2" fill="#FAC4B2"/><rect x="1177.1" y="562.6" width="31.9" height="4.6" fill="#FFFFFF"/><rect x="1177.1" y="566.9" width="31.9" height="26.1" fill="#D6EAF5"/><rect x="1177.1" y="592.7" width="31.9" height="5.1" fill="#A8D1EA"/><rect x="1177.1" y="597.5" width="31.9" height="7.5" fill="#A8D1EA"/><rect x="1177.1" y="604.7" width="31.9" height="4.6" fill="#8EC3E4"/><rect x="1177.1" y="609.0" width="31.9" height="19.6" fill="#B8DAEE"/><rect x="1177.1" y="628.3" width="31.9" height="4.6" fill="#6CB0DC"/><rect x="1177.1" y="632.6" width="31.9" height="12.1" fill="#8EC3E4"/><rect x="1177.1" y="644.4" width="31.9" height="12.1" fill="#A8D1EA"/><rect x="1177.1" y="656.2" width="31.9" height="19.6" fill="#C9E3F2"/><rect x="1177.1" y="675.6" width="31.9" height="20.7" fill="#FAC4B2"/><rect x="1177.1" y="696.0" width="31.9" height="12.1" fill="#E8F2F8"/><rect x="1177.1" y="707.8" width="31.9" height="7.8" fill="#F8AE98"/><rect x="1177.1" y="715.3" width="31.9" height="31.5" fill="#C9E3F2"/><rect x="1177.1" y="746.5" width="31.9" height="7.8" fill="#FAC4B2"/><rect x="1177.1" y="754.0" width="31.9" height="4.6" fill="#F3F8FB"/><rect x="1177.1" y="758.3" width="31.9" height="12.1" fill="#FAC4B2"/><rect x="1177.1" y="770.1" width="31.9" height="4.6" fill="#FDF0EC"/><rect x="1177.1" y="774.4" width="31.9" height="2.7" fill="#FAC4B2"/><rect x="1208.7" y="88.6" width="31.9" height="20.3" fill="#F6967C"/><rect x="1208.7" y="108.6" width="31.9" height="4.6" fill="#FBD0C2"/><rect x="1208.7" y="112.9" width="31.9" height="12.1" fill="#F8AE98"/><rect x="1208.7" y="124.8" width="31.9" height="20.7" fill="#FBCDBE"/><rect x="1208.7" y="145.2" width="31.9" height="11.0" fill="#F9B09A"/><rect x="1208.7" y="155.9" width="31.9" height="3.5" fill="#F57E62"/><rect x="1208.7" y="159.2" width="31.9" height="27.2" fill="#F68C72"/><rect x="1208.7" y="186.0" width="31.9" height="39.0" fill="#F9B8A4"/><rect x="1208.7" y="224.7" width="31.9" height="17.5" fill="#F79A82"/><rect x="1208.7" y="241.9" width="31.9" height="15.3" fill="#D6EAF5"/><rect x="1208.7" y="257.0" width="31.9" height="0.8" fill="#F7A088"/><rect x="1208.7" y="257.5" width="31.9" height="1.0" fill="#C9E3F2"/><rect x="1208.7" y="258.2" width="31.9" height="7.8" fill="#FAC4B2"/><rect x="1208.7" y="265.7" width="31.9" height="41.1" fill="#F7A088"/><rect x="1208.7" y="306.6" width="31.9" height="17.5" fill="#F58E74"/><rect x="1208.7" y="323.8" width="31.9" height="31.5" fill="#FBD0C2"/><rect x="1208.7" y="355.0" width="31.9" height="28.2" fill="#F9B8A4"/><rect x="1208.7" y="382.9" width="31.9" height="4.6" fill="#FAC4B2"/><rect x="1208.7" y="387.2" width="31.9" height="16.4" fill="#F9B09A"/><rect x="1208.7" y="403.3" width="31.9" height="2.4" fill="#D6EAF5"/><rect x="1208.7" y="405.5" width="31.9" height="4.6" fill="#8EC3E4"/><rect x="1208.7" y="409.8" width="31.9" height="18.0" fill="#D6EAF5"/><rect x="1208.7" y="427.5" width="31.9" height="5.3" fill="#D6EAF5"/><rect x="1208.7" y="432.5" width="31.9" height="7.8" fill="#A8D1EA"/><rect x="1208.7" y="440.0" width="31.9" height="19.6" fill="#8EC3E4"/><rect x="1208.7" y="459.4" width="31.9" height="8.9" fill="#6CB0DC"/><rect x="1208.7" y="468.0" width="31.9" height="39.0" fill="#8EC3E4"/><rect x="1208.7" y="506.7" width="31.9" height="19.6" fill="#FAC4B2"/><rect x="1208.7" y="526.0" width="31.9" height="12.1" fill="#F3F8FB"/><rect x="1208.7" y="537.9" width="31.9" height="8.9" fill="#A8D1EA"/><rect x="1208.7" y="546.5" width="31.9" height="7.8" fill="#FAC4B2"/><rect x="1208.7" y="554.0" width="31.9" height="5.7" fill="#F8AE98"/><rect x="1208.7" y="559.4" width="31.9" height="7.8" fill="#E0EFF7"/><rect x="1208.7" y="566.9" width="31.9" height="26.1" fill="#D6EAF5"/><rect x="1208.7" y="592.7" width="31.9" height="5.1" fill="#FAC4B2"/><rect x="1208.7" y="597.5" width="31.9" height="7.5" fill="#FAC4B2"/><rect x="1208.7" y="604.7" width="31.9" height="4.6" fill="#C9E3F2"/><rect x="1208.7" y="609.0" width="31.9" height="19.6" fill="#B8DAEE"/><rect x="1208.7" y="628.3" width="31.9" height="4.6" fill="#FFFFFF"/><rect x="1208.7" y="632.6" width="31.9" height="4.6" fill="#FAC4B2"/><rect x="1208.7" y="636.9" width="31.9" height="4.6" fill="#FFFFFF"/><rect x="1208.7" y="641.2" width="31.9" height="6.7" fill="#FAC4B2"/><rect x="1208.7" y="647.6" width="31.9" height="20.7" fill="#C9E3F2"/><rect x="1208.7" y="668.1" width="31.9" height="7.8" fill="#F8A890"/><rect x="1208.7" y="675.6" width="31.9" height="7.8" fill="#E8F2F8"/><rect x="1208.7" y="683.1" width="31.9" height="15.3" fill="#F3F8FB"/><rect x="1208.7" y="698.1" width="31.9" height="5.7" fill="#FFFFFF"/><rect x="1208.7" y="703.5" width="31.9" height="7.8" fill="#E0EFF7"/><rect x="1208.7" y="711.0" width="31.9" height="4.6" fill="#C9E3F2"/><rect x="1208.7" y="715.3" width="31.9" height="15.3" fill="#E8F2F8"/><rect x="1208.7" y="730.4" width="31.9" height="15.3" fill="#C9E3F2"/><rect x="1208.7" y="745.4" width="31.9" height="8.9" fill="#A8D1EA"/><rect x="1208.7" y="754.0" width="31.9" height="13.2" fill="#B8DAEE"/><rect x="1208.7" y="766.9" width="31.9" height="10.2" fill="#FAC4B2"/><rect x="1240.2" y="88.6" width="31.9" height="8.5" fill="#F7A088"/><rect x="1240.2" y="96.8" width="31.9" height="4.6" fill="#FDF0EC"/><rect x="1240.2" y="101.1" width="31.9" height="3.5" fill="#F8AE98"/><rect x="1240.2" y="104.3" width="31.9" height="4.6" fill="#FCE0D6"/><rect x="1240.2" y="108.6" width="31.9" height="16.4" fill="#F8B29C"/><rect x="1240.2" y="124.8" width="31.9" height="3.5" fill="#FFFFFF"/><rect x="1240.2" y="128.0" width="31.9" height="15.3" fill="#FAC4B2"/><rect x="1240.2" y="143.0" width="31.9" height="13.2" fill="#F79A82"/><rect x="1240.2" y="155.9" width="31.9" height="3.5" fill="#FFFFFF"/><rect x="1240.2" y="159.2" width="31.9" height="27.2" fill="#F57E62"/><rect x="1240.2" y="186.0" width="31.9" height="11.0" fill="#FBD8CC"/><rect x="1240.2" y="196.8" width="31.9" height="29.3" fill="#F8AA92"/><rect x="1240.2" y="225.8" width="31.9" height="4.6" fill="#D0E6F3"/><rect x="1240.2" y="230.1" width="31.9" height="12.1" fill="#F7A088"/><rect x="1240.2" y="241.9" width="31.9" height="15.3" fill="#F58E74"/><rect x="1240.2" y="257.0" width="31.9" height="0.8" fill="#F7A088"/><rect x="1240.2" y="257.5" width="31.9" height="4.2" fill="#F58E74"/><rect x="1240.2" y="261.4" width="31.9" height="4.6" fill="#E0EFF7"/><rect x="1240.2" y="265.7" width="31.9" height="6.7" fill="#FAC4B2"/><rect x="1240.2" y="272.2" width="31.9" height="4.6" fill="#FBD0C2"/><rect x="1240.2" y="276.5" width="31.9" height="19.6" fill="#F7A088"/><rect x="1240.2" y="295.8" width="31.9" height="4.6" fill="#FFFFFF"/><rect x="1240.2" y="300.1" width="31.9" height="23.9" fill="#F8A890"/><rect x="1240.2" y="323.8" width="31.9" height="4.6" fill="#FFFFFF"/><rect x="1240.2" y="328.1" width="31.9" height="4.6" fill="#FAC4B2"/><rect x="1240.2" y="332.4" width="31.9" height="13.2" fill="#F9B09A"/><rect x="1240.2" y="345.3" width="31.9" height="8.9" fill="#FBD0C2"/><rect x="1240.2" y="353.9" width="31.9" height="10.0" fill="#F8A890"/><rect x="1240.2" y="363.6" width="31.9" height="7.8" fill="#FBD0C2"/><rect x="1240.2" y="371.1" width="31.9" height="12.1" fill="#F8AE98"/><rect x="1240.2" y="382.9" width="31.9" height="4.6" fill="#F47858"/><rect x="1240.2" y="387.2" width="31.9" height="16.4" fill="#F9B09A"/><rect x="1240.2" y="403.3" width="31.9" height="13.2" fill="#E8F2F8"/><rect x="1240.2" y="416.2" width="31.9" height="4.6" fill="#A8D1EA"/><rect x="1240.2" y="420.5" width="31.9" height="7.3" fill="#D6EAF5"/><rect x="1240.2" y="427.5" width="31.9" height="12.8" fill="#D6EAF5"/><rect x="1240.2" y="440.0" width="31.9" height="8.9" fill="#FAC4B2"/><rect x="1240.2" y="448.6" width="31.9" height="12.1" fill="#D6EAF5"/><rect x="1240.2" y="460.5" width="31.9" height="7.8" fill="#FCE6DE"/><rect x="1240.2" y="468.0" width="31.9" height="7.8" fill="#8EC3E4"/><rect x="1240.2" y="475.5" width="31.9" height="16.4" fill="#FAC4B2"/><rect x="1240.2" y="491.6" width="31.9" height="7.8" fill="#E0EFF7"/><rect x="1240.2" y="499.2" width="31.9" height="14.3" fill="#B8DAEE"/><rect x="1240.2" y="513.1" width="31.9" height="21.8" fill="#6CB0DC"/><rect x="1240.2" y="534.6" width="31.9" height="12.1" fill="#A8D1EA"/><rect x="1240.2" y="546.5" width="31.9" height="7.8" fill="#F9B8A4"/><rect x="1240.2" y="554.0" width="31.9" height="13.2" fill="#B8DAEE"/><rect x="1240.2" y="566.9" width="31.9" height="26.1" fill="#D6EAF5"/><rect x="1240.2" y="592.7" width="31.9" height="5.1" fill="#FAC4B2"/><rect x="1240.2" y="597.5" width="31.9" height="7.5" fill="#FAC4B2"/><rect x="1240.2" y="604.7" width="31.9" height="4.6" fill="#FDF0EC"/><rect x="1240.2" y="609.0" width="31.9" height="23.9" fill="#F8A890"/><rect x="1240.2" y="632.6" width="31.9" height="12.1" fill="#FBD8CC"/><rect x="1240.2" y="644.4" width="31.9" height="8.9" fill="#B8DAEE"/><rect x="1240.2" y="653.0" width="31.9" height="6.7" fill="#E0EFF7"/><rect x="1240.2" y="659.5" width="31.9" height="16.4" fill="#C9E3F2"/><rect x="1240.2" y="675.6" width="31.9" height="7.8" fill="#FDF0EC"/><rect x="1240.2" y="683.1" width="31.9" height="8.9" fill="#FBD8CC"/><rect x="1240.2" y="691.7" width="31.9" height="4.6" fill="#F9B8A4"/><rect x="1240.2" y="696.0" width="31.9" height="15.3" fill="#B8DAEE"/><rect x="1240.2" y="711.0" width="31.9" height="4.6" fill="#A8D1EA"/><rect x="1240.2" y="715.3" width="31.9" height="31.5" fill="#C9E3F2"/><rect x="1240.2" y="746.5" width="31.9" height="3.5" fill="#FFFFFF"/><rect x="1240.2" y="749.7" width="31.9" height="4.6" fill="#F9B8A4"/><rect x="1240.2" y="754.0" width="31.9" height="15.3" fill="#B8DAEE"/><rect x="1240.2" y="769.0" width="31.9" height="8.1" fill="#FBD8CC"/><rect x="1271.8" y="88.6" width="31.9" height="9.6" fill="#F58E74"/><rect x="1271.8" y="97.9" width="31.9" height="11.0" fill="#F9B8A4"/><rect x="1271.8" y="108.6" width="31.9" height="15.3" fill="#F8AA92"/><rect x="1271.8" y="123.7" width="31.9" height="3.5" fill="#F4704F"/><rect x="1271.8" y="126.9" width="31.9" height="25.0" fill="#FAC2B0"/><rect x="1271.8" y="151.6" width="31.9" height="7.8" fill="#FBE0D6"/><rect x="1271.8" y="159.2" width="31.9" height="3.5" fill="#F79A82"/><rect x="1271.8" y="162.4" width="31.9" height="8.9" fill="#D4E9F4"/><rect x="1271.8" y="171.0" width="31.9" height="15.3" fill="#D6EAF5"/><rect x="1271.8" y="186.0" width="31.9" height="15.3" fill="#F8AE98"/><rect x="1271.8" y="201.1" width="31.9" height="23.9" fill="#F9B8A4"/><rect x="1271.8" y="224.7" width="31.9" height="11.0" fill="#F58E74"/><rect x="1271.8" y="235.5" width="31.9" height="6.7" fill="#F8AA92"/><rect x="1271.8" y="241.9" width="31.9" height="15.3" fill="#F47C60"/><rect x="1271.8" y="257.0" width="31.9" height="0.8" fill="#F7A088"/><rect x="1271.8" y="257.5" width="31.9" height="15.0" fill="#F58E74"/><rect x="1271.8" y="272.2" width="31.9" height="39.0" fill="#F7A088"/><rect x="1271.8" y="310.9" width="31.9" height="6.7" fill="#F58E74"/><rect x="1271.8" y="317.3" width="31.9" height="15.3" fill="#F9B09A"/><rect x="1271.8" y="332.4" width="31.9" height="3.5" fill="#F47858"/><rect x="1271.8" y="335.6" width="31.9" height="18.6" fill="#F9B09A"/><rect x="1271.8" y="353.9" width="31.9" height="13.2" fill="#F47858"/><rect x="1271.8" y="366.8" width="31.9" height="36.8" fill="#F9B8A4"/><rect x="1271.8" y="403.3" width="31.9" height="5.7" fill="#D6EAF5"/><rect x="1271.8" y="408.7" width="31.9" height="5.7" fill="#A8D1EA"/><rect x="1271.8" y="414.1" width="31.9" height="13.7" fill="#D6EAF5"/><rect x="1271.8" y="427.5" width="31.9" height="2.1" fill="#D6EAF5"/><rect x="1271.8" y="429.3" width="31.9" height="12.1" fill="#A8D1EA"/><rect x="1271.8" y="441.1" width="31.9" height="7.8" fill="#8EC3E4"/><rect x="1271.8" y="448.6" width="31.9" height="11.0" fill="#B8DAEE"/><rect x="1271.8" y="459.4" width="31.9" height="32.5" fill="#FBD8CC"/><rect x="1271.8" y="491.6" width="31.9" height="16.4" fill="#FFFFFF"/><rect x="1271.8" y="507.8" width="31.9" height="25.0" fill="#E8F2F8"/><rect x="1271.8" y="532.5" width="31.9" height="14.3" fill="#B8DAEE"/><rect x="1271.8" y="546.5" width="31.9" height="7.8" fill="#6CB0DC"/><rect x="1271.8" y="554.0" width="31.9" height="13.2" fill="#B8DAEE"/><rect x="1271.8" y="566.9" width="31.9" height="26.1" fill="#D6EAF5"/><rect x="1271.8" y="592.7" width="31.9" height="5.1" fill="#A8D1EA"/><rect x="1271.8" y="597.5" width="31.9" height="7.5" fill="#A8D1EA"/><rect x="1271.8" y="604.7" width="31.9" height="4.6" fill="#E0EFF7"/><rect x="1271.8" y="609.0" width="31.9" height="19.6" fill="#B8DAEE"/><rect x="1271.8" y="628.3" width="31.9" height="4.6" fill="#FFFFFF"/><rect x="1271.8" y="632.6" width="31.9" height="25.0" fill="#F9B8A4"/><rect x="1271.8" y="657.3" width="31.9" height="18.6" fill="#C9E3F2"/><rect x="1271.8" y="675.6" width="31.9" height="12.1" fill="#FCE6DE"/><rect x="1271.8" y="687.4" width="31.9" height="20.7" fill="#F3F8FB"/><rect x="1271.8" y="707.8" width="31.9" height="7.8" fill="#FAC4B2"/><rect x="1271.8" y="715.3" width="31.9" height="30.4" fill="#C9E3F2"/><rect x="1271.8" y="745.4" width="31.9" height="8.9" fill="#A8D1EA"/><rect x="1271.8" y="754.0" width="31.9" height="15.3" fill="#B8DAEE"/><rect x="1271.8" y="769.0" width="31.9" height="8.1" fill="#8EC3E4"/><rect x="1303.3" y="88.6" width="31.9" height="4.2" fill="#F0F6FA"/><rect x="1303.3" y="92.5" width="31.9" height="4.6" fill="#F8AE98"/><rect x="1303.3" y="96.8" width="31.9" height="12.1" fill="#F3F8FB"/><rect x="1303.3" y="108.6" width="31.9" height="17.5" fill="#A4CFE9"/><rect x="1303.3" y="125.8" width="31.9" height="19.6" fill="#72B3DE"/><rect x="1303.3" y="145.2" width="31.9" height="14.3" fill="#9CCBE7"/><rect x="1303.3" y="159.2" width="31.9" height="12.1" fill="#C4E0F0"/><rect x="1303.3" y="171.0" width="31.9" height="15.3" fill="#D6EAF5"/><rect x="1303.3" y="186.0" width="31.9" height="12.1" fill="#FBE8E2"/><rect x="1303.3" y="197.9" width="31.9" height="25.0" fill="#A8D1EA"/><rect x="1303.3" y="222.6" width="31.9" height="3.5" fill="#FAD2C4"/><rect x="1303.3" y="225.8" width="31.9" height="7.8" fill="#F2F7FA"/><rect x="1303.3" y="233.3" width="31.9" height="15.3" fill="#C9E3F2"/><rect x="1303.3" y="248.4" width="31.9" height="9.4" fill="#D6EAF5"/><rect x="1303.3" y="257.5" width="31.9" height="15.0" fill="#F0F6FA"/><rect x="1303.3" y="272.2" width="31.9" height="21.8" fill="#C9E3F2"/><rect x="1303.3" y="293.7" width="31.9" height="18.6" fill="#F9B8A4"/><rect x="1303.3" y="312.0" width="31.9" height="12.1" fill="#D6EAF5"/><rect x="1303.3" y="323.8" width="31.9" height="13.2" fill="#FDF0EC"/><rect x="1303.3" y="336.7" width="31.9" height="6.7" fill="#FAD2C4"/><rect x="1303.3" y="343.1" width="31.9" height="12.1" fill="#E8F2F8"/><rect x="1303.3" y="355.0" width="31.9" height="16.4" fill="#8EC3E4"/><rect x="1303.3" y="371.1" width="31.9" height="32.5" fill="#A8D1EA"/><rect x="1303.3" y="403.3" width="31.9" height="23.9" fill="#F58E74"/><rect x="1303.3" y="427.0" width="31.9" height="0.8" fill="#F7A088"/><rect x="1303.3" y="427.5" width="31.9" height="12.8" fill="#F58E74"/><rect x="1303.3" y="440.0" width="31.9" height="8.9" fill="#F8AE98"/><rect x="1303.3" y="448.6" width="31.9" height="3.5" fill="#FFFFFF"/><rect x="1303.3" y="451.9" width="31.9" height="40.1" fill="#F9B8A4"/><rect x="1303.3" y="491.6" width="31.9" height="7.8" fill="#FFFFFF"/><rect x="1303.3" y="499.2" width="31.9" height="8.9" fill="#F47858"/><rect x="1303.3" y="507.8" width="31.9" height="39.0" fill="#F8AE98"/><rect x="1303.3" y="546.5" width="31.9" height="7.8" fill="#FAC4B2"/><rect x="1303.3" y="554.0" width="31.9" height="8.9" fill="#A8D1EA"/><rect x="1303.3" y="562.6" width="31.9" height="4.6" fill="#F3F8FB"/><rect x="1303.3" y="566.9" width="31.9" height="27.2" fill="#D6EAF5"/><rect x="1303.3" y="593.8" width="31.9" height="4.0" fill="#F8A890"/><rect x="1303.3" y="597.5" width="31.9" height="7.5" fill="#F8A890"/><rect x="1303.3" y="604.7" width="31.9" height="28.2" fill="#F58E74"/><rect x="1303.3" y="632.6" width="31.9" height="25.0" fill="#F8A890"/><rect x="1303.3" y="657.3" width="31.9" height="18.6" fill="#F58062"/><rect x="1303.3" y="675.6" width="31.9" height="20.7" fill="#F9B09A"/><rect x="1303.3" y="696.0" width="31.9" height="19.6" fill="#F58062"/><rect x="1303.3" y="715.3" width="31.9" height="8.9" fill="#F47050"/><rect x="1303.3" y="723.9" width="31.9" height="6.7" fill="#FDF0EC"/><rect x="1303.3" y="730.4" width="31.9" height="16.4" fill="#F58E74"/><rect x="1303.3" y="746.5" width="31.9" height="3.5" fill="#FFFFFF"/><rect x="1303.3" y="749.7" width="31.9" height="27.4" fill="#F58062"/><rect x="1334.9" y="88.6" width="31.9" height="8.5" fill="#FBE8E2"/><rect x="1334.9" y="96.8" width="31.9" height="12.1" fill="#F3F8FB"/><rect x="1334.9" y="108.6" width="31.9" height="16.4" fill="#FAC4B2"/><rect x="1334.9" y="124.8" width="31.9" height="3.5" fill="#E8F2F8"/><rect x="1334.9" y="128.0" width="31.9" height="21.8" fill="#FBD0C2"/><rect x="1334.9" y="149.5" width="31.9" height="13.2" fill="#F9B6A2"/><rect x="1334.9" y="162.4" width="31.9" height="23.9" fill="#D6EAF5"/><rect x="1334.9" y="186.0" width="31.9" height="12.1" fill="#FBE8E2"/><rect x="1334.9" y="197.9" width="31.9" height="25.0" fill="#9CCBE7"/><rect x="1334.9" y="222.6" width="31.9" height="11.0" fill="#B8DAEE"/><rect x="1334.9" y="233.3" width="31.9" height="23.9" fill="#C9E3F2"/><rect x="1334.9" y="257.0" width="31.9" height="0.8" fill="#77B8E0"/><rect x="1334.9" y="257.5" width="31.9" height="15.0" fill="#74B4DE"/><rect x="1334.9" y="272.2" width="31.9" height="21.8" fill="#C9E3F2"/><rect x="1334.9" y="293.7" width="31.9" height="21.8" fill="#A8D1EA"/><rect x="1334.9" y="315.2" width="31.9" height="4.6" fill="#FFFFFF"/><rect x="1334.9" y="319.5" width="31.9" height="4.6" fill="#FAC4B2"/><rect x="1334.9" y="323.8" width="31.9" height="7.8" fill="#F3F8FB"/><rect x="1334.9" y="331.3" width="31.9" height="25.0" fill="#8EC3E4"/><rect x="1334.9" y="356.0" width="31.9" height="15.3" fill="#FCE6DE"/><rect x="1334.9" y="371.1" width="31.9" height="12.1" fill="#A8D1EA"/><rect x="1334.9" y="382.9" width="31.9" height="11.0" fill="#D6EAF5"/><rect x="1334.9" y="393.7" width="31.9" height="10.0" fill="#9CCBE7"/><rect x="1334.9" y="403.3" width="31.9" height="13.2" fill="#F8A890"/><rect x="1334.9" y="416.2" width="31.9" height="4.6" fill="#FFFFFF"/><rect x="1334.9" y="420.5" width="31.9" height="7.3" fill="#F58E74"/><rect x="1334.9" y="427.5" width="31.9" height="4.2" fill="#F58062"/><rect x="1334.9" y="431.4" width="31.9" height="17.5" fill="#F8AE98"/><rect x="1334.9" y="448.6" width="31.9" height="11.0" fill="#F4603E"/><rect x="1334.9" y="459.4" width="31.9" height="32.5" fill="#FAC4B2"/><rect x="1334.9" y="491.6" width="31.9" height="15.3" fill="#F58062"/><rect x="1334.9" y="506.7" width="31.9" height="47.6" fill="#F8AE98"/><rect x="1334.9" y="554.0" width="31.9" height="17.5" fill="#F8A890"/><rect x="1334.9" y="571.2" width="31.9" height="17.5" fill="#F58062"/><rect x="1334.9" y="588.4" width="31.9" height="5.7" fill="#F4603E"/><rect x="1334.9" y="593.8" width="31.9" height="4.0" fill="#F8A890"/><rect x="1334.9" y="597.5" width="31.9" height="15.0" fill="#F9B09A"/><rect x="1334.9" y="612.2" width="31.9" height="20.7" fill="#F58E74"/><rect x="1334.9" y="632.6" width="31.9" height="19.6" fill="#F8A890"/><rect x="1334.9" y="651.9" width="31.9" height="5.7" fill="#E8F2F8"/><rect x="1334.9" y="657.3" width="31.9" height="11.0" fill="#C9E3F2"/><rect x="1334.9" y="668.1" width="31.9" height="3.5" fill="#F8A890"/><rect x="1334.9" y="671.3" width="31.9" height="4.6" fill="#B8DAEE"/><rect x="1334.9" y="675.6" width="31.9" height="40.1" fill="#F9B8A4"/><rect x="1334.9" y="715.3" width="31.9" height="4.6" fill="#F8A890"/><rect x="1334.9" y="719.6" width="31.9" height="3.5" fill="#FFFFFF"/><rect x="1334.9" y="722.8" width="31.9" height="10.0" fill="#F4603E"/><rect x="1334.9" y="732.5" width="31.9" height="21.8" fill="#F58E74"/><rect x="1334.9" y="754.0" width="31.9" height="4.6" fill="#FDF0EC"/><rect x="1334.9" y="758.3" width="31.9" height="18.8" fill="#F58E74"/><rect x="1366.4" y="88.6" width="31.9" height="8.5" fill="#C9E3F2"/><rect x="1366.4" y="96.8" width="31.9" height="12.1" fill="#EEF5FA"/><rect x="1366.4" y="108.6" width="31.9" height="4.6" fill="#D6EAF5"/><rect x="1366.4" y="112.9" width="31.9" height="4.6" fill="#FFFFFF"/><rect x="1366.4" y="117.2" width="31.9" height="11.0" fill="#FBD0C2"/><rect x="1366.4" y="128.0" width="31.9" height="11.0" fill="#E8F2F8"/><rect x="1366.4" y="138.7" width="31.9" height="8.9" fill="#FFFFFF"/><rect x="1366.4" y="147.3" width="31.9" height="8.9" fill="#FAC4B2"/><rect x="1366.4" y="155.9" width="31.9" height="15.3" fill="#C4E0F0"/><rect x="1366.4" y="171.0" width="31.9" height="15.3" fill="#D6EAF5"/><rect x="1366.4" y="186.0" width="31.9" height="4.6" fill="#9CCBE7"/><rect x="1366.4" y="190.3" width="31.9" height="11.0" fill="#FFFFFF"/><rect x="1366.4" y="201.1" width="31.9" height="23.9" fill="#FAC8B6"/><rect x="1366.4" y="224.7" width="31.9" height="11.0" fill="#F3F8FB"/><rect x="1366.4" y="235.5" width="31.9" height="8.9" fill="#FAC2B0"/><rect x="1366.4" y="244.1" width="31.9" height="13.7" fill="#D6EAF5"/><rect x="1366.4" y="257.5" width="31.9" height="6.4" fill="#E0EFF7"/><rect x="1366.4" y="263.6" width="31.9" height="8.9" fill="#A8D1EA"/><rect x="1366.4" y="272.2" width="31.9" height="44.4" fill="#C9E3F2"/><rect x="1366.4" y="316.3" width="31.9" height="7.8" fill="#A8D1EA"/><rect x="1366.4" y="323.8" width="31.9" height="7.8" fill="#6CB0DC"/><rect x="1366.4" y="331.3" width="31.9" height="16.4" fill="#9CCBE7"/><rect x="1366.4" y="347.4" width="31.9" height="8.9" fill="#6CB0DC"/><rect x="1366.4" y="356.0" width="31.9" height="47.6" fill="#9CCBE7"/><rect x="1366.4" y="403.3" width="31.9" height="13.2" fill="#F58E74"/><rect x="1366.4" y="416.2" width="31.9" height="4.6" fill="#F4704F"/><rect x="1366.4" y="420.5" width="31.9" height="7.3" fill="#F58E74"/><rect x="1366.4" y="427.5" width="31.9" height="1.0" fill="#F58062"/><rect x="1366.4" y="428.2" width="31.9" height="13.2" fill="#FFFFFF"/><rect x="1366.4" y="441.1" width="31.9" height="11.0" fill="#F8A890"/><rect x="1366.4" y="451.9" width="31.9" height="7.8" fill="#F47858"/><rect x="1366.4" y="459.4" width="31.9" height="32.5" fill="#FAC4B2"/><rect x="1366.4" y="491.6" width="31.9" height="7.8" fill="#F4603E"/><rect x="1366.4" y="499.2" width="31.9" height="27.2" fill="#F8A890"/><rect x="1366.4" y="526.0" width="31.9" height="4.6" fill="#F3F8FB"/><rect x="1366.4" y="530.3" width="31.9" height="23.9" fill="#FAC4B2"/><rect x="1366.4" y="554.0" width="31.9" height="8.9" fill="#F8A890"/><rect x="1366.4" y="562.6" width="31.9" height="26.1" fill="#F4704F"/><rect x="1366.4" y="588.4" width="31.9" height="5.7" fill="#FFFFFF"/><rect x="1366.4" y="593.8" width="31.9" height="4.0" fill="#F8A890"/><rect x="1366.4" y="597.5" width="31.9" height="7.5" fill="#F8A890"/><rect x="1366.4" y="604.7" width="31.9" height="4.6" fill="#F47858"/><rect x="1366.4" y="609.0" width="31.9" height="19.6" fill="#F58E74"/><rect x="1366.4" y="628.3" width="31.9" height="16.4" fill="#FBD0C2"/><rect x="1366.4" y="644.4" width="31.9" height="12.1" fill="#F8A890"/><rect x="1366.4" y="656.2" width="31.9" height="12.1" fill="#F47858"/><rect x="1366.4" y="668.1" width="31.9" height="7.8" fill="#F8A890"/><rect x="1366.4" y="675.6" width="31.9" height="3.5" fill="#FFFFFF"/><rect x="1366.4" y="678.8" width="31.9" height="17.5" fill="#F9B8A4"/><rect x="1366.4" y="696.0" width="31.9" height="11.0" fill="#F47050"/><rect x="1366.4" y="706.7" width="31.9" height="13.2" fill="#F8A890"/><rect x="1366.4" y="719.6" width="31.9" height="13.2" fill="#F4704F"/><rect x="1366.4" y="732.5" width="31.9" height="17.5" fill="#F58E74"/><rect x="1366.4" y="749.7" width="31.9" height="27.4" fill="#F9B8A4"/><rect x="1398.0" y="88.6" width="31.9" height="8.5" fill="#B8DAEE"/><rect x="1398.0" y="96.8" width="31.9" height="12.1" fill="#6CB0DC"/><rect x="1398.0" y="108.6" width="31.9" height="17.5" fill="#8EC3E4"/><rect x="1398.0" y="125.8" width="31.9" height="2.4" fill="#C9E3F2"/><rect x="1398.0" y="128.0" width="31.9" height="8.9" fill="#FAC4B2"/><rect x="1398.0" y="136.6" width="31.9" height="6.7" fill="#FCE6DE"/><rect x="1398.0" y="143.0" width="31.9" height="13.2" fill="#F3F8FB"/><rect x="1398.0" y="155.9" width="31.9" height="7.8" fill="#DCEDF6"/><rect x="1398.0" y="163.5" width="31.9" height="4.6" fill="#F7A088"/><rect x="1398.0" y="167.8" width="31.9" height="18.6" fill="#D6EAF5"/><rect x="1398.0" y="186.0" width="31.9" height="15.3" fill="#F8AE98"/><rect x="1398.0" y="201.1" width="31.9" height="4.6" fill="#FDEFEA"/><rect x="1398.0" y="205.4" width="31.9" height="13.2" fill="#A8D1EA"/><rect x="1398.0" y="218.3" width="31.9" height="7.8" fill="#FAC4B2"/><rect x="1398.0" y="225.8" width="31.9" height="16.4" fill="#B0D6EC"/><rect x="1398.0" y="241.9" width="31.9" height="6.7" fill="#E8F2F8"/><rect x="1398.0" y="248.4" width="31.9" height="9.4" fill="#D6EAF5"/><rect x="1398.0" y="257.5" width="31.9" height="15.0" fill="#F8F0EE"/><rect x="1398.0" y="272.2" width="31.9" height="20.7" fill="#C9E3F2"/><rect x="1398.0" y="292.6" width="31.9" height="4.6" fill="#FFFFFF"/><rect x="1398.0" y="296.9" width="31.9" height="12.1" fill="#C9E3F2"/><rect x="1398.0" y="308.7" width="31.9" height="3.5" fill="#F8A890"/><rect x="1398.0" y="312.0" width="31.9" height="12.1" fill="#D6EAF5"/><rect x="1398.0" y="323.8" width="31.9" height="8.9" fill="#FCE6DE"/><rect x="1398.0" y="332.4" width="31.9" height="4.6" fill="#FFFFFF"/><rect x="1398.0" y="336.7" width="31.9" height="8.9" fill="#FAC4B2"/><rect x="1398.0" y="345.3" width="31.9" height="11.0" fill="#F3F8FB"/><rect x="1398.0" y="356.0" width="31.9" height="11.0" fill="#FDF0EC"/><rect x="1398.0" y="366.8" width="31.9" height="4.6" fill="#FBD8CC"/><rect x="1398.0" y="371.1" width="31.9" height="13.2" fill="#F8AE98"/><rect x="1398.0" y="384.0" width="31.9" height="19.6" fill="#B8DAEE"/><rect x="1398.0" y="403.3" width="31.9" height="24.5" fill="#F58062"/><rect x="1398.0" y="427.5" width="31.9" height="13.9" fill="#F58062"/><rect x="1398.0" y="441.1" width="31.9" height="12.1" fill="#F8A890"/><rect x="1398.0" y="452.9" width="31.9" height="6.7" fill="#FFFFFF"/><rect x="1398.0" y="459.4" width="31.9" height="47.6" fill="#FAC4B2"/><rect x="1398.0" y="506.7" width="31.9" height="47.6" fill="#F9B09A"/><rect x="1398.0" y="554.0" width="31.9" height="13.2" fill="#F58E74"/><rect x="1398.0" y="566.9" width="31.9" height="26.1" fill="#F47858"/><rect x="1398.0" y="592.7" width="31.9" height="5.1" fill="#FAC4B2"/><rect x="1398.0" y="597.5" width="31.9" height="7.5" fill="#F9B8A4"/><rect x="1398.0" y="604.7" width="31.9" height="23.9" fill="#F58E74"/><rect x="1398.0" y="628.3" width="31.9" height="23.9" fill="#FAC4B2"/><rect x="1398.0" y="651.9" width="31.9" height="23.9" fill="#F58062"/><rect x="1398.0" y="675.6" width="31.9" height="20.7" fill="#F9B8A4"/><rect x="1398.0" y="696.0" width="31.9" height="4.6" fill="#FFFFFF"/><rect x="1398.0" y="700.3" width="31.9" height="15.3" fill="#F9B8A4"/><rect x="1398.0" y="715.3" width="31.9" height="8.9" fill="#D6EAF5"/><rect x="1398.0" y="723.9" width="31.9" height="8.9" fill="#F9B8A4"/><rect x="1398.0" y="732.5" width="31.9" height="21.8" fill="#F58E74"/><rect x="1398.0" y="754.0" width="31.9" height="8.9" fill="#F58062"/><rect x="1398.0" y="762.6" width="31.9" height="14.5" fill="#F9B8A4"/><rect x="1429.5" y="88.6" width="31.9" height="8.5" fill="#B8DAEE"/><rect x="1429.5" y="96.8" width="31.9" height="4.6" fill="#F8AE98"/><rect x="1429.5" y="101.1" width="31.9" height="7.8" fill="#FBE3DA"/><rect x="1429.5" y="108.6" width="31.9" height="15.3" fill="#FAC4B2"/><rect x="1429.5" y="123.7" width="31.9" height="4.6" fill="#C9E3F2"/><rect x="1429.5" y="128.0" width="31.9" height="15.3" fill="#F3F8FB"/><rect x="1429.5" y="143.0" width="31.9" height="13.2" fill="#9CCBE7"/><rect x="1429.5" y="155.9" width="31.9" height="15.3" fill="#C9E3F2"/><rect x="1429.5" y="171.0" width="31.9" height="15.3" fill="#D6EAF5"/><rect x="1429.5" y="186.0" width="31.9" height="13.2" fill="#77B8E0"/><rect x="1429.5" y="198.9" width="31.9" height="19.6" fill="#F9B8A4"/><rect x="1429.5" y="218.3" width="31.9" height="8.9" fill="#A8D1EA"/><rect x="1429.5" y="226.9" width="31.9" height="17.5" fill="#C4E0F0"/><rect x="1429.5" y="244.1" width="31.9" height="13.7" fill="#D6EAF5"/><rect x="1429.5" y="257.5" width="31.9" height="15.0" fill="#E0EFF7"/><rect x="1429.5" y="272.2" width="31.9" height="51.9" fill="#C9E3F2"/><rect x="1429.5" y="323.8" width="31.9" height="19.6" fill="#FAD2C4"/><rect x="1429.5" y="343.1" width="31.9" height="13.2" fill="#F58E74"/><rect x="1429.5" y="356.0" width="31.9" height="13.2" fill="#E8F2F8"/><rect x="1429.5" y="368.9" width="31.9" height="6.7" fill="#FBD8CC"/><rect x="1429.5" y="375.4" width="31.9" height="28.2" fill="#F8AE98"/><rect x="1429.5" y="403.3" width="31.9" height="13.2" fill="#D6EAF5"/><rect x="1429.5" y="416.2" width="31.9" height="4.6" fill="#FDF0EC"/><rect x="1429.5" y="420.5" width="31.9" height="7.3" fill="#D6EAF5"/><rect x="1429.5" y="427.5" width="31.9" height="2.1" fill="#D6EAF5"/><rect x="1429.5" y="429.3" width="31.9" height="12.1" fill="#F58062"/><rect x="1429.5" y="441.1" width="31.9" height="10.0" fill="#FCE6DE"/><rect x="1429.5" y="450.8" width="31.9" height="48.7" fill="#FAD2C4"/><rect x="1429.5" y="499.2" width="31.9" height="7.8" fill="#F8F0EE"/><rect x="1429.5" y="506.7" width="31.9" height="4.6" fill="#A8D1EA"/><rect x="1429.5" y="511.0" width="31.9" height="43.3" fill="#FAC4B2"/><rect x="1429.5" y="554.0" width="31.9" height="11.0" fill="#F58E74"/><rect x="1429.5" y="564.7" width="31.9" height="6.7" fill="#FCE6DE"/><rect x="1429.5" y="571.2" width="31.9" height="22.9" fill="#F58062"/><rect x="1429.5" y="593.8" width="31.9" height="4.0" fill="#FAC4B2"/><rect x="1429.5" y="597.5" width="31.9" height="15.0" fill="#F9B8A4"/><rect x="1429.5" y="612.2" width="31.9" height="16.4" fill="#F58E74"/><rect x="1429.5" y="628.3" width="31.9" height="23.9" fill="#FAC4B2"/><rect x="1429.5" y="651.9" width="31.9" height="16.4" fill="#F58062"/><rect x="1429.5" y="668.1" width="31.9" height="7.8" fill="#F8A890"/><rect x="1429.5" y="675.6" width="31.9" height="20.7" fill="#F9B8A4"/><rect x="1429.5" y="696.0" width="31.9" height="19.6" fill="#FCE6DE"/><rect x="1429.5" y="715.3" width="31.9" height="7.8" fill="#F47050"/><rect x="1429.5" y="722.8" width="31.9" height="10.0" fill="#FDF0EC"/><rect x="1429.5" y="732.5" width="31.9" height="21.8" fill="#F58E74"/><rect x="1429.5" y="754.0" width="31.9" height="15.3" fill="#F58062"/><rect x="1429.5" y="769.0" width="31.9" height="8.1" fill="#FBDCD2"/></g>
<path d="M1145.4 98.4H1138.6V102.3H1145.4M1145.4 94.5H1137.4V100.3H1138.6M1145.4 90.6H1136.3V97.4H1137.4M1136.3 94.0H1134.8V106.2H1145.4M1134.8 100.1H1132.8V110.1H1145.4M1145.4 117.9H1137.8V121.8H1145.4M1137.8 119.9H1136.8V125.7H1145.4M1136.8 122.8H1135.8V129.7H1145.4M1145.4 114.0H1134.5V126.2H1135.8M1132.8 105.1H1129.3V120.1H1134.5M1145.4 137.5H1137.2V141.4H1145.4M1137.2 139.4H1134.4V145.3H1145.4M1145.4 133.6H1133.4V142.4H1134.4M1129.3 112.6H1127.1V138.0H1133.4M1145.4 149.2H1137.7V153.1H1145.4M1137.7 151.2H1135.3V157.0H1145.4M1135.3 154.1H1134.1V160.9H1145.4M1145.4 168.8H1136.3V172.7H1145.4M1145.4 164.8H1134.9V170.7H1136.3M1134.1 157.5H1130.8V167.8H1134.9M1145.4 176.6H1136.3V180.5H1145.4M1130.8 162.6H1127.1V178.5H1136.3M1127.1 125.3H1121.9V170.6H1127.1M1145.4 188.3H1138.0V192.2H1145.4M1145.4 184.4H1137.4V190.3H1138.0M1137.4 187.3H1135.7V196.1H1145.4M1145.4 207.9H1136.8V211.8H1145.4M1145.4 215.7H1136.0V219.6H1145.4M1136.8 209.8H1134.7V217.6H1136.0M1145.4 204.0H1133.5V213.7H1134.7M1145.4 200.0H1131.4V208.8H1133.5M1135.7 191.7H1128.4V204.4H1131.4M1145.4 223.5H1137.7V227.4H1145.4M1145.4 231.3H1136.6V235.2H1145.4M1145.4 243.1H1138.1V247.0H1145.4M1145.4 239.1H1135.3V245.0H1138.1M1136.6 233.3H1132.3V242.1H1135.3M1145.4 250.9H1138.0V254.8H1145.4M1145.4 258.7H1137.1V262.6H1145.4M1145.4 266.5H1136.4V270.4H1145.4M1137.1 260.6H1134.6V268.5H1136.4M1138.0 252.8H1132.6V264.6H1134.6M1132.3 237.7H1128.5V258.7H1132.6M1137.7 225.5H1125.3V248.2H1128.5M1128.4 198.1H1123.0V236.8H1125.3M1145.4 278.2H1136.8V282.2H1145.4M1145.4 274.3H1135.2V280.2H1136.8M1145.4 286.1H1136.9V290.0H1145.4M1135.2 277.3H1131.7V288.0H1136.9M1145.4 293.9H1136.9V297.8H1145.4M1145.4 301.7H1137.5V305.6H1145.4M1136.9 295.8H1134.0V303.7H1137.5M1145.4 309.5H1136.4V313.4H1145.4M1136.4 311.5H1134.6V317.3H1145.4M1134.0 299.8H1129.4V314.4H1134.6M1131.7 282.6H1126.2V307.1H1129.4M1123.0 217.5H1120.9V294.9H1126.2M1121.9 147.9H1106.9V256.2H1120.9M1145.4 321.3H1136.4V325.2H1145.4M1145.4 333.0H1137.3V336.9H1145.4M1145.4 329.1H1134.6V334.9H1137.3M1145.4 344.7H1137.7V348.6H1145.4M1145.4 340.8H1134.7V346.7H1137.7M1134.6 332.0H1133.6V343.7H1134.7M1136.4 323.2H1132.0V337.9H1133.6M1145.4 352.5H1137.5V356.5H1145.4M1132.0 330.5H1129.9V354.5H1137.5M1145.4 360.4H1137.3V364.3H1145.4M1137.3 362.3H1134.0V368.2H1145.4M1145.4 372.1H1136.0V376.0H1145.4M1134.0 365.2H1132.6V374.0H1136.0M1145.4 379.9H1135.9V383.8H1145.4M1145.4 391.6H1137.6V395.6H1145.4M1145.4 387.7H1135.7V393.6H1137.6M1135.9 381.9H1133.1V390.7H1135.7M1145.4 399.5H1137.2V403.4H1145.4M1133.1 386.3H1131.4V401.4H1137.2M1132.6 369.6H1130.0V393.8H1131.4M1129.9 342.5H1123.6V381.7H1130.0M1106.9 202.1H1100.8V362.1H1123.6M1145.4 407.3H1135.8V411.2H1145.4M1145.4 419.0H1137.2V422.9H1145.4M1145.4 415.1H1135.0V421.0H1137.2M1145.4 434.7H1137.0V438.6H1145.4M1145.4 430.7H1135.9V436.6H1137.0M1145.4 426.8H1135.1V433.7H1135.9M1135.0 418.0H1133.3V430.3H1135.1M1145.4 442.5H1136.8V446.4H1145.4M1133.3 424.1H1132.3V444.4H1136.8M1135.8 409.2H1130.5V434.3H1132.3M1145.4 450.3H1136.1V454.2H1145.4M1130.5 421.8H1128.6V452.3H1136.1M1145.4 465.9H1136.9V469.8H1145.4M1145.4 473.8H1138.2V477.7H1145.4M1145.4 481.6H1138.1V485.5H1145.4M1138.2 475.7H1137.0V483.5H1138.1M1136.9 467.9H1136.0V479.6H1137.0M1145.4 462.0H1135.1V473.8H1136.0M1145.4 458.1H1133.2V467.9H1135.1M1145.4 489.4H1138.2V493.3H1145.4M1133.2 463.0H1131.0V491.4H1138.2M1145.4 501.1H1135.9V505.0H1145.4M1145.4 508.9H1136.7V512.9H1145.4M1136.7 510.9H1136.0V516.8H1145.4M1136.0 513.8H1134.9V520.7H1145.4M1135.9 503.1H1131.7V517.3H1134.9M1145.4 497.2H1130.3V510.2H1131.7M1145.4 528.5H1137.4V532.4H1145.4M1145.4 524.6H1135.9V530.5H1137.4M1135.9 527.5H1133.9V536.3H1145.4M1145.4 544.1H1137.8V548.1H1145.4M1137.8 546.1H1136.3V552.0H1145.4M1145.4 540.2H1135.5V549.0H1136.3M1133.9 531.9H1131.1V544.6H1135.5M1130.3 503.7H1128.3V538.3H1131.1M1131.0 477.2H1126.6V521.0H1128.3M1145.4 559.8H1136.3V563.7H1145.4M1145.4 567.6H1135.9V571.5H1145.4M1136.3 561.7H1134.5V569.6H1135.9M1145.4 555.9H1132.3V565.6H1134.5M1126.6 499.1H1124.8V560.8H1132.3M1145.4 579.3H1136.6V583.2H1145.4M1145.4 575.4H1135.3V581.3H1136.6M1145.4 595.0H1137.2V598.9H1145.4M1145.4 591.1H1136.4V596.9H1137.2M1145.4 587.2H1135.0V594.0H1136.4M1135.3 578.4H1133.6V590.6H1135.0M1133.6 584.5H1132.4V602.8H1145.4M1145.4 606.7H1136.5V610.6H1145.4M1132.4 593.6H1131.1V608.7H1136.5M1124.8 529.9H1121.2V601.1H1131.1M1145.4 618.4H1137.8V622.3H1145.4M1137.8 620.4H1136.1V626.3H1145.4M1136.1 623.3H1134.1V630.2H1145.4M1145.4 634.1H1137.0V638.0H1145.4M1145.4 641.9H1137.8V645.8H1145.4M1137.8 643.9H1136.7V649.7H1145.4M1137.0 636.0H1134.9V646.8H1136.7M1134.9 641.4H1133.1V653.6H1145.4M1134.1 626.7H1130.6V647.5H1133.1M1145.4 614.5H1129.3V637.1H1130.6M1121.2 565.5H1117.8V625.8H1129.3M1145.4 661.4H1137.7V665.4H1145.4M1145.4 657.5H1136.8V663.4H1137.7M1145.4 669.3H1136.8V673.2H1145.4M1145.4 677.1H1136.8V681.0H1145.4M1145.4 684.9H1137.9V688.8H1145.4M1136.8 679.0H1135.1V686.9H1137.9M1136.8 671.2H1132.1V683.0H1135.1M1136.8 660.5H1129.5V677.1H1132.1M1117.8 595.7H1113.0V668.8H1129.5M1145.4 696.6H1137.4V700.6H1145.4M1137.4 698.6H1136.7V704.5H1145.4M1145.4 692.7H1133.6V701.5H1136.7M1145.4 716.2H1137.3V720.1H1145.4M1145.4 712.3H1135.7V718.1H1137.3M1145.4 708.4H1134.1V715.2H1135.7M1133.6 697.1H1131.5V711.8H1134.1M1145.4 724.0H1136.8V727.9H1145.4M1131.5 704.5H1129.0V726.0H1136.8M1145.4 731.8H1137.8V735.7H1145.4M1145.4 739.7H1136.5V743.6H1145.4M1136.5 741.6H1135.4V747.5H1145.4M1135.4 744.5H1134.3V751.4H1145.4M1137.8 733.8H1131.7V748.0H1134.3M1145.4 755.3H1136.0V759.2H1145.4M1145.4 767.0H1137.3V770.9H1145.4M1137.3 769.0H1136.0V774.8H1145.4M1145.4 763.1H1134.7V771.9H1136.0M1136.0 757.2H1131.2V767.5H1134.7M1131.7 740.9H1130.0V762.4H1131.2M1129.0 715.2H1119.4V751.6H1130.0M1113.0 632.2H1109.4V733.4H1119.4M1128.6 437.0H1101.9V682.8H1109.4M1100.8 282.1H1089.6V559.9H1101.9" fill="none" stroke="#262626" stroke-width="1.1"/>
<text transform="translate(1163.4 780.5) rotate(90)" font-size="6.5" fill="#222">B4</text>
<text transform="translate(1194.9 780.5) rotate(90)" font-size="6.5" fill="#222">B5</text>
<text transform="translate(1226.5 780.5) rotate(90)" font-size="6.5" fill="#222">B2</text>
<text transform="translate(1258.0 780.5) rotate(90)" font-size="6.5" fill="#222">B1</text>
<text transform="translate(1289.6 780.5) rotate(90)" font-size="6.5" fill="#222">B3</text>
<text transform="translate(1321.1 780.5) rotate(90)" font-size="6.5" fill="#222">A2</text>
<text transform="translate(1352.7 780.5) rotate(90)" font-size="6.5" fill="#222">A1</text>
<text transform="translate(1384.2 780.5) rotate(90)" font-size="6.5" fill="#222">A3</text>
<text transform="translate(1415.8 780.5) rotate(90)" font-size="6.5" fill="#222">A4</text>
<text transform="translate(1447.3 780.5) rotate(90)" font-size="6.5" fill="#222">A5</text>
<text x="1464.37" y="83.0" font-size="11.08" textLength="31.95" lengthAdjust="spacingAndGlyphs" font-weight="bold">Group</text>
<defs><linearGradient id="cb" x1="0" y1="0" x2="0" y2="1"><stop offset="0" stop-color="#F41E0C"/><stop offset="0.17" stop-color="#F56A4C"/><stop offset="0.33" stop-color="#F8A68F"/><stop offset="0.5" stop-color="#FDFBFA"/><stop offset="0.67" stop-color="#C5E0F1"/><stop offset="0.84" stop-color="#8FC3E5"/><stop offset="1" stop-color="#5FA9DA"/></linearGradient></defs>
<rect x="1466.9" y="89" width="10.2" height="183.4" fill="url(#cb)"/>
<text x="1481.00" y="119.4" font-size="10.41" textLength="5.56" lengthAdjust="spacingAndGlyphs" fill="#222">2</text>
<text x="1480.75" y="152.3" font-size="10.41" textLength="5.56" lengthAdjust="spacingAndGlyphs" fill="#222">1</text>
<text x="1481.10" y="184.5" font-size="10.41" textLength="5.56" lengthAdjust="spacingAndGlyphs" fill="#222">0</text>
<text x="1480.05" y="218.1" font-size="10.41" textLength="8.89" lengthAdjust="spacingAndGlyphs" fill="#222">-1</text>
<text x="1480.05" y="249.6" font-size="10.41" textLength="8.89" lengthAdjust="spacingAndGlyphs" fill="#222">-2</text>
<text x="1497.07" y="96.6" font-size="11.08" textLength="31.95" lengthAdjust="spacingAndGlyphs" font-weight="bold">Group</text>
<rect x="1497.5" y="102.2" width="14.4" height="17.5" fill="#22C7CB"/>
<rect x="1497.5" y="119.7" width="14.4" height="16.8" fill="#F66A6A"/>
<text x="1515.90" y="115.0" font-size="10.93" textLength="7.00" lengthAdjust="spacingAndGlyphs">A</text>
<text x="1515.06" y="132.3" font-size="10.93" textLength="7.00" lengthAdjust="spacingAndGlyphs">B</text>
<text x="14.74" y="456.4" font-size="37.2" textLength="25.85" lengthAdjust="spacingAndGlyphs" stroke="#000" stroke-width="0.4">D</text>
<circle cx="311.6" cy="629.5" r="140.3" fill="#E3D877"/>
<path d="M477.6 629.5h0M477.4 636.7h0M477.0 644.0h0M476.2 651.2h0M475.1 658.3h0M473.7 665.4h0M471.9 672.5h0M469.9 679.4h0M467.6 686.3h0M465.0 693.0h0M462.0 699.7h0M458.8 706.2h0M455.4 712.5h0M451.6 718.7h0M447.6 724.7h0M443.3 730.6h0M438.8 736.2h0M434.0 741.6h0M429.0 746.9h0M423.7 751.9h0M418.3 756.7h0M412.7 761.2h0M406.8 765.5h0M400.8 769.5h0M394.6 773.3h0M388.3 776.7h0M381.8 779.9h0M375.1 782.9h0M368.4 785.5h0M361.5 787.8h0M354.6 789.8h0M347.5 791.6h0M340.4 793.0h0M333.3 794.1h0M326.1 794.9h0M318.8 795.3h0M311.6 795.5h0M304.4 795.3h0M297.1 794.9h0M289.9 794.1h0M282.8 793.0h0M275.7 791.6h0M268.6 789.8h0M261.7 787.8h0M254.8 785.5h0M248.1 782.9h0M241.4 779.9h0M234.9 776.7h0M228.6 773.3h0M222.4 769.5h0M216.4 765.5h0M210.5 761.2h0M204.9 756.7h0M199.5 751.9h0M194.2 746.9h0M189.2 741.6h0M184.4 736.2h0M179.9 730.6h0M175.6 724.7h0M171.6 718.7h0M167.8 712.5h0M164.4 706.2h0M161.2 699.7h0M158.2 693.0h0M155.6 686.3h0M153.3 679.4h0M151.3 672.5h0M149.5 665.4h0M148.1 658.3h0M147.0 651.2h0M146.2 644.0h0M145.8 636.7h0M145.6 629.5h0M145.8 622.3h0M146.2 615.0h0M147.0 607.8h0M148.1 600.7h0M149.5 593.6h0M151.3 586.5h0M153.3 579.6h0M155.6 572.7h0M158.2 566.0h0M161.2 559.3h0M164.4 552.8h0M167.8 546.5h0M171.6 540.3h0M175.6 534.3h0M179.9 528.4h0M184.4 522.8h0M189.2 517.4h0M194.2 512.1h0M199.5 507.1h0M204.9 502.3h0M210.5 497.8h0M216.4 493.5h0M222.4 489.5h0M228.6 485.7h0M234.9 482.3h0M241.4 479.1h0M248.1 476.1h0M254.8 473.5h0M261.7 471.2h0M268.6 469.2h0M275.7 467.4h0M282.8 466.0h0M289.9 464.9h0M297.1 464.1h0M304.4 463.7h0M311.6 463.5h0M318.8 463.7h0M326.1 464.1h0M333.3 464.9h0M340.4 466.0h0M347.5 467.4h0M354.6 469.2h0M361.5 471.2h0M368.4 473.5h0M375.1 476.1h0M381.8 479.1h0M388.3 482.3h0M394.6 485.7h0M400.8 489.5h0M406.8 493.5h0M412.7 497.8h0M418.3 502.3h0M423.7 507.1h0M429.0 512.1h0M434.0 517.4h0M438.8 522.8h0M443.3 528.4h0M447.6 534.3h0M451.6 540.3h0M455.4 546.5h0M458.8 552.8h0M462.0 559.3h0M465.0 566.0h0M467.6 572.7h0M469.9 579.6h0M471.9 586.5h0M473.7 593.6h0M475.1 600.7h0M476.2 607.8h0M477.0 615.0h0M477.4 622.3h0" stroke="#E2D86C" stroke-width="5.4" stroke-linecap="round"/>
<path d="M457.9 629.5h0M457.8 635.9h0M457.3 642.3h0M456.6 648.6h0M455.7 654.9h0M454.4 661.2h0M452.9 667.4h0M451.1 673.5h0M449.1 679.5h0M446.8 685.5h0M444.2 691.3h0M441.4 697.1h0M438.3 702.6h0M435.0 708.1h0M431.4 713.4h0M427.7 718.6h0M423.7 723.5h0M419.5 728.3h0M415.0 732.9h0M410.4 737.4h0M405.6 741.6h0M400.7 745.6h0M395.5 749.3h0M390.2 752.9h0M384.8 756.2h0M379.2 759.3h0M373.4 762.1h0M367.6 764.7h0M361.6 767.0h0M355.6 769.0h0M349.5 770.8h0M343.3 772.3h0M337.0 773.6h0M330.7 774.5h0M324.4 775.2h0M318.0 775.7h0M311.6 775.8h0M305.2 775.7h0M298.8 775.2h0M292.5 774.5h0M286.2 773.6h0M279.9 772.3h0M273.7 770.8h0M267.6 769.0h0M261.6 767.0h0M255.6 764.7h0M249.8 762.1h0M244.0 759.3h0M238.5 756.2h0M233.0 752.9h0M227.7 749.3h0M222.5 745.6h0M217.6 741.6h0M212.8 737.4h0M208.2 732.9h0M203.7 728.3h0M199.5 723.5h0M195.5 718.6h0M191.8 713.4h0M188.2 708.1h0M184.9 702.7h0M181.8 697.1h0M179.0 691.3h0M176.4 685.5h0M174.1 679.5h0M172.1 673.5h0M170.3 667.4h0M168.8 661.2h0M167.5 654.9h0M166.6 648.6h0M165.9 642.3h0M165.4 635.9h0M165.3 629.5h0M165.4 623.1h0M165.9 616.7h0M166.6 610.4h0M167.5 604.1h0M168.8 597.8h0M170.3 591.6h0M172.1 585.5h0M174.1 579.5h0M176.4 573.5h0M179.0 567.7h0M181.8 561.9h0M184.9 556.4h0M188.2 550.9h0M191.8 545.6h0M195.5 540.4h0M199.5 535.5h0M203.7 530.7h0M208.2 526.1h0M212.8 521.6h0M217.6 517.4h0M222.5 513.4h0M227.7 509.7h0M233.0 506.1h0M238.4 502.8h0M244.0 499.7h0M249.8 496.9h0M255.6 494.3h0M261.6 492.0h0M267.6 490.0h0M273.7 488.2h0M279.9 486.7h0M286.2 485.4h0M292.5 484.5h0M298.8 483.8h0M305.2 483.3h0M311.6 483.2h0M318.0 483.3h0M324.4 483.8h0M330.7 484.5h0M337.0 485.4h0M343.3 486.7h0M349.5 488.2h0M355.6 490.0h0M361.6 492.0h0M367.6 494.3h0M373.4 496.9h0M379.2 499.7h0M384.7 502.8h0M390.2 506.1h0M395.5 509.7h0M400.7 513.4h0M405.6 517.4h0M410.4 521.6h0M415.0 526.1h0M419.5 530.7h0M423.7 535.5h0M427.7 540.4h0M431.4 545.6h0M435.0 550.9h0M438.3 556.4h0M441.4 561.9h0M444.2 567.7h0M446.8 573.5h0M449.1 579.5h0M451.1 585.5h0M452.9 591.6h0M454.4 597.8h0M455.7 604.1h0M456.6 610.4h0M457.3 616.7h0M457.8 623.1h0" stroke="#E2D86C" stroke-width="5.2" stroke-linecap="round"/>
<g fill="#EDC6EC" stroke="#A2329F" stroke-width="1.4"><ellipse cx="467.8" cy="629.5" rx="6.7" ry="1.8" transform="rotate(0.0 467.8 629.5)"/><ellipse cx="467.7" cy="636.3" rx="6.7" ry="1.8" transform="rotate(2.5 467.7 636.3)"/><ellipse cx="467.2" cy="643.1" rx="6.7" ry="1.8" transform="rotate(5.0 467.2 643.1)"/><ellipse cx="466.5" cy="649.9" rx="6.7" ry="1.8" transform="rotate(7.5 466.5 649.9)"/><ellipse cx="465.4" cy="656.6" rx="6.7" ry="1.8" transform="rotate(10.0 465.4 656.6)"/><ellipse cx="464.1" cy="663.3" rx="6.7" ry="1.8" transform="rotate(12.5 464.1 663.3)"/><ellipse cx="462.5" cy="669.9" rx="6.7" ry="1.8" transform="rotate(15.0 462.5 669.9)"/><ellipse cx="460.6" cy="676.5" rx="6.7" ry="1.8" transform="rotate(17.5 460.6 676.5)"/><ellipse cx="458.4" cy="682.9" rx="6.7" ry="1.8" transform="rotate(20.0 458.4 682.9)"/><ellipse cx="455.9" cy="689.3" rx="6.7" ry="1.8" transform="rotate(22.5 455.9 689.3)"/><ellipse cx="453.2" cy="695.5" rx="6.7" ry="1.8" transform="rotate(25.0 453.2 695.5)"/><ellipse cx="450.2" cy="701.6" rx="6.7" ry="1.8" transform="rotate(27.5 450.2 701.6)"/><ellipse cx="446.9" cy="707.6" rx="6.7" ry="1.8" transform="rotate(30.0 446.9 707.6)"/><ellipse cx="443.3" cy="713.4" rx="6.7" ry="1.8" transform="rotate(32.5 443.3 713.4)"/><ellipse cx="439.6" cy="719.1" rx="6.7" ry="1.8" transform="rotate(35.0 439.6 719.1)"/><ellipse cx="435.5" cy="724.6" rx="6.7" ry="1.8" transform="rotate(37.5 435.5 724.6)"/><ellipse cx="431.3" cy="729.9" rx="6.7" ry="1.8" transform="rotate(40.0 431.3 729.9)"/><ellipse cx="426.8" cy="735.0" rx="6.7" ry="1.8" transform="rotate(42.5 426.8 735.0)"/><ellipse cx="422.1" cy="740.0" rx="6.7" ry="1.8" transform="rotate(45.0 422.1 740.0)"/><ellipse cx="417.1" cy="744.7" rx="6.7" ry="1.8" transform="rotate(47.5 417.1 744.7)"/><ellipse cx="412.0" cy="749.2" rx="6.7" ry="1.8" transform="rotate(50.0 412.0 749.2)"/><ellipse cx="406.7" cy="753.4" rx="6.7" ry="1.8" transform="rotate(52.5 406.7 753.4)"/><ellipse cx="401.2" cy="757.5" rx="6.7" ry="1.8" transform="rotate(55.0 401.2 757.5)"/><ellipse cx="395.5" cy="761.2" rx="6.7" ry="1.8" transform="rotate(57.5 395.5 761.2)"/><ellipse cx="389.7" cy="764.8" rx="6.7" ry="1.8" transform="rotate(60.0 389.7 764.8)"/><ellipse cx="383.7" cy="768.1" rx="6.7" ry="1.8" transform="rotate(62.5 383.7 768.1)"/><ellipse cx="377.6" cy="771.1" rx="6.7" ry="1.8" transform="rotate(65.0 377.6 771.1)"/><ellipse cx="371.4" cy="773.8" rx="6.7" ry="1.8" transform="rotate(67.5 371.4 773.8)"/><ellipse cx="365.0" cy="776.3" rx="6.7" ry="1.8" transform="rotate(70.0 365.0 776.3)"/><ellipse cx="358.6" cy="778.5" rx="6.7" ry="1.8" transform="rotate(72.5 358.6 778.5)"/><ellipse cx="352.0" cy="780.4" rx="6.7" ry="1.8" transform="rotate(75.0 352.0 780.4)"/><ellipse cx="345.4" cy="782.0" rx="6.7" ry="1.8" transform="rotate(77.5 345.4 782.0)"/><ellipse cx="338.7" cy="783.3" rx="6.7" ry="1.8" transform="rotate(80.0 338.7 783.3)"/><ellipse cx="332.0" cy="784.4" rx="6.7" ry="1.8" transform="rotate(82.5 332.0 784.4)"/><ellipse cx="325.2" cy="785.1" rx="6.7" ry="1.8" transform="rotate(85.0 325.2 785.1)"/><ellipse cx="318.4" cy="785.6" rx="6.7" ry="1.8" transform="rotate(87.5 318.4 785.6)"/><ellipse cx="311.6" cy="785.7" rx="6.7" ry="1.8" transform="rotate(90.0 311.6 785.7)"/><ellipse cx="304.8" cy="785.6" rx="6.7" ry="1.8" transform="rotate(92.5 304.8 785.6)"/><ellipse cx="298.0" cy="785.1" rx="6.7" ry="1.8" transform="rotate(95.0 298.0 785.1)"/><ellipse cx="291.2" cy="784.4" rx="6.7" ry="1.8" transform="rotate(97.5 291.2 784.4)"/><ellipse cx="284.5" cy="783.3" rx="6.7" ry="1.8" transform="rotate(100.0 284.5 783.3)"/><ellipse cx="277.8" cy="782.0" rx="6.7" ry="1.8" transform="rotate(102.5 277.8 782.0)"/><ellipse cx="271.2" cy="780.4" rx="6.7" ry="1.8" transform="rotate(105.0 271.2 780.4)"/><ellipse cx="264.6" cy="778.5" rx="6.7" ry="1.8" transform="rotate(107.5 264.6 778.5)"/><ellipse cx="258.2" cy="776.3" rx="6.7" ry="1.8" transform="rotate(110.0 258.2 776.3)"/><ellipse cx="251.8" cy="773.8" rx="6.7" ry="1.8" transform="rotate(112.5 251.8 773.8)"/><ellipse cx="245.6" cy="771.1" rx="6.7" ry="1.8" transform="rotate(115.0 245.6 771.1)"/><ellipse cx="239.5" cy="768.1" rx="6.7" ry="1.8" transform="rotate(117.5 239.5 768.1)"/><ellipse cx="233.5" cy="764.8" rx="6.7" ry="1.8" transform="rotate(120.0 233.5 764.8)"/><ellipse cx="227.7" cy="761.2" rx="6.7" ry="1.8" transform="rotate(122.5 227.7 761.2)"/><ellipse cx="222.0" cy="757.5" rx="6.7" ry="1.8" transform="rotate(125.0 222.0 757.5)"/><ellipse cx="216.5" cy="753.4" rx="6.7" ry="1.8" transform="rotate(127.5 216.5 753.4)"/><ellipse cx="211.2" cy="749.2" rx="6.7" ry="1.8" transform="rotate(130.0 211.2 749.2)"/><ellipse cx="206.1" cy="744.7" rx="6.7" ry="1.8" transform="rotate(132.5 206.1 744.7)"/><ellipse cx="201.1" cy="740.0" rx="6.7" ry="1.8" transform="rotate(135.0 201.1 740.0)"/><ellipse cx="196.4" cy="735.0" rx="6.7" ry="1.8" transform="rotate(137.5 196.4 735.0)"/><ellipse cx="191.9" cy="729.9" rx="6.7" ry="1.8" transform="rotate(140.0 191.9 729.9)"/><ellipse cx="187.7" cy="724.6" rx="6.7" ry="1.8" transform="rotate(142.5 187.7 724.6)"/><ellipse cx="183.6" cy="719.1" rx="6.7" ry="1.8" transform="rotate(145.0 183.6 719.1)"/><ellipse cx="179.9" cy="713.4" rx="6.7" ry="1.8" transform="rotate(147.5 179.9 713.4)"/><ellipse cx="176.3" cy="707.6" rx="6.7" ry="1.8" transform="rotate(150.0 176.3 707.6)"/><ellipse cx="173.0" cy="701.6" rx="6.7" ry="1.8" transform="rotate(152.5 173.0 701.6)"/><ellipse cx="170.0" cy="695.5" rx="6.7" ry="1.8" transform="rotate(155.0 170.0 695.5)"/><ellipse cx="167.3" cy="689.3" rx="6.7" ry="1.8" transform="rotate(157.5 167.3 689.3)"/><ellipse cx="164.8" cy="682.9" rx="6.7" ry="1.8" transform="rotate(160.0 164.8 682.9)"/><ellipse cx="162.6" cy="676.5" rx="6.7" ry="1.8" transform="rotate(162.5 162.6 676.5)"/><ellipse cx="160.7" cy="669.9" rx="6.7" ry="1.8" transform="rotate(165.0 160.7 669.9)"/><ellipse cx="159.1" cy="663.3" rx="6.7" ry="1.8" transform="rotate(167.5 159.1 663.3)"/><ellipse cx="157.8" cy="656.6" rx="6.7" ry="1.8" transform="rotate(170.0 157.8 656.6)"/><ellipse cx="156.7" cy="649.9" rx="6.7" ry="1.8" transform="rotate(172.5 156.7 649.9)"/><ellipse cx="156.0" cy="643.1" rx="6.7" ry="1.8" transform="rotate(175.0 156.0 643.1)"/><ellipse cx="155.5" cy="636.3" rx="6.7" ry="1.8" transform="rotate(177.5 155.5 636.3)"/><ellipse cx="155.4" cy="629.5" rx="6.7" ry="1.8" transform="rotate(180.0 155.4 629.5)"/><ellipse cx="155.5" cy="622.7" rx="6.7" ry="1.8" transform="rotate(182.5 155.5 622.7)"/><ellipse cx="156.0" cy="615.9" rx="6.7" ry="1.8" transform="rotate(185.0 156.0 615.9)"/><ellipse cx="156.7" cy="609.1" rx="6.7" ry="1.8" transform="rotate(187.5 156.7 609.1)"/><ellipse cx="157.8" cy="602.4" rx="6.7" ry="1.8" transform="rotate(190.0 157.8 602.4)"/><ellipse cx="159.1" cy="595.7" rx="6.7" ry="1.8" transform="rotate(192.5 159.1 595.7)"/><ellipse cx="160.7" cy="589.1" rx="6.7" ry="1.8" transform="rotate(195.0 160.7 589.1)"/><ellipse cx="162.6" cy="582.5" rx="6.7" ry="1.8" transform="rotate(197.5 162.6 582.5)"/><ellipse cx="164.8" cy="576.1" rx="6.7" ry="1.8" transform="rotate(200.0 164.8 576.1)"/><ellipse cx="167.3" cy="569.7" rx="6.7" ry="1.8" transform="rotate(202.5 167.3 569.7)"/><ellipse cx="170.0" cy="563.5" rx="6.7" ry="1.8" transform="rotate(205.0 170.0 563.5)"/><ellipse cx="173.0" cy="557.4" rx="6.7" ry="1.8" transform="rotate(207.5 173.0 557.4)"/><ellipse cx="176.3" cy="551.4" rx="6.7" ry="1.8" transform="rotate(210.0 176.3 551.4)"/><ellipse cx="179.9" cy="545.6" rx="6.7" ry="1.8" transform="rotate(212.5 179.9 545.6)"/><ellipse cx="183.6" cy="539.9" rx="6.7" ry="1.8" transform="rotate(215.0 183.6 539.9)"/><ellipse cx="187.7" cy="534.4" rx="6.7" ry="1.8" transform="rotate(217.5 187.7 534.4)"/><ellipse cx="191.9" cy="529.1" rx="6.7" ry="1.8" transform="rotate(220.0 191.9 529.1)"/><ellipse cx="196.4" cy="524.0" rx="6.7" ry="1.8" transform="rotate(222.5 196.4 524.0)"/><ellipse cx="201.1" cy="519.0" rx="6.7" ry="1.8" transform="rotate(225.0 201.1 519.0)"/><ellipse cx="206.1" cy="514.3" rx="6.7" ry="1.8" transform="rotate(227.5 206.1 514.3)"/><ellipse cx="211.2" cy="509.8" rx="6.7" ry="1.8" transform="rotate(230.0 211.2 509.8)"/><ellipse cx="216.5" cy="505.6" rx="6.7" ry="1.8" transform="rotate(232.5 216.5 505.6)"/><ellipse cx="222.0" cy="501.5" rx="6.7" ry="1.8" transform="rotate(235.0 222.0 501.5)"/><ellipse cx="227.7" cy="497.8" rx="6.7" ry="1.8" transform="rotate(237.5 227.7 497.8)"/><ellipse cx="233.5" cy="494.2" rx="6.7" ry="1.8" transform="rotate(240.0 233.5 494.2)"/><ellipse cx="239.5" cy="490.9" rx="6.7" ry="1.8" transform="rotate(242.5 239.5 490.9)"/><ellipse cx="245.6" cy="487.9" rx="6.7" ry="1.8" transform="rotate(245.0 245.6 487.9)"/><ellipse cx="251.8" cy="485.2" rx="6.7" ry="1.8" transform="rotate(247.5 251.8 485.2)"/><ellipse cx="258.2" cy="482.7" rx="6.7" ry="1.8" transform="rotate(250.0 258.2 482.7)"/><ellipse cx="264.6" cy="480.5" rx="6.7" ry="1.8" transform="rotate(252.5 264.6 480.5)"/><ellipse cx="271.2" cy="478.6" rx="6.7" ry="1.8" transform="rotate(255.0 271.2 478.6)"/><ellipse cx="277.8" cy="477.0" rx="6.7" ry="1.8" transform="rotate(257.5 277.8 477.0)"/><ellipse cx="284.5" cy="475.7" rx="6.7" ry="1.8" transform="rotate(260.0 284.5 475.7)"/><ellipse cx="291.2" cy="474.6" rx="6.7" ry="1.8" transform="rotate(262.5 291.2 474.6)"/><ellipse cx="298.0" cy="473.9" rx="6.7" ry="1.8" transform="rotate(265.0 298.0 473.9)"/><ellipse cx="304.8" cy="473.4" rx="6.7" ry="1.8" transform="rotate(267.5 304.8 473.4)"/><ellipse cx="311.6" cy="473.3" rx="6.7" ry="1.8" transform="rotate(270.0 311.6 473.3)"/><ellipse cx="318.4" cy="473.4" rx="6.7" ry="1.8" transform="rotate(272.5 318.4 473.4)"/><ellipse cx="325.2" cy="473.9" rx="6.7" ry="1.8" transform="rotate(275.0 325.2 473.9)"/><ellipse cx="332.0" cy="474.6" rx="6.7" ry="1.8" transform="rotate(277.5 332.0 474.6)"/><ellipse cx="338.7" cy="475.7" rx="6.7" ry="1.8" transform="rotate(280.0 338.7 475.7)"/><ellipse cx="345.4" cy="477.0" rx="6.7" ry="1.8" transform="rotate(282.5 345.4 477.0)"/><ellipse cx="352.0" cy="478.6" rx="6.7" ry="1.8" transform="rotate(285.0 352.0 478.6)"/><ellipse cx="358.6" cy="480.5" rx="6.7" ry="1.8" transform="rotate(287.5 358.6 480.5)"/><ellipse cx="365.0" cy="482.7" rx="6.7" ry="1.8" transform="rotate(290.0 365.0 482.7)"/><ellipse cx="371.4" cy="485.2" rx="6.7" ry="1.8" transform="rotate(292.5 371.4 485.2)"/><ellipse cx="377.6" cy="487.9" rx="6.7" ry="1.8" transform="rotate(295.0 377.6 487.9)"/><ellipse cx="383.7" cy="490.9" rx="6.7" ry="1.8" transform="rotate(297.5 383.7 490.9)"/><ellipse cx="389.7" cy="494.2" rx="6.7" ry="1.8" transform="rotate(300.0 389.7 494.2)"/><ellipse cx="395.5" cy="497.8" rx="6.7" ry="1.8" transform="rotate(302.5 395.5 497.8)"/><ellipse cx="401.2" cy="501.5" rx="6.7" ry="1.8" transform="rotate(305.0 401.2 501.5)"/><ellipse cx="406.7" cy="505.6" rx="6.7" ry="1.8" transform="rotate(307.5 406.7 505.6)"/><ellipse cx="412.0" cy="509.8" rx="6.7" ry="1.8" transform="rotate(310.0 412.0 509.8)"/><ellipse cx="417.1" cy="514.3" rx="6.7" ry="1.8" transform="rotate(312.5 417.1 514.3)"/><ellipse cx="422.1" cy="519.0" rx="6.7" ry="1.8" transform="rotate(315.0 422.1 519.0)"/><ellipse cx="426.8" cy="524.0" rx="6.7" ry="1.8" transform="rotate(317.5 426.8 524.0)"/><ellipse cx="431.3" cy="529.1" rx="6.7" ry="1.8" transform="rotate(320.0 431.3 529.1)"/><ellipse cx="435.5" cy="534.4" rx="6.7" ry="1.8" transform="rotate(322.5 435.5 534.4)"/><ellipse cx="439.6" cy="539.9" rx="6.7" ry="1.8" transform="rotate(325.0 439.6 539.9)"/><ellipse cx="443.3" cy="545.6" rx="6.7" ry="1.8" transform="rotate(327.5 443.3 545.6)"/><ellipse cx="446.9" cy="551.4" rx="6.7" ry="1.8" transform="rotate(330.0 446.9 551.4)"/><ellipse cx="450.2" cy="557.4" rx="6.7" ry="1.8" transform="rotate(332.5 450.2 557.4)"/><ellipse cx="453.2" cy="563.5" rx="6.7" ry="1.8" transform="rotate(335.0 453.2 563.5)"/><ellipse cx="455.9" cy="569.7" rx="6.7" ry="1.8" transform="rotate(337.5 455.9 569.7)"/><ellipse cx="458.4" cy="576.1" rx="6.7" ry="1.8" transform="rotate(340.0 458.4 576.1)"/><ellipse cx="460.6" cy="582.5" rx="6.7" ry="1.8" transform="rotate(342.5 460.6 582.5)"/><ellipse cx="462.5" cy="589.1" rx="6.7" ry="1.8" transform="rotate(345.0 462.5 589.1)"/><ellipse cx="464.1" cy="595.7" rx="6.7" ry="1.8" transform="rotate(347.5 464.1 595.7)"/><ellipse cx="465.4" cy="602.4" rx="6.7" ry="1.8" transform="rotate(350.0 465.4 602.4)"/><ellipse cx="466.5" cy="609.1" rx="6.7" ry="1.8" transform="rotate(352.5 466.5 609.1)"/><ellipse cx="467.2" cy="615.9" rx="6.7" ry="1.8" transform="rotate(355.0 467.2 615.9)"/><ellipse cx="467.7" cy="622.7" rx="6.7" ry="1.8" transform="rotate(357.5 467.7 622.7)"/></g>
<circle cx="129.7" cy="504.1" r="12.3" fill="#2AA8E0"/>
<path d="M142.2 491.1C158 497 155 518 128.1 523.4C139 519 148 507 142.2 491.1Z" fill="#B08A1C"/>
<ellipse cx="164.5" cy="520.5" rx="17.5" ry="6.2" transform="rotate(22 164.5 520.5)" fill="#B08A1C"/>
<path d="M146 508 L152 516" stroke="#B08A1C" stroke-width="5"/>
<circle cx="269.7" cy="562.3" r="17.1" fill="#5A4A30"/><circle cx="269.7" cy="562.3" r="15.0" fill="#3E3017"/><circle cx="269.7" cy="562.3" r="9.4" fill="#F6F1F4"/><circle cx="269.7" cy="562.3" r="3.8" fill="#F0C22E"/>
<circle cx="426.6" cy="630.3" r="14.7" fill="#5A4A30"/><circle cx="426.6" cy="630.3" r="12.9" fill="#3E3017"/><circle cx="426.6" cy="630.3" r="7.4" fill="#F6F1F4"/><circle cx="426.6" cy="630.3" r="3.3" fill="#F0C22E"/>
<ellipse cx="219" cy="602.7" rx="14.8" ry="6.7" transform="rotate(-27 219 602.7)" fill="#614C34"/>
<path d="M209 607 l2 -3 l2 3 l2 -3 l2 3 l2 -3 l2 3 l2 -3 l2 3 l2 -3" transform="rotate(-27 219 602.7) translate(0 -3)" fill="none" stroke="#8C3B2B" stroke-width="0.9"/>
<path d="M110.7 735.1V765.3M121.7 750.2V773.7M136.3 730.9V754.4M131.1 763.8V786.7M148.3 747.1V766.4M159.2 754.4V777.8M124.8 735.6H142M144.6 729.9H161.8M132.1 747.6H149.8M150.9 746.6H167.6M142.5 765.9H159.7M163.4 759.8H180.6" stroke="#F3A14B" stroke-width="1.5" fill="none"/>
<path d="M128 741.9L144.6 729.9M114.4 760.7L132.1 747.6M134.7 758L150.9 746.6M126.4 777.8L142.5 765.9M146.7 771.6L163.4 759.8" stroke="#3DB2EA" stroke-width="1.4" fill="none"/>
<path d="M110.2 757H127.4M136.3 754.4H153M121.7 773.7H138.4M148.8 769H166M131.1 786.7H148.8M159.2 777.8H176.4" stroke="#2B9A4C" stroke-width="1.5" fill="none"/>
<path d="M220.5 683 L228 676 L236 669 L241 663.5 L248 662 L258 660.3 L268 660.5 L275 664 L279.5 671 L281.8 681.5 L279 681.5 L277 672.5 L272 666.5 L265 664.7 L256 665 L248 667.5 L241 671 L234 676.5 L226 683.5 L222 686.5 Z" fill="#530A0B"/>
<g fill="none" stroke="#530A0B" stroke-linecap="round"><path d="M218.3 692 Q219 712 232 724" stroke-width="5.5"/><path d="M238.5 729.5 Q252 733.5 266 728" stroke-width="3.8"/><path d="M283 696 Q283 710 272.5 720" stroke-width="3.8"/><path d="M238.5 667 L233.5 656.5 M241.5 664.5 L245 656.5 M233 672 L227.5 667.5" stroke-width="3.6"/><path d="M229 672 L221.5 662.5" stroke-width="2"/></g>
<circle cx="205.5" cy="669.2" r="2.4" fill="#F6A94F"/>
<circle cx="220.1" cy="673.7" r="2.4" fill="#F6A94F"/>
<circle cx="221.5" cy="659.2" r="1.9" fill="#F6A94F"/>
<circle cx="232.9" cy="661.4" r="2.0" fill="#F6A94F"/>
<circle cx="248.8" cy="662.3" r="2.0" fill="#F6A94F"/>
<g stroke="#2A9FE2" stroke-width="1.9" fill="none" stroke-linecap="round"><path d="M250.4 686 Q257 684 265.7 682 M249.2 674.9 Q250.5 681 253 686"/><path d="M244 704 Q240 707 236.5 709.5 M247 705 Q251 711 252 717.5"/></g>
<ellipse cx="250.6" cy="696" rx="9.8" ry="11.2" transform="rotate(35 250.6 696)" fill="#2A9FE2"/>
<path d="M245 689.5 L256 694 M243.5 695 L255 700 M245 701 L253 704.5 M248.5 685.5 L257 689" stroke="#E3D877" stroke-width="1.1" opacity="0.85"/>
<g stroke="#9B2C9B" stroke-width="3.8" stroke-linecap="butt"><path d="M362 695.3 L353.3 730 M335.7 731 L369.9 710.4 M345.9 710 L380.6 733.9 M352.8 740.7 L386 720.2"/></g>
<circle cx="345.9" cy="710" r="5" fill="#178B80"/>
<circle cx="335.7" cy="731.4" r="5" fill="#178B80"/>
<circle cx="352.8" cy="732.4" r="5" fill="#178B80"/>
<circle cx="352.8" cy="742.7" r="5" fill="#178B80"/>
<text x="110.03" y="466.6" font-size="14.0" textLength="80.75" lengthAdjust="spacingAndGlyphs" font-weight="bold" fill="#1c1a17">Extracellular</text>
<text x="110.43" y="482.7" font-size="14.0" textLength="38.14" lengthAdjust="spacingAndGlyphs" font-weight="bold" fill="#1c1a17">space</text>
<text x="232.43" y="540.3" font-size="14.0" textLength="66.03" lengthAdjust="spacingAndGlyphs" font-weight="bold" fill="#1c1a17">Lysosome</text>
<text x="302.46" y="588.5" font-size="14.0" textLength="102.39" lengthAdjust="spacingAndGlyphs" font-weight="bold" fill="#1c1a17">Golgi apparatus</text>
<text x="180.03" y="622.3" font-size="14.0" textLength="93.38" lengthAdjust="spacingAndGlyphs" font-weight="bold" fill="#1c1a17">Mitochondrion</text>
<text x="309.76" y="637.6" font-size="14.0" textLength="49.32" lengthAdjust="spacingAndGlyphs" font-weight="bold" fill="#1c1a17">Cytosol</text>
<text x="190.53" y="655.7" font-size="14.0" textLength="83.71" lengthAdjust="spacingAndGlyphs" font-weight="bold" fill="#1c1a17">Endoplasmic</text>
<text x="310.66" y="691.9" font-size="14.0" textLength="84.46" lengthAdjust="spacingAndGlyphs" font-weight="bold" fill="#1c1a17">Cytoskeleton</text>
<text x="241.13" y="749.4" font-size="14.0" textLength="60.54" lengthAdjust="spacingAndGlyphs" font-weight="bold" fill="#1c1a17">Nucleous</text>
<text x="88.53" y="804.4" font-size="14.0" textLength="124.85" lengthAdjust="spacingAndGlyphs" font-weight="bold" fill="#1c1a17">Extracellular matrix</text>
<text x="193.02" y="466.6" font-size="13.53" textLength="14.46" lengthAdjust="spacingAndGlyphs" font-weight="bold" fill="#E3121B">10</text>
<text x="193.11" y="479.1" font-size="13.53" textLength="7.23" lengthAdjust="spacingAndGlyphs" font-weight="bold" fill="#1B8C3C">4</text>
<text x="309.62" y="537.4" font-size="13.53" textLength="7.23" lengthAdjust="spacingAndGlyphs" font-weight="bold" fill="#E3121B">1</text>
<text x="309.88" y="550.1" font-size="13.53" textLength="7.23" lengthAdjust="spacingAndGlyphs" font-weight="bold" fill="#1B8C3C">3</text>
<text x="414.48" y="582.2" font-size="13.53" textLength="7.23" lengthAdjust="spacingAndGlyphs" font-weight="bold" fill="#E3121B">7</text>
<text x="414.82" y="595.8" font-size="13.53" textLength="14.46" lengthAdjust="spacingAndGlyphs" font-weight="bold" fill="#1B8C3C">13</text>
<text x="278.12" y="622.0" font-size="13.53" textLength="13.74" lengthAdjust="spacingAndGlyphs" font-weight="bold" fill="#E3121B">11</text>
<text x="278.12" y="635.3" font-size="13.53" textLength="14.46" lengthAdjust="spacingAndGlyphs" font-weight="bold" fill="#1B8C3C">17</text>
<text x="362.05" y="635.2" font-size="13.53" textLength="14.46" lengthAdjust="spacingAndGlyphs" font-weight="bold" fill="#E3121B">22</text>
<text x="362.05" y="648.4" font-size="13.53" textLength="14.46" lengthAdjust="spacingAndGlyphs" font-weight="bold" fill="#1B8C3C">27</text>
<text x="278.68" y="655.7" font-size="13.53" textLength="7.23" lengthAdjust="spacingAndGlyphs" font-weight="bold" fill="#E3121B">7</text>
<text x="278.12" y="667.7" font-size="13.53" textLength="14.46" lengthAdjust="spacingAndGlyphs" font-weight="bold" fill="#1B8C3C">17</text>
<text x="401.32" y="687.5" font-size="13.53" textLength="14.46" lengthAdjust="spacingAndGlyphs" font-weight="bold" fill="#E3121B">14</text>
<text x="401.21" y="701.1" font-size="13.53" textLength="7.23" lengthAdjust="spacingAndGlyphs" font-weight="bold" fill="#1B8C3C">8</text>
<text x="303.28" y="744.9" font-size="13.53" textLength="14.46" lengthAdjust="spacingAndGlyphs" font-weight="bold" fill="#E3121B">31</text>
<text x="303.28" y="757.7" font-size="13.53" textLength="14.46" lengthAdjust="spacingAndGlyphs" font-weight="bold" fill="#1B8C3C">35</text>
<text x="219.24" y="794.5" font-size="13.53" textLength="7.23" lengthAdjust="spacingAndGlyphs" font-weight="bold" fill="#E3121B">6</text>
<text x="219.24" y="807.6" font-size="13.53" textLength="7.23" lengthAdjust="spacingAndGlyphs" font-weight="bold" fill="#1B8C3C">2</text>
<g fill="none" stroke="#7C0C82" stroke-linecap="round" stroke-linejoin="round"><path d="M358.5 520.5 C372 522.5 384 530 391 545 S400.5 568 401 579" stroke-width="7"/><path d="M379 547 C385 553 388 565 389 577" stroke-width="6"/><path d="M357.6 535.5 Q370 538 382 546" stroke-width="6.5"/><path d="M349.8 541.3 Q357 551 366 556" stroke-width="6.5"/><path d="M341.5 554.3 Q357 556 363 570 T369.6 595" stroke-width="6.5"/><path d="M372 561 Q377 573 380 588" stroke-width="6"/></g>
<path d="M362 547 L382 544 L384 556 L378 563 L364 566 Z" fill="#7C0C82"/>
<circle cx="358.3" cy="520.4" r="4.8" fill="#7C0C82"/>
<text x="14.93" y="897.4" font-size="37.4" textLength="22.28" lengthAdjust="spacingAndGlyphs" stroke="#000" stroke-width="0.4">E</text>
<text x="585.11" y="873.0" font-size="41.7" textLength="181.55" lengthAdjust="spacingAndGlyphs">B.vs.A.UP</text>
<rect x="486.3" y="895.1" width="127.0" height="24" fill="#6877B4"/>
<text x="109.26" y="914.8" font-size="20.71" textLength="350.66" lengthAdjust="spacingAndGlyphs" fill="#111">regulation of humoral immune response</text>
<rect x="486.3" y="925.8" width="127.0" height="24" fill="#6877B4"/>
<text x="244.58" y="945.5" font-size="20.71" textLength="215.72" lengthAdjust="spacingAndGlyphs" fill="#111">regulation of myelination</text>
<rect x="486.3" y="956.6" width="84.7" height="24" fill="#6877B4"/>
<text x="131.15" y="976.3" font-size="20.71" textLength="328.51" lengthAdjust="spacingAndGlyphs" fill="#111">cellular response to fluid shear stress</text>
<rect x="486.3" y="987.3" width="84.7" height="24" fill="#6877B4"/>
<text x="214.13" y="1007.0" font-size="20.71" textLength="245.60" lengthAdjust="spacingAndGlyphs" fill="#111">renal tubule morphogenesis</text>
<rect x="486.3" y="1018.0" width="127.0" height="24" fill="#6877B4"/>
<text x="230.75" y="1037.7" font-size="20.71" textLength="228.94" lengthAdjust="spacingAndGlyphs" fill="#111">vitamin metabolic process</text>
<rect x="486.3" y="1048.8" width="254.0" height="24" fill="#F5603F"/>
<text x="351.54" y="1068.5" font-size="20.71" textLength="108.41" lengthAdjust="spacingAndGlyphs" fill="#111">growth cone</text>
<rect x="486.3" y="1079.5" width="254.0" height="24" fill="#F5603F"/>
<text x="255.72" y="1099.2" font-size="20.71" textLength="204.64" lengthAdjust="spacingAndGlyphs" fill="#111">site of polarized growth</text>
<rect x="486.3" y="1110.2" width="211.6" height="24" fill="#F5603F"/>
<text x="164.98" y="1130.0" font-size="20.71" textLength="294.97" lengthAdjust="spacingAndGlyphs" fill="#111">Schaffer collateral - CA1 synapse</text>
<rect x="486.3" y="1141.0" width="381.0" height="24" fill="#F5603F"/>
<text x="380.49" y="1160.7" font-size="20.71" textLength="78.54" lengthAdjust="spacingAndGlyphs" fill="#111">cell body</text>
<rect x="486.3" y="1171.7" width="127.0" height="24" fill="#F5603F"/>
<text x="223.38" y="1191.4" font-size="20.71" textLength="235.63" lengthAdjust="spacingAndGlyphs" fill="#111">site of double-strand break</text>
<rect x="486.3" y="1202.5" width="84.7" height="24" fill="#4AAE82"/>
<text x="236.82" y="1222.2" font-size="20.71" textLength="223.49" lengthAdjust="spacingAndGlyphs" fill="#111">phosphatidic acid binding</text>
<rect x="486.3" y="1233.2" width="211.6" height="24" fill="#4AAE82"/>
<text x="222.29" y="1252.9" font-size="20.71" textLength="236.73" lengthAdjust="spacingAndGlyphs" fill="#111">peptidase regulator activity</text>
<rect x="486.3" y="1263.9" width="211.6" height="24" fill="#4AAE82"/>
<text x="189.26" y="1283.6" font-size="20.71" textLength="271.05" lengthAdjust="spacingAndGlyphs" fill="#111">cell adhesion molecule binding</text>
<rect x="486.3" y="1294.7" width="211.6" height="24" fill="#4AAE82"/>
<text x="153.73" y="1314.4" font-size="20.71" textLength="305.29" lengthAdjust="spacingAndGlyphs" fill="#111">phosphoric ester hydrolase activity</text>
<rect x="486.3" y="1325.4" width="169.3" height="24" fill="#4AAE82"/>
<text x="278.71" y="1345.1" font-size="20.71" textLength="180.32" lengthAdjust="spacingAndGlyphs" fill="#111">phosphatase activity</text>
<path d="M462.8 907.1H467.4M462.8 937.8H467.4M462.8 968.6H467.4M462.8 999.3H467.4M462.8 1030.0H467.4M462.8 1060.8H467.4M462.8 1091.5H467.4M462.8 1122.2H467.4M462.8 1153.0H467.4M462.8 1183.7H467.4M462.8 1214.5H467.4M462.8 1245.2H467.4M462.8 1275.9H467.4M462.8 1306.7H467.4M462.8 1337.4H467.4" stroke="#333" stroke-width="1"/>
<rect x="467.4" y="889.5" width="416.6" height="465.5" fill="none" stroke="#3a3a3a" stroke-width="1.1"/>
<path d="M486.3 1355V1359.6M571.0 1355V1359.6M655.6 1355V1359.6M740.3 1355V1359.6M824.9 1355V1359.6" stroke="#333" stroke-width="1"/>
<defs><clipPath id="upclip"><rect x="440" y="1359.5" width="460" height="6.5"/></clipPath></defs>
<g clip-path="url(#upclip)"><text x="480.92" y="1375.0" font-size="19.98" textLength="10.68" lengthAdjust="spacingAndGlyphs" fill="#111">0</text><text x="565.63" y="1375.0" font-size="19.98" textLength="10.68" lengthAdjust="spacingAndGlyphs" fill="#111">2</text><text x="650.39" y="1375.0" font-size="19.98" textLength="10.68" lengthAdjust="spacingAndGlyphs" fill="#111">4</text><text x="734.86" y="1375.0" font-size="19.98" textLength="10.68" lengthAdjust="spacingAndGlyphs" fill="#111">6</text><text x="819.56" y="1375.0" font-size="19.98" textLength="10.68" lengthAdjust="spacingAndGlyphs" fill="#111">8</text></g>

<text x="544.69" y="1412.4" font-size="41.6" textLength="254.06" lengthAdjust="spacingAndGlyphs">B.vs.A.DOWN</text>
<rect x="476.9" y="1435.1" width="194.8" height="24" fill="#6877B4"/>
<text x="110.11" y="1454.8" font-size="20.71" textLength="340.75" lengthAdjust="spacingAndGlyphs" fill="#111">regulation of postsynapse organization</text>
<rect x="476.9" y="1465.8" width="116.9" height="24" fill="#6877B4"/>
<text x="157.47" y="1485.5" font-size="20.71" textLength="292.03" lengthAdjust="spacingAndGlyphs" fill="#111">cellular response to amyloid-beta</text>
<rect x="476.9" y="1496.6" width="155.8" height="24" fill="#6877B4"/>
<text x="235.08" y="1516.3" font-size="20.71" textLength="215.70" lengthAdjust="spacingAndGlyphs" fill="#111">mitochondrial translation</text>
<rect x="476.9" y="1527.3" width="350.6" height="24" fill="#6877B4"/>
<text x="194.88" y="1547.0" font-size="20.71" textLength="255.51" lengthAdjust="spacingAndGlyphs" fill="#111">localization within membrane</text>
<rect x="476.9" y="1558.0" width="233.7" height="24" fill="#6877B4"/>
<text x="179.56" y="1577.7" font-size="20.71" textLength="269.90" lengthAdjust="spacingAndGlyphs" fill="#111">regulation of synaptic plasticity</text>
<rect x="476.9" y="1588.7" width="389.5" height="24" fill="#F5603F"/>
<text x="338.66" y="1608.4" font-size="20.71" textLength="111.74" lengthAdjust="spacingAndGlyphs" fill="#111">postsynapse</text>
<rect x="476.9" y="1619.5" width="272.7" height="24" fill="#F5603F"/>
<text x="322.14" y="1639.2" font-size="20.71" textLength="128.32" lengthAdjust="spacingAndGlyphs" fill="#111">dendritic spine</text>
<rect x="476.9" y="1650.2" width="272.7" height="24" fill="#F5603F"/>
<text x="335.37" y="1669.9" font-size="20.71" textLength="115.07" lengthAdjust="spacingAndGlyphs" fill="#111">neuron spine</text>
<rect x="476.9" y="1680.9" width="233.7" height="24" fill="#F5603F"/>
<text x="342.04" y="1700.6" font-size="20.71" textLength="108.41" lengthAdjust="spacingAndGlyphs" fill="#111">growth cone</text>
<rect x="476.9" y="1711.7" width="233.7" height="24" fill="#F5603F"/>
<text x="246.22" y="1731.4" font-size="20.71" textLength="204.64" lengthAdjust="spacingAndGlyphs" fill="#111">site of polarized growth</text>
<rect x="476.9" y="1742.4" width="350.6" height="24" fill="#4AAE82"/>
<text x="226.12" y="1762.1" font-size="20.71" textLength="223.41" lengthAdjust="spacingAndGlyphs" fill="#111">GTPase regulator activity</text>
<rect x="476.9" y="1773.1" width="194.8" height="24" fill="#4AAE82"/>
<text x="157.27" y="1792.8" font-size="20.71" textLength="293.11" lengthAdjust="spacingAndGlyphs" fill="#111">structural constituent of ribosome</text>
<rect x="476.9" y="1803.8" width="77.9" height="24" fill="#4AAE82"/>
<text x="202.14" y="1823.5" font-size="20.71" textLength="247.38" lengthAdjust="spacingAndGlyphs" fill="#111">MAP-kinase scaffold activity</text>
<rect x="476.9" y="1834.6" width="116.9" height="24" fill="#4AAE82"/>
<text x="301.34" y="1854.3" font-size="20.71" textLength="148.20" lengthAdjust="spacingAndGlyphs" fill="#111">G protein activity</text>
<rect x="476.9" y="1865.3" width="155.8" height="24" fill="#4AAE82"/>
<text x="287.02" y="1885.0" font-size="20.71" textLength="163.76" lengthAdjust="spacingAndGlyphs" fill="#111">chaperone binding</text>
<path d="M452.8 1447.1H457.4M452.8 1477.8H457.4M452.8 1508.6H457.4M452.8 1539.3H457.4M452.8 1570.0H457.4M452.8 1600.7H457.4M452.8 1631.5H457.4M452.8 1662.2H457.4M452.8 1692.9H457.4M452.8 1723.7H457.4M452.8 1754.4H457.4M452.8 1785.1H457.4M452.8 1815.8H457.4M452.8 1846.6H457.4M452.8 1877.3H457.4" stroke="#333" stroke-width="1"/>
<rect x="457.4" y="1429.5" width="428.2" height="465.4" fill="none" stroke="#3a3a3a" stroke-width="1.1"/>
<path d="M476.9 1894.9V1899.5M554.8 1894.9V1899.5M632.7 1894.9V1899.5M710.6 1894.9V1899.5M788.5 1894.9V1899.5M866.4 1894.9V1899.5" stroke="#333" stroke-width="1"/>
<text x="471.52" y="1916.3" font-size="19.98" textLength="10.68" lengthAdjust="spacingAndGlyphs" fill="#111">0</text>
<text x="549.47" y="1916.3" font-size="19.98" textLength="10.68" lengthAdjust="spacingAndGlyphs" fill="#111">2</text>
<text x="627.47" y="1916.3" font-size="19.98" textLength="10.68" lengthAdjust="spacingAndGlyphs" fill="#111">4</text>
<text x="705.18" y="1916.3" font-size="19.98" textLength="10.68" lengthAdjust="spacingAndGlyphs" fill="#111">6</text>
<text x="783.12" y="1916.3" font-size="19.98" textLength="10.68" lengthAdjust="spacingAndGlyphs" fill="#111">8</text>
<text x="855.36" y="1916.3" font-size="19.98" textLength="21.36" lengthAdjust="spacingAndGlyphs" fill="#111">10</text>
<text x="572.15" y="1947.4" font-size="34.156976744186046" textLength="197.95" lengthAdjust="spacingAndGlyphs">GeneNumber</text>
<text x="4.01" y="1053.7" font-size="24.418604651162795" textLength="124.63" lengthAdjust="spacingAndGlyphs">ONTOLOGY</text>
<rect x="5.3" y="1067.7" width="21.6" height="22.5" fill="#6877B4"/>
<rect x="5.3" y="1092.5" width="21.6" height="22.3" fill="#F5603F"/>
<rect x="5.3" y="1117.1" width="21.6" height="21" fill="#4AAE82"/>
<text x="38.30" y="1084.7" font-size="15.3" textLength="23.35" lengthAdjust="spacingAndGlyphs">BP</text>
<text x="38.88" y="1109.4" font-size="15.3" textLength="23.77" lengthAdjust="spacingAndGlyphs">CC</text>
<text x="38.35" y="1134.0" font-size="15.3" textLength="24.30" lengthAdjust="spacingAndGlyphs">MF</text>
<text x="944.02" y="897.4" font-size="37.4" textLength="21.19" lengthAdjust="spacingAndGlyphs" stroke="#000" stroke-width="0.4">F</text>
<path d="M1265.2 877V1356.8M1309.8 877V1356.8M1354.2 877V1356.8M1398.8 877V1356.8" stroke="#F0F0F0" stroke-width="0.6"/>
<path d="M1243.0 877V1356.8M1287.5 877V1356.8M1332.0 877V1356.8M1376.5 877V1356.8M1221.3 896.5H1416.8M1221.3 928.0H1416.8M1221.3 959.6H1416.8M1221.3 991.1H1416.8M1221.3 1022.7H1416.8M1221.3 1054.2H1416.8M1221.3 1085.7H1416.8M1221.3 1117.3H1416.8M1221.3 1148.8H1416.8M1221.3 1180.4H1416.8M1221.3 1211.9H1416.8M1221.3 1243.4H1416.8M1221.3 1275.0H1416.8M1221.3 1306.5H1416.8M1221.3 1338.1H1416.8" stroke="#E6E6E6" stroke-width="1"/>
<circle cx="1392.8" cy="896.5" r="8.0" fill="#F0141E"/>
<text x="1036.69" y="902.2" font-size="16.83" textLength="179.79" lengthAdjust="spacingAndGlyphs" fill="#111">Insulin signaling pathway</text>
<circle cx="1345.9" cy="928.0" r="8.8" fill="#E8142E"/>
<text x="1072.83" y="933.7" font-size="16.83" textLength="144.72" lengthAdjust="spacingAndGlyphs" fill="#111">Salmonella infection</text>
<circle cx="1366.7" cy="959.6" r="8.0" fill="#D91446"/>
<text x="1121.99" y="965.3" font-size="16.83" textLength="95.58" lengthAdjust="spacingAndGlyphs" fill="#111">Tight junction</text>
<circle cx="1336.7" cy="991.1" r="8.0" fill="#B41A6E"/>
<text x="949.29" y="996.8" font-size="16.83" textLength="268.71" lengthAdjust="spacingAndGlyphs" fill="#111">Chemical carcinogenesis - reactive ...</text>
<circle cx="1311.0" cy="1022.7" r="8.8" fill="#A11C82"/>
<text x="1085.12" y="1028.4" font-size="16.83" textLength="132.12" lengthAdjust="spacingAndGlyphs" fill="#111">Alzheimer disease</text>
<circle cx="1321.0" cy="1054.2" r="8.0" fill="#8E1E96"/>
<text x="1119.24" y="1059.9" font-size="16.83" textLength="97.98" lengthAdjust="spacingAndGlyphs" fill="#111">Prion disease</text>
<circle cx="1342.7" cy="1085.7" r="6.8" fill="#7F1EA6"/>
<text x="1041.22" y="1091.4" font-size="16.83" textLength="175.29" lengthAdjust="spacingAndGlyphs" fill="#111">Hippo signaling pathway</text>
<circle cx="1311.8" cy="1117.3" r="8.0" fill="#6A1EB8"/>
<text x="1078.81" y="1123.0" font-size="16.83" textLength="138.44" lengthAdjust="spacingAndGlyphs" fill="#111">Huntington disease</text>
<circle cx="1298.2" cy="1148.8" r="8.8" fill="#5A14CC"/>
<text x="935.79" y="1154.5" font-size="16.83" textLength="282.25" lengthAdjust="spacingAndGlyphs" fill="#111">Pathways of neurodegeneration - mul...</text>
<circle cx="1329.5" cy="1180.4" r="6.8" fill="#5014DA"/>
<text x="1126.03" y="1186.1" font-size="16.83" textLength="91.07" lengthAdjust="spacingAndGlyphs" fill="#111">Tuberculosis</text>
<circle cx="1389.6" cy="1211.9" r="4.8" fill="#5014D8"/>
<text x="982.76" y="1217.6" font-size="16.83" textLength="233.72" lengthAdjust="spacingAndGlyphs" fill="#111">Adipocytokine signaling pathway</text>
<circle cx="1379.9" cy="1243.4" r="4.8" fill="#3A14EC"/>
<text x="1087.38" y="1249.1" font-size="16.83" textLength="129.43" lengthAdjust="spacingAndGlyphs" fill="#111">Pancreatic cancer</text>
<circle cx="1377.9" cy="1275.0" r="4.8" fill="#3A14EC"/>
<text x="1150.61" y="1280.7" font-size="16.83" textLength="66.50" lengthAdjust="spacingAndGlyphs" fill="#111">Pertussis</text>
<circle cx="1319.8" cy="1306.5" r="6.8" fill="#2A1AF2"/>
<text x="1107.92" y="1312.2" font-size="16.83" textLength="109.67" lengthAdjust="spacingAndGlyphs" fill="#111">Focal adhesion</text>
<circle cx="1366.7" cy="1338.1" r="4.8" fill="#1A1AFA"/>
<text x="1047.52" y="1343.8" font-size="16.83" textLength="168.99" lengthAdjust="spacingAndGlyphs" fill="#111">ErbB signaling pathway</text>
<path d="M1217.8 896.5H1221.3M1217.8 928.0H1221.3M1217.8 959.6H1221.3M1217.8 991.1H1221.3M1217.8 1022.7H1221.3M1217.8 1054.2H1221.3M1217.8 1085.7H1221.3M1217.8 1117.3H1221.3M1217.8 1148.8H1221.3M1217.8 1180.4H1221.3M1217.8 1211.9H1221.3M1217.8 1243.4H1221.3M1217.8 1275.0H1221.3M1217.8 1306.5H1221.3M1217.8 1338.1H1221.3M1243.0 1356.8V1360.3M1287.5 1356.8V1360.3M1332.0 1356.8V1360.3M1376.5 1356.8V1360.3" stroke="#333" stroke-width="1"/>
<rect x="1221.3" y="877" width="195.5" height="479.8" fill="none" stroke="#8a8a8a" stroke-width="1.1"/>
<text x="1231.56" y="1373.5" font-size="17.07" textLength="22.80" lengthAdjust="spacingAndGlyphs" fill="#222">0.0</text>
<text x="1276.02" y="1373.5" font-size="17.07" textLength="22.80" lengthAdjust="spacingAndGlyphs" fill="#222">2.5</text>
<text x="1320.56" y="1373.5" font-size="17.07" textLength="22.80" lengthAdjust="spacingAndGlyphs" fill="#222">5.0</text>
<text x="1365.02" y="1373.5" font-size="17.07" textLength="22.80" lengthAdjust="spacingAndGlyphs" fill="#222">7.5</text>
<text x="1257.05" y="1391.5" font-size="21.02" textLength="121.26" lengthAdjust="spacingAndGlyphs">Enrich_Score</text>
<text x="1428.99" y="1016.0" font-size="12.7" textLength="32.56" lengthAdjust="spacingAndGlyphs" fill="#222">Count</text>
<circle cx="1440.8" cy="1032.3" r="4.4" fill="#000"/>
<text x="1459.17" y="1034.6" font-size="6.76" textLength="3.62" lengthAdjust="spacingAndGlyphs" fill="#222">2</text>
<circle cx="1440.8" cy="1049.5" r="6.2" fill="#000"/>
<text x="1459.24" y="1051.8" font-size="6.76" textLength="3.62" lengthAdjust="spacingAndGlyphs" fill="#222">3</text>
<circle cx="1440.8" cy="1068.7" r="7.6" fill="#000"/>
<text x="1459.37" y="1071.0" font-size="6.76" textLength="3.62" lengthAdjust="spacingAndGlyphs" fill="#222">4</text>
<circle cx="1440.8" cy="1090.4" r="8.8" fill="#000"/>
<text x="1459.24" y="1092.7" font-size="6.76" textLength="3.62" lengthAdjust="spacingAndGlyphs" fill="#222">5</text>
<text x="1429.6" y="1131.6" font-size="12.3" fill="#222">−log<tspan font-size="8" dy="2.5">10</tspan><tspan dy="-2.5">(pvalue)</tspan></text>
<defs><linearGradient id="g1141" x1="0" y1="0" x2="0" y2="1"><stop offset="0" stop-color="#FF0010"/><stop offset="0.5" stop-color="#8A0E96"/><stop offset="1" stop-color="#0A18FF"/></linearGradient></defs>
<rect x="1429.6" y="1141.7" width="17.4" height="85.7" fill="url(#g1141)"/>
<path d="M1429.6 1166.5h3M1444 1166.5h3" stroke="#fff" stroke-width="0.6"/>
<text x="1454.17" y="1168.8" font-size="6.76" textLength="9.04" lengthAdjust="spacingAndGlyphs" fill="#222">2.5</text>
<path d="M1429.6 1196.6h3M1444 1196.6h3" stroke="#fff" stroke-width="0.6"/>
<text x="1454.17" y="1198.9" font-size="6.76" textLength="9.04" lengthAdjust="spacingAndGlyphs" fill="#222">2.0</text>
<path d="M1429.6 1226.6h3M1444 1226.6h3" stroke="#fff" stroke-width="0.6"/>
<text x="1454.01" y="1228.9" font-size="6.76" textLength="9.04" lengthAdjust="spacingAndGlyphs" fill="#222">1.5</text>
<path d="M1211.7 1416V1880M1255.7 1416V1880M1299.7 1416V1880M1343.7 1416V1880M1387.7 1416V1880" stroke="#F0F0F0" stroke-width="0.6"/>
<path d="M1233.7 1416V1880M1277.7 1416V1880M1321.7 1416V1880M1365.7 1416V1880M1409.7 1416V1880M1207.7 1455.3H1420M1207.7 1519.8H1420M1207.7 1584.2H1420M1207.7 1648.7H1420M1207.7 1713.1H1420M1207.7 1777.5H1420M1207.7 1842.0H1420" stroke="#E6E6E6" stroke-width="1"/>
<circle cx="1286.2" cy="1455.3" r="8.8" fill="#F01010"/>
<text x="1070.32" y="1461.0" font-size="16.23" textLength="134.42" lengthAdjust="spacingAndGlyphs" fill="#111">Autophagy - animal</text>
<circle cx="1275.4" cy="1519.8" r="8.8" fill="#D8103C"/>
<text x="1134.20" y="1525.5" font-size="16.23" textLength="70.23" lengthAdjust="spacingAndGlyphs" fill="#111">Ribosome</text>
<circle cx="1394.0" cy="1584.2" r="4.8" fill="#C8104E"/>
<text x="1046.45" y="1589.9" font-size="16.23" textLength="157.81" lengthAdjust="spacingAndGlyphs" fill="#111">Fatty acid biosynthesis</text>
<circle cx="1337.9" cy="1648.7" r="4.8" fill="#A0108C"/>
<text x="1060.80" y="1654.4" font-size="16.23" textLength="143.96" lengthAdjust="spacingAndGlyphs" fill="#111">Fatty acid elongation</text>
<circle cx="1260.1" cy="1713.1" r="8.8" fill="#7A10B4"/>
<text x="1120.16" y="1718.8" font-size="16.23" textLength="84.11" lengthAdjust="spacingAndGlyphs" fill="#111">Endocytosis</text>
<circle cx="1273.0" cy="1777.5" r="7.0" fill="#6A1EC8"/>
<text x="956.28" y="1783.2" font-size="16.23" textLength="248.87" lengthAdjust="spacingAndGlyphs" fill="#111">C-type lectin receptor signaling pa...</text>
<circle cx="1281.4" cy="1842.0" r="5.5" fill="#1A28F5"/>
<text x="1052.93" y="1847.7" font-size="16.23" textLength="151.72" lengthAdjust="spacingAndGlyphs" fill="#111">Fatty acid metabolism</text>
<path d="M1204.2 1455.3H1207.7M1204.2 1519.8H1207.7M1204.2 1584.2H1207.7M1204.2 1648.7H1207.7M1204.2 1713.1H1207.7M1204.2 1777.5H1207.7M1204.2 1842.0H1207.7M1233.7 1880V1883.5M1277.7 1880V1883.5M1321.7 1880V1883.5M1365.7 1880V1883.5M1409.7 1880V1883.5" stroke="#333" stroke-width="1"/>
<rect x="1207.7" y="1416" width="212.3" height="464.0" fill="none" stroke="#8a8a8a" stroke-width="1.1"/>
<text x="1229.11" y="1896.0" font-size="17.07" textLength="9.12" lengthAdjust="spacingAndGlyphs" fill="#222">0</text>
<text x="1273.15" y="1896.0" font-size="17.07" textLength="9.12" lengthAdjust="spacingAndGlyphs" fill="#222">5</text>
<text x="1312.27" y="1896.0" font-size="17.07" textLength="18.24" lengthAdjust="spacingAndGlyphs" fill="#222">10</text>
<text x="1356.31" y="1896.0" font-size="17.07" textLength="18.24" lengthAdjust="spacingAndGlyphs" fill="#222">15</text>
<text x="1400.48" y="1896.0" font-size="17.07" textLength="18.24" lengthAdjust="spacingAndGlyphs" fill="#222">20</text>
<text x="1254.06" y="1913.5" font-size="20.4" textLength="117.66" lengthAdjust="spacingAndGlyphs">Enrich_Score</text>
<text x="1432.99" y="1551.0" font-size="12.7" textLength="32.56" lengthAdjust="spacingAndGlyphs" fill="#222">Count</text>
<circle cx="1444.8" cy="1566.3" r="4.4" fill="#000"/>
<text x="1462.17" y="1568.6" font-size="6.76" textLength="3.62" lengthAdjust="spacingAndGlyphs" fill="#222">2</text>
<circle cx="1444.8" cy="1583.5" r="6.4" fill="#000"/>
<text x="1462.24" y="1585.8" font-size="6.76" textLength="3.62" lengthAdjust="spacingAndGlyphs" fill="#222">3</text>
<circle cx="1444.8" cy="1602.3" r="7.6" fill="#000"/>
<text x="1462.37" y="1604.6" font-size="6.76" textLength="3.62" lengthAdjust="spacingAndGlyphs" fill="#222">4</text>
<circle cx="1444.8" cy="1623.2" r="8.6" fill="#000"/>
<text x="1462.24" y="1625.5" font-size="6.76" textLength="3.62" lengthAdjust="spacingAndGlyphs" fill="#222">5</text>
<text x="1433.6" y="1663.6" font-size="12.3" fill="#222">−log<tspan font-size="8" dy="2.5">10</tspan><tspan dy="-2.5">(pvalue)</tspan></text>
<defs><linearGradient id="g1671" x1="0" y1="0" x2="0" y2="1"><stop offset="0" stop-color="#FF0010"/><stop offset="0.5" stop-color="#8A0E96"/><stop offset="1" stop-color="#0A18FF"/></linearGradient></defs>
<rect x="1432.8" y="1671.6" width="16.8" height="84.2" fill="url(#g1671)"/>
<path d="M1432.8 1676.4h3M1446.6 1676.4h3" stroke="#fff" stroke-width="0.6"/>
<text x="1456.77" y="1678.7" font-size="6.76" textLength="9.04" lengthAdjust="spacingAndGlyphs" fill="#222">2.8</text>
<path d="M1432.8 1697.3h3M1446.6 1697.3h3" stroke="#fff" stroke-width="0.6"/>
<text x="1456.77" y="1699.6" font-size="6.76" textLength="9.04" lengthAdjust="spacingAndGlyphs" fill="#222">2.4</text>
<path d="M1432.8 1718.5h3M1446.6 1718.5h3" stroke="#fff" stroke-width="0.6"/>
<text x="1456.77" y="1720.8" font-size="6.76" textLength="9.04" lengthAdjust="spacingAndGlyphs" fill="#222">2.0</text>
<path d="M1432.8 1739.7h3M1446.6 1739.7h3" stroke="#fff" stroke-width="0.6"/>
<text x="1456.61" y="1742.0" font-size="6.76" textLength="9.04" lengthAdjust="spacingAndGlyphs" fill="#222">1.6</text>
</svg></body></html>
